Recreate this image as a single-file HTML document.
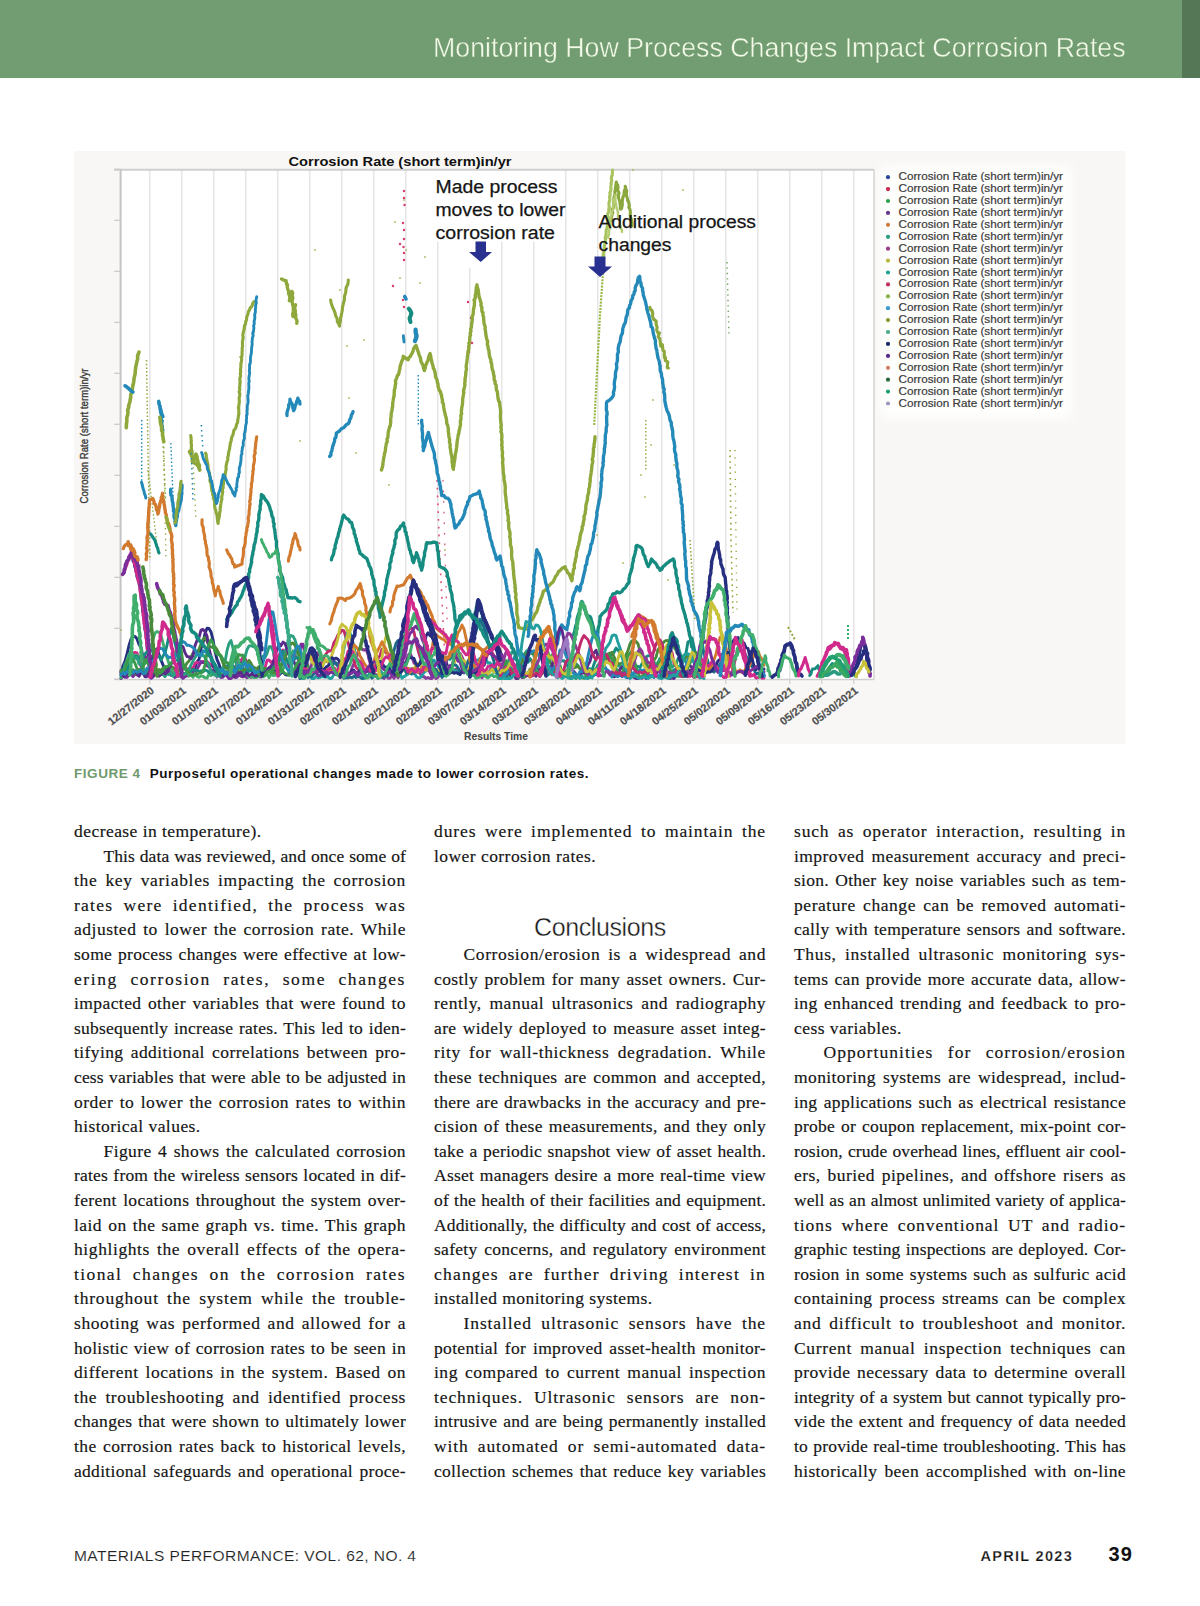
<!DOCTYPE html>
<html><head><meta charset="utf-8">
<style>
html,body{margin:0;padding:0;background:#fff;}
body{width:1200px;height:1606px;position:relative;overflow:hidden;}
.hdr{position:absolute;left:0;top:0;width:1182px;height:78px;background:#729c71;}
.hdr2{position:absolute;left:1182px;top:0;width:18px;height:78px;background:#557755;}
.title{position:absolute;left:433px;top:31.5px;font:28px "Liberation Sans",sans-serif;color:#f3fbe8;-webkit-text-stroke:0.45px #729c71;white-space:nowrap;transform-origin:0 0;transform:scaleX(0.955);}
.ln{position:absolute;width:332px;font-family:"Liberation Serif",serif;font-size:17.5px;line-height:24.6px;height:24.6px;color:#151515;white-space:nowrap;-webkit-text-stroke:0.18px #151515;}
.j{text-align:justify;text-align-last:justify;}
.i{text-align:justify;text-align-last:justify;padding-left:29.5px;width:302.5px;}
.l{text-align:left;}
.cap{position:absolute;left:74px;top:765.5px;font:bold 13.5px "Liberation Sans",sans-serif;white-space:nowrap;letter-spacing:0.55px;color:#111;}
.cap .fg{color:#6f9a6e;margin-right:9px;}
.concl{position:absolute;left:434px;width:332px;top:912.5px;text-align:center;font:25px "Liberation Sans",sans-serif;color:#1a1a1a;letter-spacing:-0.4px;-webkit-text-stroke:0.35px #fff;}
.foot1{position:absolute;left:74px;top:1547px;font:15.5px "Liberation Sans",sans-serif;color:#222;white-space:nowrap;letter-spacing:0.44px;-webkit-text-stroke:0.12px #fff;}
.foot2{position:absolute;left:980.5px;top:1548px;font:bold 14.5px "Liberation Sans",sans-serif;color:#111;letter-spacing:1.3px;white-space:nowrap;-webkit-text-stroke:0.25px #fff;}
.foot3{position:absolute;left:1108.5px;top:1542.5px;font:bold 20px "Liberation Sans",sans-serif;color:#111;white-space:nowrap;letter-spacing:1.2px;}
.chart{position:absolute;left:0;top:0;}
</style></head><body>
<div class="hdr"></div><div class="hdr2"></div>
<div class="title">Monitoring How Process Changes Impact Corrosion Rates</div>
<svg class="chart" width="1200" height="760" viewBox="0 0 1200 760">
<rect x="74" y="151" width="1051.5" height="593" fill="#f8f7f5"/>
<defs><filter id="bl" x="-20%" y="-20%" width="140%" height="140%"><feGaussianBlur stdDeviation="5"/></filter></defs><rect x="880" y="166" width="192" height="253" fill="#fefefd" filter="url(#bl)"/>
<rect x="120.5" y="169.5" width="753" height="510" fill="#ffffff"/>
<line x1="149.8" y1="170" x2="149.8" y2="679" stroke="#e3e3e3" stroke-width="1.4"/><line x1="149.8" y1="679" x2="149.8" y2="684" stroke="#c8c8c8" stroke-width="1"/><line x1="181.8" y1="170" x2="181.8" y2="679" stroke="#e3e3e3" stroke-width="1.4"/><line x1="181.8" y1="679" x2="181.8" y2="684" stroke="#c8c8c8" stroke-width="1"/><line x1="213.8" y1="170" x2="213.8" y2="679" stroke="#e3e3e3" stroke-width="1.4"/><line x1="213.8" y1="679" x2="213.8" y2="684" stroke="#c8c8c8" stroke-width="1"/><line x1="245.8" y1="170" x2="245.8" y2="679" stroke="#e3e3e3" stroke-width="1.4"/><line x1="245.8" y1="679" x2="245.8" y2="684" stroke="#c8c8c8" stroke-width="1"/><line x1="277.8" y1="170" x2="277.8" y2="679" stroke="#e3e3e3" stroke-width="1.4"/><line x1="277.8" y1="679" x2="277.8" y2="684" stroke="#c8c8c8" stroke-width="1"/><line x1="309.8" y1="170" x2="309.8" y2="679" stroke="#e3e3e3" stroke-width="1.4"/><line x1="309.8" y1="679" x2="309.8" y2="684" stroke="#c8c8c8" stroke-width="1"/><line x1="341.8" y1="170" x2="341.8" y2="679" stroke="#e3e3e3" stroke-width="1.4"/><line x1="341.8" y1="679" x2="341.8" y2="684" stroke="#c8c8c8" stroke-width="1"/><line x1="373.8" y1="170" x2="373.8" y2="679" stroke="#e3e3e3" stroke-width="1.4"/><line x1="373.8" y1="679" x2="373.8" y2="684" stroke="#c8c8c8" stroke-width="1"/><line x1="405.8" y1="170" x2="405.8" y2="679" stroke="#e3e3e3" stroke-width="1.4"/><line x1="405.8" y1="679" x2="405.8" y2="684" stroke="#c8c8c8" stroke-width="1"/><line x1="437.8" y1="170" x2="437.8" y2="679" stroke="#e3e3e3" stroke-width="1.4"/><line x1="437.8" y1="679" x2="437.8" y2="684" stroke="#c8c8c8" stroke-width="1"/><line x1="469.8" y1="170" x2="469.8" y2="679" stroke="#e3e3e3" stroke-width="1.4"/><line x1="469.8" y1="679" x2="469.8" y2="684" stroke="#c8c8c8" stroke-width="1"/><line x1="501.8" y1="170" x2="501.8" y2="679" stroke="#e3e3e3" stroke-width="1.4"/><line x1="501.8" y1="679" x2="501.8" y2="684" stroke="#c8c8c8" stroke-width="1"/><line x1="533.8" y1="170" x2="533.8" y2="679" stroke="#e3e3e3" stroke-width="1.4"/><line x1="533.8" y1="679" x2="533.8" y2="684" stroke="#c8c8c8" stroke-width="1"/><line x1="565.8" y1="170" x2="565.8" y2="679" stroke="#e3e3e3" stroke-width="1.4"/><line x1="565.8" y1="679" x2="565.8" y2="684" stroke="#c8c8c8" stroke-width="1"/><line x1="597.8" y1="170" x2="597.8" y2="679" stroke="#e3e3e3" stroke-width="1.4"/><line x1="597.8" y1="679" x2="597.8" y2="684" stroke="#c8c8c8" stroke-width="1"/><line x1="629.8" y1="170" x2="629.8" y2="679" stroke="#e3e3e3" stroke-width="1.4"/><line x1="629.8" y1="679" x2="629.8" y2="684" stroke="#c8c8c8" stroke-width="1"/><line x1="661.8" y1="170" x2="661.8" y2="679" stroke="#e3e3e3" stroke-width="1.4"/><line x1="661.8" y1="679" x2="661.8" y2="684" stroke="#c8c8c8" stroke-width="1"/><line x1="693.8" y1="170" x2="693.8" y2="679" stroke="#e3e3e3" stroke-width="1.4"/><line x1="693.8" y1="679" x2="693.8" y2="684" stroke="#c8c8c8" stroke-width="1"/><line x1="725.8" y1="170" x2="725.8" y2="679" stroke="#e3e3e3" stroke-width="1.4"/><line x1="725.8" y1="679" x2="725.8" y2="684" stroke="#c8c8c8" stroke-width="1"/><line x1="757.8" y1="170" x2="757.8" y2="679" stroke="#e3e3e3" stroke-width="1.4"/><line x1="757.8" y1="679" x2="757.8" y2="684" stroke="#c8c8c8" stroke-width="1"/><line x1="789.8" y1="170" x2="789.8" y2="679" stroke="#e3e3e3" stroke-width="1.4"/><line x1="789.8" y1="679" x2="789.8" y2="684" stroke="#c8c8c8" stroke-width="1"/><line x1="821.8" y1="170" x2="821.8" y2="679" stroke="#e3e3e3" stroke-width="1.4"/><line x1="821.8" y1="679" x2="821.8" y2="684" stroke="#c8c8c8" stroke-width="1"/><line x1="853.8" y1="170" x2="853.8" y2="679" stroke="#e3e3e3" stroke-width="1.4"/><line x1="853.8" y1="679" x2="853.8" y2="684" stroke="#c8c8c8" stroke-width="1"/>
<line x1="114" y1="169.8" x2="874" y2="169.8" stroke="#cfcfcf" stroke-width="2"/>
<line x1="120.6" y1="169" x2="120.6" y2="680" stroke="#c4c4c4" stroke-width="2"/>
<line x1="874" y1="169" x2="874" y2="680" stroke="#d4d4d4" stroke-width="1.5"/>
<line x1="114" y1="679.5" x2="874" y2="679.5" stroke="#d0d0d0" stroke-width="1.5"/><line x1="114" y1="169.3" x2="121" y2="169.3" stroke="#c8c8c8" stroke-width="1.2"/><line x1="114" y1="220.3" x2="121" y2="220.3" stroke="#c8c8c8" stroke-width="1.2"/><line x1="114" y1="271.3" x2="121" y2="271.3" stroke="#c8c8c8" stroke-width="1.2"/><line x1="114" y1="322.3" x2="121" y2="322.3" stroke="#c8c8c8" stroke-width="1.2"/><line x1="114" y1="373.3" x2="121" y2="373.3" stroke="#c8c8c8" stroke-width="1.2"/><line x1="114" y1="424.3" x2="121" y2="424.3" stroke="#c8c8c8" stroke-width="1.2"/><line x1="114" y1="475.3" x2="121" y2="475.3" stroke="#c8c8c8" stroke-width="1.2"/><line x1="114" y1="526.3" x2="121" y2="526.3" stroke="#c8c8c8" stroke-width="1.2"/><line x1="114" y1="577.3" x2="121" y2="577.3" stroke="#c8c8c8" stroke-width="1.2"/><line x1="114" y1="628.3" x2="121" y2="628.3" stroke="#c8c8c8" stroke-width="1.2"/><line x1="114" y1="679.3" x2="121" y2="679.3" stroke="#c8c8c8" stroke-width="1.2"/>
<defs><filter id="sb" x="-5%" y="-5%" width="110%" height="110%"><feGaussianBlur stdDeviation="0.55"/></filter></defs><g filter="url(#sb)"><polyline points="146.5,360.0 148.0,450.0 150.0,560.0" fill="none" stroke="#8fa83a" stroke-width="1.5" stroke-dasharray="1.5 2.2"/><polyline points="141.7,420.0 141.7,483.0" fill="none" stroke="#2389b8" stroke-width="1.5" stroke-dasharray="1.5 2.2"/><polyline points="170.8,443.0 174.2,525.0" fill="none" stroke="#2389b8" stroke-width="1.4" stroke-dasharray="1.5 2.2"/><polyline points="418.3,375.0 418.3,425.0" fill="none" stroke="#2389b8" stroke-width="1.4" stroke-dasharray="1.5 2.2"/><polyline points="594.2,425.0 600.0,315.0 605.0,245.0" fill="none" stroke="#9ab844" stroke-width="2.2" stroke-dasharray="2 1.2"/><polyline points="645.8,420.0 645.8,470.0" fill="none" stroke="#8fa83a" stroke-width="1.4" stroke-dasharray="1.5 2.2"/><polyline points="730.0,450.0 731.0,540.0 733.0,613.0" fill="none" stroke="#8fa83a" stroke-width="1.6" stroke-dasharray="1.6 4"/><polyline points="735.0,450.0 736.0,540.0 737.0,613.0" fill="none" stroke="#8fa83a" stroke-width="1.4" stroke-dasharray="1.2 6"/><polyline points="690.0,540.0 695.0,620.0" fill="none" stroke="#8fa83a" stroke-width="1.6" stroke-dasharray="1.5 2.2"/><polyline points="727.0,262.0 729.0,337.0" fill="none" stroke="#7aa868" stroke-width="1.5" stroke-dasharray="1.4 4"/><circle cx="404" cy="191" r="1.25" fill="#d84070"/><circle cx="404" cy="198" r="1.25" fill="#d84070"/><circle cx="404.5" cy="205" r="1.25" fill="#d84070"/><circle cx="403" cy="223" r="1.25" fill="#d84070"/><circle cx="404" cy="230" r="1.25" fill="#d84070"/><circle cx="404" cy="239" r="1.25" fill="#d84070"/><circle cx="403.5" cy="247" r="1.25" fill="#d84070"/><circle cx="404" cy="253" r="1.25" fill="#d84070"/><circle cx="404" cy="260" r="1.25" fill="#d84070"/><circle cx="400" cy="244" r="1.25" fill="#d84070"/><circle cx="393" cy="286" r="1.25" fill="#d84070"/><circle cx="470" cy="174" r="1.25" fill="#d84070"/><circle cx="468" cy="302" r="1.25" fill="#d84070"/><circle cx="471" cy="318" r="1.25" fill="#d84070"/><circle cx="472" cy="343" r="1.25" fill="#d84070"/><circle cx="469" cy="352" r="1.25" fill="#d84070"/><circle cx="403" cy="300" r="1.25" fill="#d84070"/><circle cx="404" cy="307" r="1.25" fill="#d84070"/><polyline points="437.0,480.0 440.0,560.0 446.0,680.0" fill="none" stroke="#d8507a" stroke-width="1.6" stroke-dasharray="1.8 6"/><polyline points="443.0,480.0 447.0,620.0" fill="none" stroke="#d8507a" stroke-width="1.3" stroke-dasharray="1.6 9"/><polyline points="148.0,470.0 158.0,553.0" fill="none" stroke="#8fa83a" stroke-width="1.3" stroke-dasharray="1.5 2.2"/><polyline points="163.3,420.0 166.0,560.0" fill="none" stroke="#8fa83a" stroke-width="1.3" stroke-dasharray="1.4 4"/><polyline points="192.0,440.0 196.0,520.0" fill="none" stroke="#8fa83a" stroke-width="1.3" stroke-dasharray="1.4 4"/><circle cx="404" cy="200" r="1.1" fill="#b0b060" opacity="0.8"/><circle cx="395" cy="222" r="1.1" fill="#b0b060" opacity="0.8"/><circle cx="406" cy="250" r="1.1" fill="#b0b060" opacity="0.8"/><circle cx="425" cy="257" r="1.1" fill="#b0b060" opacity="0.8"/><circle cx="437" cy="214" r="1.1" fill="#b0b060" opacity="0.8"/><circle cx="473" cy="300" r="1.1" fill="#b0b060" opacity="0.8"/><circle cx="420" cy="283" r="1.1" fill="#b0b060" opacity="0.8"/><circle cx="468" cy="343" r="1.1" fill="#b0b060" opacity="0.8"/><circle cx="483" cy="165" r="1.1" fill="#b0b060" opacity="0.8"/><circle cx="633" cy="170" r="1.1" fill="#b0b060" opacity="0.8"/><circle cx="650" cy="222" r="1.1" fill="#b0b060" opacity="0.8"/><circle cx="683" cy="190" r="1.1" fill="#b0b060" opacity="0.8"/><circle cx="652" cy="310" r="1.1" fill="#b0b060" opacity="0.8"/><circle cx="653" cy="400" r="1.1" fill="#b0b060" opacity="0.8"/><circle cx="651" cy="445" r="1.1" fill="#b0b060" opacity="0.8"/><circle cx="674" cy="465" r="1.1" fill="#b0b060" opacity="0.8"/><circle cx="641" cy="475" r="1.1" fill="#b0b060" opacity="0.8"/><circle cx="645" cy="497" r="1.1" fill="#b0b060" opacity="0.8"/><circle cx="668" cy="580" r="1.1" fill="#b0b060" opacity="0.8"/><circle cx="623" cy="563" r="1.1" fill="#b0b060" opacity="0.8"/><circle cx="597" cy="535" r="1.1" fill="#b0b060" opacity="0.8"/><circle cx="315" cy="250" r="1.1" fill="#b0b060" opacity="0.8"/><circle cx="340" cy="290" r="1.1" fill="#b0b060" opacity="0.8"/><circle cx="347" cy="346" r="1.1" fill="#b0b060" opacity="0.8"/><circle cx="349" cy="398" r="1.1" fill="#b0b060" opacity="0.8"/><circle cx="400" cy="278" r="1.1" fill="#b0b060" opacity="0.8"/><circle cx="445" cy="550" r="1.1" fill="#b0b060" opacity="0.8"/><circle cx="389" cy="485" r="1.1" fill="#b0b060" opacity="0.8"/><circle cx="364" cy="340" r="1.1" fill="#b0b060" opacity="0.8"/><circle cx="356" cy="453" r="1.1" fill="#b0b060" opacity="0.8"/><circle cx="140" cy="565" r="1.1" fill="#b0b060" opacity="0.8"/><circle cx="121" cy="630" r="1.1" fill="#b0b060" opacity="0.8"/><circle cx="240" cy="357" r="1.1" fill="#b0b060" opacity="0.8"/><circle cx="254" cy="332" r="1.1" fill="#b0b060" opacity="0.8"/><circle cx="300" cy="441" r="1.1" fill="#b0b060" opacity="0.8"/><polyline points="126.2,427.6 126.4,426.4 126.4,423.6 126.7,422.4 126.9,420.4 126.8,417.5 127.2,416.3 127.7,414.8 128.0,412.3 127.7,410.0 128.8,407.1 128.6,405.9 129.5,402.9 130.0,401.7 130.2,399.2 130.7,397.7 130.7,394.6 131.8,392.5 132.0,390.8 132.3,389.1 132.8,385.9 133.2,384.5 133.7,381.7 134.0,379.2 134.0,378.6 134.7,375.6 135.2,373.3 135.2,372.2 135.5,369.2 135.8,366.5 136.1,365.7 136.6,363.1 137.3,360.2 137.7,358.8 137.6,355.6 138.2,354.4 139.0,352.0" fill="none" stroke="#8fa83a" stroke-width="3.60" stroke-linejoin="round" stroke-linecap="round" opacity="1"/><polyline points="125.0,385.8 127.2,387.3 128.7,388.5 131.3,391.1 133.0,392.0" fill="none" stroke="#2389b8" stroke-width="3.60" stroke-linejoin="round" stroke-linecap="round" opacity="1"/><polyline points="159.1,402.1 159.2,404.6 159.9,405.9 159.9,409.0 160.2,410.0 160.4,412.2 161.3,414.8 161.1,417.5 161.3,419.2 162.2,420.7 161.8,424.1 162.1,424.9 162.6,428.3 163.0,430.0" fill="none" stroke="#2389b8" stroke-width="3.00" stroke-linejoin="round" stroke-linecap="round" opacity="1"/><polyline points="190.7,435.5 191.0,436.9 191.1,439.4 191.2,441.6 191.1,443.1 191.5,444.5 191.3,447.9 191.6,449.7 192.1,451.2 192.1,453.4 192.0,455.1 192.6,457.0 192.6,460.1 192.1,461.6 194.7,463.4 196.4,464.5 198.3,466.7" fill="none" stroke="#8fa83a" stroke-width="3.12" stroke-linejoin="round" stroke-linecap="round" opacity="1"/><polyline points="205.6,453.2 206.2,454.5 206.3,457.5 206.9,459.2 206.9,460.5 207.6,463.0 207.9,464.8 208.0,467.1 208.4,469.1 208.9,471.8 209.6,473.4 209.5,475.8 210.2,477.5 209.9,480.4 210.3,482.0 211.3,483.7 211.1,485.2 211.7,488.1 211.8,490.7 212.7,491.9 212.7,494.8 213.6,495.5 213.3,498.2 214.3,500.4 214.6,501.6 214.5,504.8 214.8,506.4 215.1,508.6 215.7,510.0 216.3,513.5 216.9,514.3 217.2,517.1 217.4,519.1 217.5,521.0 218.1,523.5 218.3,520.5 218.7,519.1 219.2,517.1 219.5,515.0 219.5,513.5 220.2,510.8 220.1,507.9 220.5,507.0 220.7,505.0 221.0,503.2 221.3,501.0 221.9,499.2 221.7,496.9 222.3,494.3 222.7,491.8 222.4,489.8 223.2,487.7 223.1,485.9 223.4,484.3 223.4,482.5 223.8,480.7 224.6,478.5 225.1,475.1 225.4,473.1 225.5,472.3 226.2,469.0 226.0,467.8 226.2,465.3 226.6,463.7 227.2,461.1 227.9,459.6 227.7,457.5 228.3,455.5 228.6,452.9 228.8,451.6 229.7,448.3 229.7,447.1 230.2,444.8 230.3,443.1 231.1,441.4 231.4,438.8 231.8,437.0 232.9,435.0 233.6,431.8 234.1,429.7 235.2,429.0 236.2,426.5 236.5,424.4 237.6,422.7 237.9,419.2 238.3,417.3 238.3,416.4 238.9,413.7 238.8,412.0 238.8,409.7 238.4,407.3 238.9,406.7 238.9,404.5 239.4,402.1 239.2,399.8 239.2,397.3 239.7,396.1 239.8,393.7 239.1,391.9 239.8,389.8 239.5,387.3 239.9,386.1 239.8,383.7 240.2,382.7 239.8,379.5 240.0,377.9 240.6,376.1 240.3,373.4 240.8,371.6 240.4,369.5 240.7,368.2 240.9,366.5 240.8,363.7 241.3,362.2 241.7,359.6 241.3,357.3 241.9,356.6 242.1,354.1 242.0,352.6 242.3,349.9 242.1,348.5 242.6,345.9 242.4,344.0 242.5,341.4 242.8,339.4 243.2,337.4 242.7,335.0 243.1,333.7 243.4,331.8 244.1,329.7 244.4,327.0 244.5,325.7 245.5,324.1 245.8,321.3 246.5,320.0 246.7,317.2 247.2,316.0 248.0,313.8 248.4,311.7 249.5,310.0 250.2,307.9 251.9,306.3 252.9,303.2 254.0,301.7" fill="none" stroke="#8fa83a" stroke-width="3.12" stroke-linejoin="round" stroke-linecap="round" opacity="1"/><polyline points="201.6,452.5 202.3,454.3 203.0,457.4 203.6,459.4 204.3,460.1 205.0,462.0 206.2,464.3 207.2,465.9 207.2,468.3 208.1,470.5 209.1,472.7 209.2,473.7 209.9,475.8 210.4,477.7 210.5,479.8 211.6,481.0 212.0,483.7 212.6,485.2 212.6,487.4 213.4,490.0 213.6,492.1 214.4,493.0 215.1,495.2 214.9,496.4 215.9,499.9 216.0,501.8 216.5,503.5 217.4,501.1 217.5,499.3 218.2,497.7 218.2,495.2 218.9,492.4 219.5,491.3 220.2,488.9 220.3,487.5 221.2,484.9 221.2,483.4 221.7,480.4 222.5,478.7 222.9,477.1 223.1,474.6 224.8,476.6 225.6,478.7 226.8,480.9 227.6,483.1 229.1,485.0 229.9,486.5 231.0,488.4 232.2,490.7 232.9,493.1 234.3,494.9 234.8,496.0 235.0,494.8 235.4,491.9 236.4,490.3 236.0,488.2 236.9,486.8 236.8,483.7 237.1,482.2 237.4,479.8 237.6,478.0 238.6,477.0 238.7,473.9 239.4,472.5 239.3,470.3 239.3,467.8 240.0,466.1 240.5,463.6 240.7,462.3 241.0,460.1 241.1,457.3 241.2,455.2 242.0,454.0 241.8,452.3 242.1,450.2 242.5,447.2 243.2,445.9 243.3,444.3 243.2,442.6 243.6,440.5 244.4,438.5 244.3,436.1 244.3,433.9 244.8,432.4 245.3,430.1 245.5,427.4 245.5,426.7 246.1,423.8 246.5,422.5 246.3,420.4 246.6,418.5 246.5,415.5 247.2,414.1 247.0,411.5 247.3,409.1 247.2,408.0 247.3,405.6 248.0,403.0 248.2,401.0 248.0,400.3 248.0,398.2 247.8,395.7 248.3,393.5 248.5,391.3 248.8,389.7 248.9,386.7 248.8,384.9 248.7,383.7 249.2,380.7 248.9,379.7 248.9,377.8 249.2,375.7 249.7,373.1 249.3,370.9 249.5,369.8 249.6,366.3 249.6,364.3 250.2,363.6 250.5,360.8 250.4,358.4 250.7,356.1 251.2,353.9 251.4,352.5 251.5,350.0 251.6,348.3 251.9,346.1 252.2,344.1 252.0,341.7 252.3,340.2 252.3,338.4 253.2,335.6 252.7,333.1 253.2,332.2 253.6,330.4 253.9,327.8 253.6,326.2 254.3,323.3 254.1,321.3 254.7,319.1 254.9,316.5 254.6,315.7 254.9,313.8 255.5,311.9 255.3,309.5 255.7,307.4 255.6,305.3 256.4,302.7 256.0,301.3 256.1,299.5 256.7,296.7" fill="none" stroke="#2389b8" stroke-width="2.88" stroke-linejoin="round" stroke-linecap="round" opacity="1"/><polyline points="281.5,279.0 282.6,279.5 284.8,280.6 286.0,280.6 286.6,284.4 287.5,284.7 287.2,287.0 288.3,290.7 288.8,291.4 288.6,293.6 289.7,296.1 289.8,298.4 289.3,300.8 290.1,296.6 291.3,295.6 292.1,294.6 291.8,291.3 292.7,292.9 292.0,296.3 292.9,297.3 292.6,299.0 292.1,301.5 292.8,305.5 292.9,305.3 293.4,307.6 293.3,310.1 293.6,313.3 292.9,316.5 292.7,313.8 294.1,310.7 294.3,309.2 294.0,308.2 295.6,304.7 294.6,308.1 295.1,310.4 295.3,310.3 295.3,313.9 295.8,314.7 295.6,317.8 296.5,319.5 297.1,321.5 296.7,323.3" fill="none" stroke="#8fa83a" stroke-width="3.36" stroke-linejoin="round" stroke-linecap="round" opacity="1"/><polyline points="330.6,300.1 331.1,302.6 331.9,305.4 332.8,307.7 333.7,309.5 334.4,311.2 335.2,313.4 335.6,315.6 336.3,316.9 337.2,319.0 337.4,321.9 338.4,323.2 339.6,326.1 339.5,323.3 340.2,322.3 340.6,319.8 340.5,318.2 341.3,315.7 341.4,314.3 341.8,312.6 342.3,310.2 342.4,307.9 343.0,305.2 343.3,303.8 343.8,301.6 344.3,300.6 344.4,298.0 344.5,296.4 345.0,294.6 345.8,292.3 345.9,289.5 346.2,287.6 346.9,286.0 347.7,284.7 348.2,281.4 348.3,280.0" fill="none" stroke="#8fa83a" stroke-width="3.12" stroke-linejoin="round" stroke-linecap="round" opacity="1"/><polyline points="287.0,415.5 286.9,413.2 287.3,411.3 288.4,408.0 288.8,406.7 288.7,404.8 289.9,402.8 290.0,399.3 290.4,401.6 291.7,403.2 292.5,405.2 293.1,408.8 293.7,410.6 294.7,408.6 295.0,406.4 296.2,403.6 296.7,401.5 297.3,400.0 297.9,398.1 298.5,400.4 299.6,401.2 300.0,404.0" fill="none" stroke="#2389b8" stroke-width="3.36" stroke-linejoin="round" stroke-linecap="round" opacity="1"/><polyline points="329.6,456.4 330.9,455.3 331.0,452.5 331.9,450.8 332.0,449.6 332.7,446.5 333.2,444.9 333.9,442.9 334.5,441.6 334.8,438.4 335.9,437.4 336.3,434.3 336.3,433.2 338.6,431.7 339.9,430.5 341.5,428.6 343.6,427.8 344.7,426.5 346.9,424.2 348.3,423.6 349.4,421.6 349.5,420.2 351.0,417.4 351.4,414.8 352.3,413.8 353.0,411.7" fill="none" stroke="#2389b8" stroke-width="3.36" stroke-linejoin="round" stroke-linecap="round" opacity="1"/><polyline points="404.7,296.5 406.0,299.0" fill="none" stroke="#2389b8" stroke-width="3.60" stroke-linejoin="round" stroke-linecap="round" opacity="1"/><polyline points="408.8,308.6 410.5,311.0 411.4,313.4 410.5,316.0 409.6,318.3 409.9,319.8 410.5,322.0" fill="none" stroke="#168b80" stroke-width="4.08" stroke-linejoin="round" stroke-linecap="round" opacity="1"/><polyline points="415.6,329.7 415.7,332.6 416.2,334.4 416.6,335.9 415.9,338.6 415.0,341.0" fill="none" stroke="#2389b8" stroke-width="4.32" stroke-linejoin="round" stroke-linecap="round" opacity="1"/><polyline points="403.4,335.8 403.5,337.9 403.9,339.8 404.0,342.0" fill="none" stroke="#2389b8" stroke-width="2.88" stroke-linejoin="round" stroke-linecap="round" opacity="1"/><polyline points="381.5,470.0 382.3,467.2 382.8,465.6 382.9,463.7 383.1,461.9 383.4,460.2 383.8,457.5 384.2,455.8 384.4,454.0 385.2,451.4 385.5,449.1 385.5,447.9 386.0,445.5 386.4,443.1 387.2,441.9 387.0,439.1 387.7,437.9 388.1,435.2 388.1,433.2 388.6,430.6 389.1,429.0 389.5,427.0 390.3,425.8 390.6,422.8 390.7,421.2 390.6,419.3 391.0,417.5 391.1,415.5 391.4,412.3 392.1,410.2 392.1,407.9 392.6,407.2 392.7,403.9 392.8,402.3 393.2,400.2 393.6,397.5 394.2,395.5 394.1,394.7 394.3,391.3 394.4,389.7 395.0,388.4 395.2,385.4 395.8,383.5 395.4,381.0 396.0,379.6 396.9,377.4 397.5,375.3 398.4,374.6 399.0,372.8 399.3,370.8 399.9,369.0 400.1,366.2 400.8,364.5 401.5,361.9 401.9,361.2 403.1,358.3 403.2,356.3 405.7,358.2 408.2,359.7 408.9,357.5 410.4,356.4 411.0,355.0 412.4,352.7 413.0,351.0 413.7,348.6 414.5,347.1 416.1,345.4 416.5,346.9 417.1,348.5 417.8,350.9 418.6,352.7 418.7,353.9 420.0,356.9 420.6,358.6 420.8,360.7 421.2,362.1 422.7,364.5 423.0,365.4 423.6,368.7 424.4,370.6 425.2,367.9 425.6,365.6 426.6,363.3 426.9,362.3 428.0,360.7 428.3,358.7 429.0,355.9 430.1,353.5 430.8,356.3 431.0,358.6 431.5,360.1 431.9,362.2 432.2,363.7 433.0,365.8 433.4,368.6 434.1,369.3 435.0,372.2 435.4,374.7 435.5,376.6 436.1,378.0 437.0,379.7 437.4,382.5 438.1,384.2 438.0,386.4 438.8,388.2 439.1,390.1 440.4,391.5 441.0,394.0 441.5,395.2 441.8,397.6 442.5,400.2 442.3,401.9 443.3,403.8 443.7,406.9 443.8,407.7 444.3,410.8 445.0,413.2 445.2,414.7 446.0,417.2 446.4,419.1 446.6,420.8 446.8,423.5 447.7,425.5 448.0,427.0 448.3,429.0 448.3,431.8 448.7,433.7 448.8,435.7 448.9,436.7 449.7,439.8 449.4,441.7 450.1,444.1 450.2,445.9 450.0,447.4 450.5,449.1 450.7,451.1 451.0,453.4 451.5,455.3 451.9,457.5 452.2,459.6 452.0,461.9 452.6,463.9 452.5,466.1 452.8,467.5 453.4,469.3 453.3,468.5 454.0,465.1 453.9,463.9 454.5,461.4 454.7,460.5 455.0,457.4 455.2,455.6 455.4,453.9 456.1,451.2 456.3,449.2 456.6,447.5 456.8,445.5 457.0,443.1 457.2,441.2 457.6,438.8 457.8,437.8 458.3,434.6 458.8,433.6 459.1,430.5 459.6,429.7 459.7,427.5 460.4,425.7 460.5,422.5 460.3,421.1 461.0,419.3 460.9,416.3 460.8,415.5 461.7,413.7 461.3,411.6 461.7,408.7 461.7,407.8 462.4,404.9 462.5,403.0 462.7,400.4 462.7,399.4 462.9,397.6 463.4,394.7 463.9,392.6 463.5,391.4 463.8,389.2 464.4,387.8 464.9,385.0 464.7,382.8 465.2,380.4 464.9,379.3 465.6,376.4 465.7,375.5 465.8,372.5 466.0,371.4 466.5,369.3 466.2,367.0 466.4,364.3 466.8,362.6 467.0,360.4 467.2,358.9 467.3,357.1 467.8,354.7 467.8,353.6 468.2,350.7 469.0,348.3 468.6,346.7 469.1,345.2 469.2,343.1 469.7,341.4 469.7,339.3 469.9,336.3 470.6,335.1 470.1,333.3 471.0,331.0 470.6,329.2 471.4,327.4 471.5,324.7 471.7,323.3 472.1,321.7 472.3,318.7 472.2,316.5 473.0,314.6 473.2,313.7 473.3,311.8 473.5,309.6 474.1,306.4 474.4,305.7 474.4,302.6 474.6,301.0 474.5,299.3 475.5,297.4 475.2,295.6 475.9,292.8 476.0,290.7 476.2,289.6 476.3,287.5 477.0,284.8 477.3,287.7 477.9,288.5 478.4,291.1 478.5,293.4 478.8,294.5 479.1,296.7 480.0,299.3 480.4,301.2 481.2,303.3 480.9,305.2 482.0,307.4 481.7,308.2 482.0,311.5 483.0,312.6 482.9,315.3 483.6,316.9 483.6,318.5 483.9,321.8 484.1,323.6 484.9,326.0 485.3,327.4 485.0,328.8 485.6,331.9 485.8,333.6 486.1,336.2 486.4,337.5 487.1,340.4 487.7,341.2 487.3,344.5 488.0,346.2 488.1,348.3 488.9,350.3 489.0,352.5 489.2,353.8 489.6,356.1 490.0,357.8 491.0,360.1 490.8,361.9 491.6,363.3 491.8,365.7 492.0,368.0 492.8,370.7 493.4,371.9 493.4,373.7 494.2,376.5 494.0,377.3 494.3,380.3 495.2,381.3 495.1,383.8 496.2,385.3 496.2,388.0 496.5,390.1 497.3,391.5 497.6,393.8 497.8,396.4 498.0,398.0 498.7,401.0 499.5,402.2 499.8,404.6 500.1,407.4 500.4,408.7 500.6,411.2 500.6,412.3 500.5,414.6 500.4,417.3 500.6,419.6 500.6,420.2 500.9,423.3 501.3,425.6 500.8,427.3 501.4,429.7 500.9,431.7 501.5,432.8 501.8,434.8 501.9,436.8 501.6,440.1 501.9,441.1 502.0,442.9 501.7,445.3 502.2,447.1 501.9,449.4 502.5,451.6 502.5,453.2 502.3,455.6 502.6,458.2 503.0,459.2 502.5,462.4 502.8,464.2 502.9,466.1 503.2,468.6 503.1,469.6 503.3,472.1 503.4,473.7 504.0,476.0 504.0,478.9 504.3,480.9 504.5,481.8 504.9,483.7 505.1,486.0 505.3,487.9 505.2,489.8 505.2,492.2 505.5,495.0 505.7,495.7 505.9,497.7 506.0,500.0 506.3,502.4 506.6,504.2 506.7,505.8 506.8,508.5 507.6,510.0 507.4,513.2 508.0,514.8 508.0,515.7 508.4,518.8 508.0,520.5 508.9,522.7 508.6,524.7 508.8,527.1 508.8,528.6 509.3,529.9 509.9,532.5 510.1,533.9 509.7,537.2 510.3,538.6 510.3,540.3 510.5,542.7 510.4,545.3 511.0,546.3 511.5,549.3 511.7,551.4 511.7,552.1 511.5,555.0 511.7,556.6 511.9,559.2 512.3,560.2 512.9,562.7 512.9,565.1 513.1,566.1 513.2,569.4 513.6,570.6 513.6,572.6 513.6,574.3 514.0,576.9 514.1,578.7 514.6,580.9 514.6,583.2 515.2,585.4 514.8,587.4 515.5,588.2 515.1,591.6 515.7,592.6 516.0,595.3 515.5,597.2 516.2,599.8 516.1,601.6 516.6,603.3 516.9,606.1 516.7,607.8 516.9,608.8 516.8,611.9 516.9,614.2 517.5,616.2 517.6,617.0 518.0,620.3 517.6,622.3 518.1,624.6 518.5,625.3 518.4,627.3 520.9,628.1 523.1,628.6 525.3,629.2 526.6,628.6 527.7,626.5 528.6,625.4 530.2,623.3 530.9,620.8 532.5,619.1 533.6,617.1 534.6,615.2 535.2,613.7 536.6,612.3 537.6,609.2 538.0,607.0 538.9,605.0 539.0,604.1 540.1,601.7 540.3,599.8 541.5,597.7 541.9,596.4 542.7,593.8 543.3,591.3 545.1,590.4 546.8,588.3 548.0,586.8 550.2,584.4 551.7,583.0 552.9,582.1 554.4,579.2 555.3,576.8 556.6,575.2 557.5,574.0 558.5,571.5 559.9,570.7 562.6,567.9 565.1,566.7 565.8,569.3 566.9,570.6 567.7,572.9 569.1,573.7 569.9,575.8 570.8,578.0 571.9,580.8 572.3,578.3 572.1,576.2 573.0,574.0 573.1,572.0 573.5,569.4 574.4,568.3 574.2,565.2 574.4,563.9 575.4,561.0 575.3,559.8 576.0,557.5 576.5,555.3 576.4,553.0 576.9,550.7 577.5,549.2 577.8,547.4 578.6,544.6 578.9,543.0 579.5,540.4 580.0,539.0 579.8,537.7 580.3,535.7 580.7,533.6 581.8,530.6 582.2,529.0 582.1,526.7 583.1,525.2 583.2,523.1 583.5,521.6 584.2,518.7 583.9,517.1 584.5,515.2 585.2,513.8 585.3,511.3 585.9,508.5 585.7,507.4 586.1,504.4 586.5,503.1 587.0,501.0 587.6,499.2 587.4,497.6 588.0,494.5 588.4,493.9 588.8,491.0 588.8,489.4 589.5,487.0 589.7,485.3 589.7,484.0 590.2,481.2 590.2,478.6 590.5,476.7 590.6,475.7 591.1,473.0 591.2,471.8 591.7,469.0 591.8,466.8 592.0,465.0 592.5,462.6 592.8,460.9 592.2,459.3 593.0,457.0 593.1,455.0 593.4,452.3 593.5,451.2 593.4,448.1 594.1,447.2 594.0,444.6 594.3,443.6 594.6,441.4 594.9,439.5 595.0,436.7" fill="none" stroke="#8fa83a" stroke-width="3.36" stroke-linejoin="round" stroke-linecap="round" opacity="1"/><polyline points="603.1,259.3 603.7,258.9 603.1,256.5 603.3,253.0 603.7,252.7 603.9,249.8 604.1,248.1 604.5,245.7 605.0,243.1 605.2,241.4 605.6,239.4 605.1,237.7 606.1,234.7 606.1,233.1 606.1,230.7 606.4,229.7 607.0,227.9 607.4,225.1 607.7,222.9 607.6,221.5 607.7,219.9 607.7,216.4 607.6,214.3 607.8,213.5 608.8,211.7 608.8,208.4 609.3,207.3 609.0,205.6 609.0,202.6 609.7,200.3 609.9,198.7 609.5,196.9 610.3,194.8 609.8,192.7 610.5,191.5 610.9,189.2 610.8,186.0 611.3,184.2 611.0,182.8 611.8,181.1 611.4,179.1 611.7,175.9 612.3,175.2 612.4,172.5 612.5,170.0" fill="none" stroke="#a9c45e" stroke-width="3.12" stroke-linejoin="round" stroke-linecap="round" opacity="1"/><polyline points="610.6,221.3 611.8,219.8 611.1,216.8 611.5,216.7 612.3,213.9 612.8,212.6 612.0,209.5 613.2,208.5 613.3,207.1 613.9,204.4 613.3,202.7 613.9,200.8 614.0,196.9 614.9,195.3 615.0,194.3 614.8,191.7 615.2,190.6 615.5,186.7 615.7,185.7 616.1,183.2 616.4,182.0 616.4,183.8 617.7,185.0 618.0,188.2 617.4,190.1 618.6,191.9 619.0,193.5 618.4,195.5 618.5,197.6 619.4,200.5 619.7,200.8 620.1,204.6 620.9,205.5 620.1,207.9 620.6,209.1 621.4,209.0 622.3,205.2 622.3,204.4 622.3,200.7 622.6,199.6 622.8,197.6 623.9,194.7 624.0,193.0 624.5,189.9 625.6,189.6 625.2,186.3 626.0,189.6 626.7,190.7 626.4,194.4 626.7,196.5 627.5,198.5 627.8,201.0 628.5,201.7 628.8,202.9 629.4,206.2 628.7,207.3 629.9,209.3 630.4,211.7 630.2,214.9 630.4,217.0 631.0,218.3 631.3,219.4 631.9,222.5 631.9,224.8 632.0,226.0" fill="none" stroke="#8aa83e" stroke-width="3.12" stroke-linejoin="round" stroke-linecap="round" opacity="1"/><polyline points="607.9,237.7 608.5,235.5 608.9,235.1 609.0,233.1 609.2,230.3 609.8,227.0 610.3,226.0 610.6,225.0 609.9,222.8 610.3,218.8 611.0,217.1 610.8,216.3 612.1,214.2 611.5,213.0 612.3,210.7 613.1,208.9 613.0,207.0 613.5,204.5 613.3,200.8 614.2,200.8 614.4,198.8 615.4,195.1 615.4,198.5 615.3,198.9 615.5,202.0 615.9,203.1 616.2,204.9 616.8,209.0 617.3,209.7 618.1,213.2 618.0,213.4 618.0,216.9 618.4,218.5 619.6,220.5 619.8,221.2 619.6,224.5 620.1,225.2 621.1,228.7 621.9,230.0 622.0,232.0" fill="none" stroke="#b5cc70" stroke-width="2.40" stroke-linejoin="round" stroke-linecap="round" opacity="1"/><polyline points="649.9,307.3 650.0,309.2 651.9,310.1 651.9,311.1 652.7,312.4 652.6,316.5 653.8,319.7 654.2,319.4 656.3,321.4 656.0,323.6 657.2,327.8 657.0,327.8 656.7,330.0 657.9,333.0 659.4,332.9 658.1,336.7 659.7,338.6 659.8,338.9 660.5,343.9 660.8,346.2 662.3,344.7 662.6,347.2 663.0,350.4 664.2,351.1 664.4,356.7 664.6,357.9 665.6,357.7 665.3,360.6 667.8,361.8 667.2,367.7 668.3,368.0" fill="none" stroke="#8fa83a" stroke-width="3.12" stroke-linejoin="round" stroke-linecap="round" opacity="1"/><polyline points="421.7,420.2 421.6,422.7 421.9,423.6 422.3,426.4 421.9,428.8 422.0,429.9 422.4,432.2 422.6,434.3 422.4,436.5 422.4,437.4 422.9,440.6 423.0,441.4 423.4,444.6 423.0,446.3 423.5,448.4 423.3,450.7 423.8,448.2 424.8,446.0 425.0,444.1 426.1,440.7 426.6,438.9 426.8,437.2 427.6,435.1 428.4,432.4 429.0,435.0 429.6,437.2 430.3,439.6 430.9,442.2 431.2,443.2 432.0,446.3 432.5,447.8 433.0,449.3 433.8,451.6 434.4,453.7 434.5,455.7 434.5,458.0 435.5,460.6 435.6,462.4 436.3,465.1 436.4,465.6 436.9,468.8 437.0,470.2 437.2,473.2 437.8,474.4 438.3,476.7 438.7,478.0 438.9,481.1 439.7,482.0 439.8,484.8 440.5,486.2 440.5,489.2 441.2,490.9 441.4,493.6 441.8,495.6 443.9,495.5 445.7,497.9 447.8,498.2 449.7,500.4 450.0,501.9 451.0,504.7 450.8,505.6 451.2,508.1 451.7,509.5 452.1,512.5 452.4,514.2 452.7,515.6 453.4,518.5 453.7,519.5 453.9,522.0 454.4,524.2 454.5,526.1 455.1,528.0 456.3,526.9 457.5,524.9 459.1,523.5 460.1,521.1 461.5,519.6 462.2,518.7 463.2,516.5 464.2,514.1 464.8,512.7 464.8,510.8 465.6,508.8 466.4,506.4 467.6,504.0 467.6,502.1 468.6,501.3 469.6,498.2 469.8,496.8 472.0,495.6 473.5,494.6 475.6,494.2 477.5,493.4 479.3,491.0 479.8,493.9 480.6,495.9 480.7,497.9 481.7,499.1 482.2,500.9 482.5,503.0 483.0,505.3 483.2,507.1 483.7,508.6 484.9,510.4 485.3,512.5 485.2,515.3 486.2,517.3 485.9,518.9 486.7,521.3 487.1,522.7 487.3,524.5 488.0,527.3 488.6,529.0 488.5,531.3 489.1,532.0 489.6,534.0 490.0,537.2 490.4,538.9 491.1,540.7 491.9,542.8 492.2,545.2 492.7,546.7 493.5,548.6 493.9,550.4 494.4,552.3 494.9,553.7 495.7,555.6 496.0,558.3 496.9,560.0 498.0,558.7 500.1,556.0 500.5,558.4 500.9,560.6 501.3,562.9 501.7,565.9 502.8,567.4 502.9,569.4 503.4,571.2 503.8,574.4 504.3,576.2 504.8,577.4 505.7,579.9 505.8,581.7 506.2,584.5 506.6,585.5 506.8,588.2 507.2,590.5 507.9,591.7 507.8,594.3 508.9,595.4 508.8,598.1 509.4,600.8 509.8,601.5 510.4,603.7 510.5,605.3 511.0,607.3 511.5,610.7 511.5,611.2 512.1,613.4 512.3,615.2 512.9,617.6 513.7,620.4 513.8,621.9 514.3,624.2 514.3,625.5 514.2,627.6 514.7,629.9 514.9,632.7 515.1,634.5 515.7,636.0 516.4,638.5 516.5,640.9 516.8,643.2 517.0,645.2 517.3,646.5 517.9,649.4 518.1,651.7 518.3,652.3 519.3,654.1 520.2,656.3 521.6,658.8 522.4,660.5 523.3,661.7" fill="none" stroke="#2389b8" stroke-width="3.36" stroke-linejoin="round" stroke-linecap="round" opacity="1"/><polyline points="528.1,636.3 528.6,634.8 528.7,631.9 528.7,629.9 528.9,628.2 529.6,627.0 529.6,625.3 529.4,622.4 530.1,620.0 530.2,618.2 530.0,616.4 530.8,614.8 531.0,611.9 530.7,611.1 530.9,607.9 531.3,606.6 531.8,605.0 531.6,602.8 531.7,600.3 531.9,597.9 532.6,596.6 532.3,594.6 533.0,591.7 532.9,589.8 533.3,588.0 532.8,586.2 533.6,584.6 533.6,583.0 534.0,580.5 534.0,578.3 533.8,575.9 534.2,574.5 534.8,571.6 534.6,570.6 535.1,568.5 535.1,566.4 535.5,563.6 535.3,561.8 535.4,560.1 536.1,557.8 535.9,555.6 536.2,554.4 536.7,551.4 536.8,549.7 537.9,552.1 539.0,553.7 540.0,556.3 540.5,558.1 541.2,560.1 541.0,562.2 541.8,564.2 542.2,566.5 542.8,568.4 543.5,570.8 543.7,572.3 543.7,574.4 544.4,575.9 544.9,578.4 545.5,581.5 545.6,582.2 546.5,585.2 547.1,586.8 547.4,588.1 547.7,590.2 548.5,592.8 549.1,595.4 549.6,596.8 550.0,600.0 550.7,600.6 550.8,603.9 551.9,605.1 551.9,607.1 552.9,609.4 553.3,611.6 553.5,613.4 554.1,615.8 554.0,617.8 554.1,620.4 554.7,621.9 554.9,624.7 554.9,626.3 554.7,627.8 554.9,630.4 555.6,632.7 555.5,635.2 555.6,637.0 555.7,639.1 556.4,640.2 556.5,642.3 556.7,644.3 557.5,643.7 557.7,640.8 558.1,639.6 558.4,637.2 559.1,634.4 559.5,633.5 559.9,631.5 560.5,628.7 561.0,626.5 561.7,624.9 563.4,626.8 564.6,628.1 567.0,629.5 567.0,627.4 567.4,626.6 568.2,623.4 568.2,621.7 568.7,618.8 568.9,617.9 569.8,616.2 569.4,613.0 569.8,611.8 570.5,609.8 571.1,607.8 571.4,605.9 571.5,603.0 572.5,601.5 572.6,598.2 573.2,596.4 573.9,594.2 574.5,592.5 575.8,590.6 576.2,588.2 577.1,586.7 578.5,587.9 579.8,590.8 580.5,587.9 580.7,585.3 581.1,584.4 582.1,582.7 582.7,579.2 583.1,577.9 583.5,575.9 584.1,573.8 584.6,571.1 585.0,570.6 585.3,567.4 585.5,565.5 586.6,564.5 586.9,561.1 587.1,560.1 587.7,557.2 588.3,555.4 589.3,553.8 589.6,551.8 590.2,550.0 590.7,546.5 590.9,544.3 591.8,543.7 592.4,541.0 593.0,538.4 593.4,536.6 593.5,535.3 593.6,532.8 594.3,531.1 595.0,528.1 594.8,526.6 595.1,525.1 595.6,523.3 595.9,520.6 596.4,518.5 596.7,516.3 597.0,515.6 596.8,512.7 597.2,510.6 597.7,508.8 597.9,506.9 598.4,504.6 598.8,503.2 598.9,501.4 599.6,498.5 600.0,497.5 600.2,494.8 600.5,493.3 600.6,491.2 600.8,488.2 601.1,486.9 601.2,484.8 600.9,483.6 601.4,481.5 601.9,479.0 601.6,476.6 601.6,474.3 601.8,472.7 602.0,470.3 602.4,468.2 602.7,467.1 603.2,465.4 602.9,462.6 603.5,461.5 603.3,459.1 603.5,456.7 603.6,455.7 604.1,453.5 604.5,450.5 604.3,448.5 604.8,447.3 604.9,444.7 605.3,443.2 605.1,441.2 605.3,438.3 605.3,436.5 605.4,434.7 605.7,433.6 606.3,430.6 606.1,429.5 606.3,427.6 607.0,424.5 606.7,423.1 606.7,420.2 606.6,419.4 606.6,415.9 607.1,414.6 607.0,411.6 606.3,410.1 606.4,408.2 606.5,406.3 606.4,403.5 607.0,401.5 608.1,401.0 609.8,399.9 611.9,397.8 613.1,396.1 613.6,394.1 613.4,392.2 614.1,390.4 614.2,389.3 614.6,387.4 614.3,384.5 614.4,382.2 614.6,381.0 615.1,378.1 615.5,377.3 615.4,375.3 615.5,372.6 616.0,370.6 616.6,368.9 616.8,366.9 616.3,364.0 616.8,363.1 617.4,360.7 617.4,359.1 617.5,357.0 617.4,354.5 618.3,352.2 618.3,350.1 618.1,348.4 618.5,347.0 618.9,344.6 620.1,342.0 620.2,341.2 620.6,338.5 621.0,336.2 621.9,334.1 622.4,333.4 622.6,330.8 622.8,328.5 623.6,326.4 623.9,325.0 625.0,323.3 625.6,321.0 625.9,318.9 626.2,317.1 627.1,315.3 627.4,313.6 627.7,310.6 628.2,308.9 629.5,307.7 629.6,305.2 630.6,303.9 631.0,300.8 631.8,299.7 632.7,297.5 632.8,295.5 633.9,294.3 634.4,291.4 635.2,290.7 635.2,287.8 635.9,285.6 636.8,284.2 637.6,282.5 637.6,280.8 638.2,277.9 639.6,276.2 639.9,278.2 639.9,280.7 640.7,282.2 641.1,284.0 641.3,286.2 642.6,288.3 642.5,290.0 643.1,292.4 643.3,295.2 643.9,296.7 644.6,298.9 645.2,300.7 645.7,302.8 646.2,305.5 646.8,307.0 646.8,309.3 647.5,310.8 647.8,312.8 648.5,314.4 648.9,315.8 649.4,318.1 650.0,320.2 650.7,322.7 650.9,324.8 651.2,326.9 652.3,327.5 652.8,329.8 653.1,332.4 653.3,333.5 654.2,336.6 654.4,337.9 655.4,340.3 655.4,342.0 655.4,344.0 655.9,346.5 656.1,348.5 656.8,349.9 657.0,351.9 657.4,354.4 657.6,356.0 658.2,358.5 659.0,360.5 659.3,361.9 659.6,364.3 660.2,366.0 660.1,367.9 660.3,371.1 661.0,372.5 661.5,374.1 661.5,376.1 662.4,378.7 662.7,381.3 662.6,382.4 663.2,385.8 663.2,387.8 664.2,388.7 663.8,392.3 664.6,393.9 664.7,396.2 664.8,398.0 664.7,399.9 665.2,403.0 665.7,405.1 665.8,405.9 666.3,407.9 667.1,410.7 667.9,412.2 668.8,414.3 669.4,416.1 669.7,418.6 670.3,420.9 671.4,422.8 671.3,425.1 672.0,427.7 672.2,429.3 672.7,431.2 672.8,433.1 672.7,435.0 673.1,437.8 673.5,439.6 673.8,440.6 674.3,442.8 674.5,444.7 674.8,446.9 674.4,448.7 674.8,451.7 675.2,452.9 675.9,454.7 675.7,456.5 676.1,459.5 676.1,460.4 677.0,463.7 676.9,465.3 676.8,466.9 677.4,469.2 677.8,470.5 678.1,474.0 677.7,475.6 678.1,477.8 679.0,479.4 678.5,481.5 679.4,483.9 679.7,484.6 680.0,487.9 679.5,489.1 680.1,491.0 680.4,492.9 680.5,495.1 680.7,496.5 681.4,498.9 681.1,501.6 681.3,503.5 682.2,504.7 682.1,507.1 682.1,508.8 682.4,510.6 682.5,513.8 682.7,514.9 682.7,517.2 682.6,519.7 683.3,522.0 682.9,523.3 683.5,525.3 683.1,527.6 683.5,530.0 683.3,532.1 684.1,533.7 684.2,536.1 684.3,537.2 684.5,540.4 684.1,542.2 684.4,544.3 684.5,546.4 684.8,548.0 684.8,549.8 685.2,551.1 684.7,554.3 685.1,556.1 685.1,558.1 685.3,560.0 685.7,561.1 685.6,564.5 685.7,566.6 686.3,567.9 686.4,570.7 686.4,572.7 686.4,573.9 686.6,576.7 686.4,577.9 686.9,580.8 687.5,582.4 688.1,584.5 688.7,586.5 688.4,588.6 689.2,590.7 689.3,592.1 689.8,594.7 690.5,596.3 691.0,598.1 691.0,601.4 692.0,602.6 692.2,604.6 693.4,607.5 693.5,609.2 694.4,611.3 695.3,612.7 696.5,614.5 697.2,616.1 697.8,617.9 698.0,619.6 698.7,621.6 698.7,624.0 699.1,626.4 699.3,627.6 700.0,630.4 700.4,631.6 701.0,633.5 700.8,636.8 701.5,637.4 701.5,639.5 701.7,642.8 702.2,644.2 702.4,645.8 702.9,647.4 703.1,649.5 703.9,651.7 704.4,654.7 704.7,655.3 705.0,657.8 705.0,660.0" fill="none" stroke="#2389b8" stroke-width="3.36" stroke-linejoin="round" stroke-linecap="round" opacity="1"/><polyline points="141.5,482.2 142.2,484.5 142.8,487.5 143.5,489.8 144.0,491.1 144.4,493.5 145.2,495.4 145.8,498.0" fill="none" stroke="#2389b8" stroke-width="3.00" stroke-linejoin="round" stroke-linecap="round" opacity="1"/><polyline points="226.7,619.6 227.7,617.6 229.4,616.1 230.3,614.6 232.0,612.5 232.5,610.9 233.5,609.4 234.3,608.1 235.5,606.3 237.1,604.7 237.5,602.3 239.1,600.3 239.6,598.9 240.6,597.6 241.8,595.2 242.3,593.8 243.3,590.5 243.8,590.0 244.5,587.1 245.6,585.2 245.8,584.4 247.0,581.9 247.2,579.4 248.5,578.3 248.7,575.7 248.7,573.7 249.7,571.8 249.5,569.5 250.1,568.1 250.6,566.2 251.2,563.3 251.7,562.3 251.4,560.3 252.1,556.9 252.1,556.3 252.8,554.0 252.9,552.1 253.7,549.2 253.9,547.8 254.1,545.0 254.8,543.6 255.3,541.1 255.6,539.4 256.0,536.9 256.3,534.5 256.6,533.4 257.2,531.2 257.0,529.3 257.8,526.4 257.9,525.6 257.7,522.9 258.6,520.4 258.9,518.3 258.9,517.0 258.8,514.3 259.2,513.7 259.4,511.7 260.2,509.3 260.1,507.3 260.4,504.6 260.9,503.7 260.6,501.1 261.4,498.6 261.3,496.4 261.4,494.5 263.4,496.0 264.6,498.4 265.6,500.0 266.9,501.4 268.2,503.5 269.0,505.5 269.6,506.7 270.4,510.2 271.2,511.6 271.6,514.2 272.0,516.1 273.1,518.1 273.3,520.5 273.3,522.0 274.2,524.2 273.8,525.6 274.3,528.1 274.8,530.1 274.9,531.6 275.2,534.5 275.4,535.4 275.6,538.3 276.3,540.7 276.6,541.4 276.4,543.7 276.5,546.3 276.7,548.3 277.3,550.2 277.6,552.6 278.1,553.6 278.2,555.4 278.2,557.3 278.4,560.1 278.9,561.4 279.2,563.9 279.8,566.1 279.9,567.7 279.7,570.2 280.3,571.9 281.0,573.9 282.1,576.6 282.6,577.4 283.0,580.2 283.2,582.5 283.9,583.8 284.4,585.5 285.3,588.5 286.3,589.9 286.5,591.9 287.0,593.7 287.8,596.6 288.0,597.7 290.1,597.8 292.7,598.0 294.6,597.5 296.8,598.9 298.2,601.1 300.0,601.7" fill="none" stroke="#168b80" stroke-width="3.36" stroke-linejoin="round" stroke-linecap="round" opacity="1"/><polyline points="331.4,559.9 331.9,557.5 332.9,555.5 333.3,554.9 334.0,551.7 334.1,549.7 335.1,548.6 335.1,545.5 335.7,543.7 336.2,542.6 336.7,539.7 337.3,538.0 338.1,536.3 338.2,534.7 338.7,532.8 339.5,530.2 339.7,528.5 340.1,527.5 340.9,525.0 341.3,523.3 342.1,520.1 342.4,518.4 342.9,516.4 343.7,515.1 344.7,516.5 346.5,518.5 348.6,519.6 349.8,522.0 351.5,522.3 352.1,524.6 352.5,527.3 353.6,529.4 354.1,530.7 354.2,533.6 355.1,534.9 355.4,537.3 356.4,539.1 356.3,540.9 357.2,543.4 357.7,545.4 358.3,546.6 358.8,549.6 359.8,551.6 359.9,553.3 361.5,554.3 363.5,556.3 365.3,557.5 366.9,558.6 367.1,559.4 368.1,562.1 368.9,564.0 369.0,565.5 370.3,567.4 371.0,569.4 371.7,572.4 371.7,574.3 372.5,576.1 373.0,578.7 373.8,579.6 374.0,582.4 374.0,584.6 374.5,586.3 375.3,588.8 375.1,590.7 376.1,592.1 375.9,593.9 376.3,596.1 376.8,597.7 376.9,600.1 377.3,602.6 378.1,604.4 378.4,607.0 378.3,608.1 379.1,610.8 379.3,611.9 380.0,614.4 380.1,617.3 380.3,614.7 380.7,612.7 381.3,611.0 381.5,609.1 381.6,606.7 382.0,605.1 382.7,602.4 382.9,601.1 383.6,598.9 383.8,597.0 384.5,595.3 384.4,592.5 384.7,591.4 385.7,588.7 385.5,587.1 386.2,585.1 386.7,583.0 386.7,580.3 387.0,578.4 387.5,577.3 388.0,574.3 388.7,572.5 388.8,570.7 389.6,569.1 389.9,566.9 389.7,564.5 390.3,562.8 391.1,561.1 391.0,559.2 391.7,556.3 392.0,555.2 392.9,553.0 392.6,551.5 393.2,549.7 394.1,547.1 394.2,545.6 395.0,543.8 394.8,540.4 395.7,538.5 396.2,537.5 396.1,535.4 396.3,532.6 397.7,530.2 399.6,528.6 400.4,526.3 402.0,525.6 403.5,523.0 403.6,525.3 404.6,527.2 404.9,528.4 405.1,531.6 406.1,532.3 406.3,535.3 407.2,537.0 407.1,538.3 408.0,541.7 408.1,542.2 408.7,544.8 408.9,546.5 409.6,549.7 410.4,550.8 410.6,552.8 411.1,554.3 412.0,556.8 412.3,559.0 412.5,560.7 413.6,562.5 413.8,561.5 414.7,558.7 415.3,556.4 416.3,555.1 416.4,552.8 417.6,555.4 418.1,557.9 418.9,559.2 419.0,561.4 420.0,563.7 420.1,566.2 421.0,567.2 421.6,570.2 422.3,567.2 422.8,565.5 422.9,564.1 423.0,561.4 423.6,559.0 424.0,557.1 424.5,555.8 424.5,553.2 424.8,551.6 425.8,548.8 425.8,547.9 426.3,544.3 426.8,542.7 428.7,543.0 431.0,542.8 432.8,542.3 434.5,542.2 436.8,542.8 436.8,544.4 437.3,546.7 437.4,549.8 438.3,552.4 438.2,553.8 438.5,556.1 438.6,558.2 438.9,560.3 439.2,562.3 439.4,565.2 439.8,566.6 441.9,567.6 444.4,568.6 446.3,570.8 447.2,572.7 447.3,574.6 447.6,576.7 448.6,578.9 448.7,580.5 449.0,581.8 449.5,585.2 450.3,586.3 450.0,588.1 450.5,590.4 451.3,592.6 451.8,594.0 452.1,597.4 452.3,599.4 452.6,601.2 453.3,603.2 453.5,605.0 453.9,606.5 454.1,609.0 454.3,610.7 454.6,613.2 454.8,615.0 454.9,618.2 455.3,620.4 456.1,621.9 456.4,623.2 456.7,626.3 456.3,628.1 457.1,626.3 457.9,623.8 458.9,621.3 459.3,618.7 459.7,615.9 461.4,614.9 463.1,614.4 464.8,612.0 466.5,612.1 468.4,609.8 469.7,611.4 470.0,614.0 471.2,615.5 472.6,618.1 473.5,619.9 473.6,617.3 474.6,616.6 474.6,614.5 475.5,611.7 476.1,610.6 476.3,607.7 476.8,606.3 477.4,604.4 477.9,601.6 478.0,600.7 478.7,601.7 479.6,603.6 479.6,606.3 480.0,607.4 480.6,609.5 480.9,611.3 482.0,614.1 482.5,615.3 482.5,617.4 483.0,620.7 484.1,621.7 484.1,623.9 484.2,626.4 485.0,627.4 485.6,629.8 486.1,632.2 486.7,634.1 486.7,636.7 487.3,637.4 487.9,640.8 488.5,642.4 488.8,644.0 489.2,645.8 489.8,648.6 489.6,649.3 491.0,648.7 492.2,646.3 494.0,645.3 495.0,643.8 496.6,641.4 497.4,639.3 498.9,637.7 500.0,636.7" fill="none" stroke="#168b80" stroke-width="3.36" stroke-linejoin="round" stroke-linecap="round" opacity="1"/><polyline points="573.7,637.2 573.5,635.1 574.3,632.6 574.8,630.6 575.3,628.4 575.7,625.8 576.4,624.4 577.0,622.8 576.9,620.0 577.4,617.5 578.1,615.3 578.6,614.0 579.5,611.5 579.5,609.8 580.6,607.4 580.6,605.7 580.9,603.3 581.8,601.4 582.8,603.0 583.1,605.2 583.6,606.8 584.9,610.0 585.1,610.5 586.2,613.7 586.4,615.4 590.0,616.7 590.9,618.1 591.3,620.3 592.1,622.6 592.5,624.1 593.2,626.9 593.5,628.2 593.9,630.9 594.3,631.8 594.9,633.7 595.6,636.1 596.2,637.7 597.0,639.3 597.3,637.8 597.1,635.8 597.8,633.3 598.0,632.0 597.9,630.2 598.3,628.0 599.1,625.1 599.4,623.3 599.8,620.1 600.1,618.8 600.0,616.6 601.3,615.2 602.4,613.5 603.7,612.5 605.7,610.7 607.0,609.0 607.6,606.9 608.2,603.9 609.3,603.2 610.1,600.4 610.5,598.2 611.9,596.9 612.5,594.5 613.0,593.9 615.4,593.5 617.1,591.7 619.6,592.9 621.8,591.6 623.2,589.4 624.3,588.6 625.8,587.1 627.1,584.5 628.4,583.2 629.1,581.9 629.0,578.9 629.4,577.1 629.7,575.3 630.4,573.3 631.3,570.8 631.6,569.0 632.2,567.7 632.2,565.7 632.8,562.5 633.5,560.4 633.3,558.9 634.1,556.9 634.7,554.8 635.1,553.1 635.4,551.4 636.0,549.4 636.0,546.5 636.7,545.4 638.9,546.3 641.4,547.7 642.7,550.3 642.8,551.9 643.5,554.6 644.8,556.3 645.3,558.9 645.8,559.9 646.6,562.9 647.8,565.3 648.3,566.6 648.8,565.3 650.4,562.9 650.8,560.9 651.5,559.1 652.6,560.6 654.3,562.1 655.5,563.1 656.7,564.8 657.7,567.4 659.1,568.0 660.1,570.3 661.9,569.1 663.1,566.6 664.6,565.5 666.4,563.6 668.2,562.4 669.7,561.0 671.9,559.9 673.3,558.9 674.0,560.5 674.4,561.8 674.5,563.7 674.5,566.0 675.1,568.0 676.0,569.9 675.9,573.1 676.2,574.9 676.8,577.4 677.3,578.5 677.2,580.9 677.5,583.1 678.7,584.9 678.6,586.3 678.8,589.5 679.5,590.7 679.9,593.2 679.9,595.3 680.6,597.0 681.0,598.9 681.3,601.4 681.8,604.0 682.4,605.2 682.7,607.9 683.3,609.3 683.7,610.9 684.5,613.2 685.1,615.4 685.7,618.4 686.4,619.9 686.6,622.3 687.5,624.1 687.9,626.5 688.4,628.1 688.6,630.4 689.1,631.6 689.3,634.0 690.1,636.7 690.6,638.5 691.1,640.2 690.9,641.9 691.4,644.7 691.7,646.7 692.8,647.7 693.2,650.1 693.0,652.6 693.7,654.4 694.4,655.9 694.8,657.2 695.0,660.0" fill="none" stroke="#168b80" stroke-width="3.36" stroke-linejoin="round" stroke-linecap="round" opacity="1"/><polyline points="149.8,533.5 151.4,534.9 152.3,536.5 153.5,538.2 154.7,539.7 155.6,542.6 156.0,543.6 156.8,546.5 157.7,548.2 158.2,550.8 159.0,553.0" fill="none" stroke="#168b80" stroke-width="3.12" stroke-linejoin="round" stroke-linecap="round" opacity="1"/><polyline points="261.4,539.5 262.4,542.7 263.3,543.9 264.3,546.5 265.0,547.6 266.2,550.0 267.0,552.2 268.4,553.9 268.9,556.1 269.6,557.4 271.7,556.3 272.5,554.2 274.3,553.7 275.6,551.6 276.3,549.7 277.0,551.4 277.4,554.0 278.0,556.4 278.0,557.3 278.6,559.7 278.5,561.9 279.4,564.2 279.4,566.3 280.0,567.8 280.1,570.2 280.4,572.6 280.8,574.3 281.3,576.6 281.3,578.8 281.8,580.5 282.3,582.0 282.2,583.2 282.4,585.2 282.9,587.2 283.1,590.5 283.3,592.5 283.6,593.2 283.7,596.2 283.9,597.3 284.5,599.4 284.8,602.3 284.9,604.5 285.1,606.4 285.2,607.3 285.8,609.5 285.9,611.5 285.9,613.9 286.6,615.4 286.5,618.3 287.1,620.2 287.0,622.2 287.2,623.1 287.3,626.0 287.6,628.0 288.2,629.4 288.3,631.7" fill="none" stroke="#3fae6c" stroke-width="2.88" stroke-linejoin="round" stroke-linecap="round" opacity="1"/><polyline points="306.9,627.6 308.6,628.2 311.1,629.4 313.2,629.5 314.5,632.4 315.3,634.0 315.9,636.2 316.4,637.9 317.8,639.7 318.5,641.0 319.4,643.4 319.8,645.4 322.2,646.0 324.4,647.5 326.2,649.5 328.3,650.0" fill="none" stroke="#3fae6c" stroke-width="2.88" stroke-linejoin="round" stroke-linecap="round" opacity="1"/><polyline points="700.1,649.8 700.3,647.6 700.4,645.9 700.7,643.3 700.7,641.9 701.6,639.2 701.5,637.7 702.1,635.6 702.0,633.6 702.4,631.3 702.7,629.6 703.3,628.5 702.9,626.2 703.6,623.9 703.5,622.0 704.3,620.3 704.5,618.0 704.6,616.1 704.3,614.1 705.0,611.2 706.1,609.6 706.8,607.4 707.6,606.2 708.9,603.9 709.4,601.6 710.6,599.6 711.5,598.6 712.6,597.2 713.2,594.5 714.4,592.3 715.5,590.0 716.8,588.4 717.5,586.4 718.3,584.8 719.7,587.1 721.6,588.9 723.1,589.6 724.9,591.1 725.0,594.4 725.6,596.0 725.8,597.4 725.6,599.3 726.3,601.7 726.5,603.5 726.2,605.4 726.7,608.6 726.8,610.0 726.7,611.2 727.6,613.9 727.2,615.3 728.0,618.3 727.8,619.7 727.8,621.9 728.6,624.3 728.3,626.4 728.7,628.5 729.1,630.3 729.6,631.6 729.7,634.0 729.8,636.4 729.5,637.4 730.0,640.0" fill="none" stroke="#3fae6c" stroke-width="3.12" stroke-linejoin="round" stroke-linecap="round" opacity="1"/><polyline points="123.3,548.6 124.5,545.9 126.3,544.3 127.2,544.1 130.8,545.0 131.6,547.4 133.3,549.0 134.1,550.8 135.0,553.0" fill="none" stroke="#d27a2e" stroke-width="3.36" stroke-linejoin="round" stroke-linecap="round" opacity="1"/><polyline points="146.2,559.6 146.4,558.4 146.7,556.3 146.2,554.0 146.9,552.0 147.2,550.3 146.5,547.7 146.8,546.6 147.1,544.5 147.2,541.5 147.3,540.5 147.0,537.2 147.3,536.6 147.8,534.8 148.0,532.8 148.0,529.8 147.6,527.9 147.9,525.4 147.7,523.8 148.3,521.3 148.1,519.8 148.3,518.7 148.5,516.2 148.7,513.8 148.7,511.6 148.9,510.2 148.8,508.6 149.4,505.3 149.2,503.7 149.5,502.5 149.6,499.9 152.8,498.4 153.9,501.3 154.2,503.7 155.4,504.5 156.2,506.9 156.5,509.8 157.6,511.0 157.9,514.0 158.7,511.4 158.7,509.6 159.6,506.7 159.6,505.4 159.9,503.8 160.7,500.8 161.3,500.1 161.3,497.3 162.0,496.1 162.6,493.3 162.3,495.6 162.6,498.1 163.4,500.0 163.7,502.2 164.2,504.4 164.7,506.8 164.7,508.1 165.2,510.0 165.3,512.5 166.3,514.9 166.4,516.4 166.6,518.4 167.3,521.6 168.4,523.2 168.8,524.2 169.8,527.5 170.1,529.5 170.4,531.9 171.0,533.1 171.7,535.3 171.8,536.9 171.4,539.0 171.6,541.0 172.2,544.1 172.3,545.7 172.0,547.4 172.4,548.9 172.5,551.1 172.4,554.4 172.8,555.3 172.6,557.3 173.1,559.5 172.8,561.1 173.1,564.5 173.1,566.6 173.1,567.3 173.0,570.7 173.2,572.2 173.8,574.6 173.3,576.2 173.9,577.6 173.6,580.6 173.7,581.5 173.5,584.5 174.2,585.2 173.8,587.4 173.6,590.1 174.3,592.7 174.1,593.8 173.9,595.5 174.6,597.5 174.7,600.5 174.4,602.8 174.4,604.0 174.5,605.5 174.8,607.2 174.7,609.4 175.1,611.4 174.6,613.5 174.9,615.4 175.1,618.3 175.1,620.0 176.0,622.9 176.5,624.4 177.2,626.0 178.2,628.2 179.4,629.8 179.9,632.2 180.9,634.2 181.7,636.7" fill="none" stroke="#d27a2e" stroke-width="3.36" stroke-linejoin="round" stroke-linecap="round" opacity="1"/><polyline points="202.1,519.7 202.0,521.6 202.0,524.7 202.6,525.8 203.3,527.6 203.4,530.4 203.9,532.6 204.3,534.1 204.7,536.8 204.6,538.5 205.5,541.5 205.4,543.1 206.3,545.7 206.2,546.8 206.9,548.9 206.9,550.9 207.0,554.1 207.5,556.2 208.3,556.7 208.6,560.1 209.0,561.1 209.4,564.4 209.0,565.9 209.3,567.9 210.1,569.6 210.8,572.4 211.0,574.4 211.0,576.3 211.9,578.7 212.3,580.5 212.2,582.5 213.0,584.3 213.3,585.9 213.6,588.4 214.3,591.5 214.8,593.0 215.3,595.8 215.7,592.4 216.6,590.8 217.4,589.6 218.3,586.4 218.5,588.7 219.9,591.2 220.1,593.2 220.8,595.8 221.5,597.7 221.8,598.5 222.6,600.7 223.3,603.3" fill="none" stroke="#d27a2e" stroke-width="3.12" stroke-linejoin="round" stroke-linecap="round" opacity="1"/><polyline points="226.7,549.8 227.9,552.4 228.2,553.8 229.7,555.0 230.3,556.8 231.7,558.6 232.1,560.6 232.9,563.5 234.4,564.8 234.6,567.1 237.1,566.0 239.7,565.0 242.1,564.0 242.2,560.8 242.3,559.6 242.8,557.9 243.2,555.6 243.4,552.8 243.5,550.7 243.5,548.3 244.3,546.8 244.6,545.5 245.2,543.1 245.3,540.0 245.3,538.0 245.8,535.8 246.1,534.2 246.1,532.8 246.9,530.5 246.8,528.1 247.6,526.6 247.9,524.0 248.4,521.3 248.6,520.7 248.1,518.5 248.8,515.4 249.1,514.3 249.1,511.8 249.3,509.4 249.7,507.6 249.6,505.3 250.2,504.4 249.6,501.3 250.4,499.3 250.2,497.4 250.5,496.1 250.8,493.3 251.1,491.3 250.8,490.1 251.3,487.7 251.5,486.3 251.4,483.4 252.0,482.1 252.3,479.5 252.2,478.3 252.5,475.6 253.0,473.5 252.8,471.3 253.5,469.4 253.3,468.1 253.5,464.9 253.8,464.3 254.3,461.2 254.5,459.1 254.1,456.8 254.4,454.7 255.3,453.2 254.8,451.2 255.3,448.5 255.3,447.3 255.7,445.0 255.7,442.8 256.2,440.9 256.3,439.2 256.7,436.7" fill="none" stroke="#d27a2e" stroke-width="3.12" stroke-linejoin="round" stroke-linecap="round" opacity="1"/><polyline points="288.4,561.1 288.7,558.9 289.1,556.9 289.8,555.7 290.1,554.1 290.6,551.2 291.0,550.1 291.8,546.7 291.8,544.7 292.5,544.0 292.9,540.8 293.5,538.5 294.3,536.9 294.9,535.3 295.0,533.6 295.8,535.2 296.0,537.4 297.1,539.6 297.6,540.8 298.1,544.1 298.5,546.0 299.8,547.4 300.0,550.0" fill="none" stroke="#d27a2e" stroke-width="3.12" stroke-linejoin="round" stroke-linecap="round" opacity="1"/><polyline points="329.8,623.8 330.8,621.6 331.6,619.7 331.8,617.6 332.3,615.9 333.1,613.4 333.8,612.1 334.4,609.2 335.1,607.5 335.8,605.4 336.1,604.5 337.0,602.6 338.0,600.1 338.0,598.4 340.8,598.1 342.7,598.6 345.3,600.6 346.7,598.3 348.8,598.3 351.6,596.8 353.1,595.6 354.8,593.8 355.9,590.7 356.8,589.3 358.0,588.0 359.1,585.3 360.2,583.5 360.6,585.6 361.1,586.5 361.2,588.9 362.4,590.9 362.4,593.3 362.7,595.8 363.8,597.9 364.3,599.8 364.5,600.4 364.7,603.4 365.2,604.6 365.9,606.5 366.1,608.3 365.8,610.5 366.6,612.4 366.4,615.5 367.4,617.3 367.7,619.4 367.8,621.1 367.8,622.2 368.1,625.5 368.2,627.3 369.1,628.0 369.4,631.1 369.4,632.4 369.8,635.0 369.7,636.1 370.8,639.1 371.0,641.4 371.7,643.0 372.5,645.1 373.1,646.7 373.8,649.4 374.8,651.3 375.5,652.4 376.1,655.2 376.8,656.6 377.7,658.6 377.8,660.2 378.5,663.5 379.6,664.0 380.0,666.7" fill="none" stroke="#d27a2e" stroke-width="3.12" stroke-linejoin="round" stroke-linecap="round" opacity="1"/><polyline points="390.0,611.9 390.4,609.5 390.9,607.5 392.1,606.1 392.6,604.1 392.5,601.6 393.7,599.4 393.7,597.1 394.1,594.8 394.7,592.6 395.7,590.1 395.9,589.3 397.1,586.1 399.2,586.3 401.2,585.4 403.4,585.0 404.6,582.9 405.4,581.8 406.6,579.5 408.0,577.5 409.1,577.1 410.3,575.2 411.2,577.5 411.9,579.1 413.7,581.1 414.2,583.4 415.8,585.4 416.6,587.1 417.5,588.8 419.2,590.1 420.3,591.8 421.2,593.5 422.0,595.8 423.6,597.3 424.2,600.1 425.5,601.2 426.4,603.8 427.6,604.9 428.5,607.3 429.2,609.3 429.6,610.3 430.8,613.2 431.6,615.1 432.3,616.3 432.5,618.8 433.4,620.1 434.6,622.0 435.2,624.2 435.9,626.5 436.3,628.1 438.3,630.0 440.3,631.4 441.8,632.7 443.3,634.0 444.8,635.2 446.3,637.5 447.7,639.1 449.4,639.7 450.5,641.5 451.7,643.7 452.7,645.0 454.4,647.3 455.2,648.9 456.9,650.1 458.7,649.0 459.9,647.4 461.9,646.9 463.5,644.6 465.2,644.6 466.4,643.2 468.3,644.6 470.1,643.8 472.0,645.2 474.0,645.6 475.8,647.0 478.1,647.3 479.3,648.3 481.5,649.8 483.3,650.0" fill="none" stroke="#d27a2e" stroke-width="3.12" stroke-linejoin="round" stroke-linecap="round" opacity="1"/><polyline points="540.1,637.5 541.7,635.6 543.0,632.9 544.2,631.0 545.9,630.0 547.2,628.6 548.2,627.2 549.0,627.9 549.6,630.7 549.7,632.3 550.7,635.2 551.2,636.6 552.0,638.3 552.3,639.8 552.6,642.3 553.4,644.7 554.1,645.5 554.1,648.4 555.0,650.0" fill="none" stroke="#d27a2e" stroke-width="3.12" stroke-linejoin="round" stroke-linecap="round" opacity="1"/><polyline points="631.9,636.7 632.4,634.3 633.3,632.6 634.3,630.4 634.3,629.0 635.5,626.7 635.9,624.7 637.0,622.2 638.0,621.3 638.6,618.9 639.5,616.2 639.7,615.1 641.7,617.0 643.2,617.1 645.3,618.8 646.6,620.3 649.0,620.7 650.8,620.8 653.3,621.9 653.9,623.4 654.9,625.3 655.4,628.1 656.0,630.6 656.0,631.2 657.3,634.5 657.3,635.6 658.4,638.6 658.9,640.3 659.1,642.5 660.2,643.4 660.7,645.9 660.8,647.9 661.7,650.0" fill="none" stroke="#d27a2e" stroke-width="3.12" stroke-linejoin="round" stroke-linecap="round" opacity="1"/><polyline points="405.2,627.5 405.1,626.0 405.9,624.7 405.8,621.5 406.8,619.7 406.9,618.8 407.0,616.1 407.1,613.6 407.4,612.2 408.4,609.4 408.4,607.8 408.4,606.5 408.8,604.3 409.2,602.5 409.5,600.1 410.3,597.9 410.2,596.2 411.1,593.6 411.5,591.9 411.8,590.3 411.6,588.4 412.5,586.4 412.4,584.0 412.8,581.9 413.5,580.0 414.2,582.5 414.7,584.4 415.2,585.4 415.9,587.5 416.6,589.5 417.4,592.8 418.1,594.6 419.0,596.3 419.7,598.1 419.6,599.5 420.5,601.8 421.7,604.0 422.3,606.1 422.6,607.5 423.0,609.4 423.9,612.5 424.7,613.8 425.3,616.4 426.2,618.7 426.3,620.6 427.8,621.5 427.8,623.3 429.0,625.5 430.0,627.0 430.7,629.8 430.9,632.0 432.0,634.0 433.2,635.8 434.0,637.2 434.1,639.7 434.9,640.8 435.7,642.8 436.3,644.8 437.5,647.1 438.6,648.8 439.4,650.4 440.8,652.5 441.6,653.9 442.8,655.5 443.0,658.0 444.3,659.3 444.9,661.4 446.2,662.6 446.8,665.2 448.2,666.5 448.7,668.2 450.0,670.0" fill="none" stroke="#252d80" stroke-width="3.36" stroke-linejoin="round" stroke-linecap="round" opacity="1"/><polyline points="468.3,653.0 468.9,650.2 469.4,649.3 469.6,647.5 470.0,644.2 470.5,643.3 470.3,641.0 471.3,638.2 471.5,637.0 472.1,634.7 471.9,633.1 472.8,631.1 472.8,628.0 473.2,627.2 473.5,623.9 474.2,622.7 474.7,620.5 474.5,617.6 475.5,615.7 476.0,613.9 476.0,612.3 476.8,610.2 476.8,608.2 477.0,606.6 477.5,604.0 477.6,601.6 478.2,599.7 479.2,602.8 479.9,604.9 479.9,605.9 480.6,609.1 481.6,610.4 482.2,612.4 482.8,615.2 483.1,617.2 484.2,618.4 484.9,620.3 485.8,622.1 486.5,624.1 487.9,627.2 488.6,628.4 489.1,630.9 490.2,632.6 490.9,634.9 491.4,637.0 492.4,638.6 493.5,640.1 494.2,641.4 495.4,644.1 496.4,645.0 497.2,646.8 498.5,650.1 499.3,651.1 500.0,653.0" fill="none" stroke="#252d80" stroke-width="3.36" stroke-linejoin="round" stroke-linecap="round" opacity="1"/><polyline points="699.8,660.5 700.5,658.6 700.6,655.5 700.8,653.5 700.7,652.6 701.1,649.9 701.6,648.1 701.5,646.1 701.9,643.4 701.9,641.6 702.3,640.2 703.1,637.6 702.9,635.0 703.1,633.1 703.5,631.4 703.6,630.0 703.9,627.2 704.3,624.9 704.7,623.4 704.9,621.2 705.4,619.5 705.8,617.3 705.8,615.4 706.2,613.7 706.2,610.8 706.3,610.0 707.0,607.8 707.3,605.6 707.2,602.7 707.2,600.4 707.9,599.7 708.1,596.3 708.6,595.1 708.4,592.3 709.1,591.3 708.8,589.4 709.5,586.4 709.3,584.5 709.3,582.4 709.6,580.2 709.7,579.1 709.8,576.6 710.7,573.8 710.9,572.7 710.9,569.8 711.4,567.6 711.3,566.0 711.8,563.1 711.5,562.2 712.3,559.2 712.7,557.6 713.1,556.2 714.1,553.5 714.5,551.5 714.9,549.3 715.5,548.4 716.7,546.3 716.8,543.7 717.4,542.3 718.0,543.2 718.0,545.9 718.2,547.3 718.5,550.0 719.0,551.4 719.3,553.4 719.7,555.4 719.8,558.2 720.6,559.3 720.8,562.4 721.0,564.2 721.6,565.4 722.1,567.3 723.1,569.3 723.1,571.5 723.6,574.5 724.2,575.6 725.2,577.4 725.4,580.6 725.6,581.7 725.6,583.3 726.0,585.6 726.0,588.1 726.3,589.6 726.8,591.8 726.6,593.8 727.1,595.4 727.3,598.8 726.6,599.8 727.4,602.0 726.8,604.5 727.2,606.3 727.5,608.7 727.2,610.4 727.5,611.7 727.2,614.7 727.9,616.6 727.9,618.1 727.5,620.0 727.7,622.7 728.0,625.1 728.3,625.8 728.1,628.8 728.2,630.5 727.8,632.5 728.5,634.1 728.2,636.9 728.4,638.1 728.8,640.4 729.0,642.5 729.5,645.5 729.8,646.4 729.9,649.3 730.5,650.4 730.3,653.5 730.5,655.0 731.3,657.3 731.0,659.0 731.5,660.2 732.0,662.8 732.0,665.0" fill="none" stroke="#252d80" stroke-width="3.36" stroke-linejoin="round" stroke-linecap="round" opacity="1"/><polyline points="234.9,586.2 236.9,585.9 238.1,584.6 239.8,581.7 241.8,581.5 243.6,578.8 245.1,577.8 246.7,577.3 247.0,579.4 247.8,579.9 248.3,582.1 249.0,584.6 249.8,587.2 250.2,588.8 250.4,589.6 251.0,592.8 251.7,594.5 252.6,595.8 252.9,598.7 253.2,600.7 254.3,602.8 254.2,604.4 255.1,606.5 255.2,608.1 256.2,609.3 256.8,611.1 257.2,614.3 257.1,615.3 257.9,618.2 258.1,620.3 257.8,621.9 258.1,623.7 258.3,626.6 258.8,628.2 258.8,629.8 259.5,632.3 260.1,634.4 260.3,636.0 260.6,638.2 260.2,639.5 260.6,641.7 261.3,643.4 261.2,646.0 262.1,647.7 262.0,650.0" fill="none" stroke="#252d80" stroke-width="3.12" stroke-linejoin="round" stroke-linecap="round" opacity="1"/><polyline points="131.3,551.2 131.8,553.1 131.9,554.8 132.4,557.1 132.8,558.3 133.1,561.2 134.4,562.2 134.6,565.5 135.0,567.1 135.8,569.0 135.8,570.4 136.6,572.3 136.9,574.8 137.1,577.1 137.9,578.5 138.7,580.6 138.9,582.0 139.2,584.1 139.7,586.2 140.3,588.8 140.3,590.5 140.6,592.7 141.2,595.5 141.0,596.6 141.2,599.0 141.5,601.0 142.2,602.2 142.4,605.3 142.6,607.0 142.8,609.4 142.7,611.3 143.4,612.8 143.3,615.0 143.5,617.0 143.7,618.2 144.5,620.8 144.4,623.1 144.5,625.1 145.1,626.5 144.9,628.8 145.2,630.3 145.9,632.9 146.0,635.2 146.4,636.2 146.6,638.8 146.9,641.0 146.7,643.1 146.9,644.4 147.0,646.4 147.4,648.5 147.7,650.9 148.4,652.9 148.0,654.5 148.5,656.8 148.9,658.4 149.3,660.6 149.7,663.8 150.2,664.4 150.9,666.4 150.6,669.7 151.6,671.0 151.5,672.5 152.0,675.0" fill="none" stroke="#252d80" stroke-width="3.12" stroke-linejoin="round" stroke-linecap="round" opacity="1"/><polyline points="779.9,670.7 780.7,667.6 780.8,665.0 781.0,663.9 781.9,661.7 782.2,659.0 782.8,658.1 782.6,655.5 783.0,652.7 783.8,651.3 784.4,649.2 784.9,646.3 785.0,645.5 786.9,645.1 789.6,644.4 791.7,645.0 792.6,647.3 792.5,648.5 793.3,651.2 793.9,654.0 794.3,655.7 795.0,657.9 795.3,660.0 795.5,661.5 796.2,663.9 796.8,665.9 797.8,668.5 798.0,670.0" fill="none" stroke="#252d80" stroke-width="3.12" stroke-linejoin="round" stroke-linecap="round" opacity="1"/><polyline points="854.9,669.6 855.6,667.3 856.2,665.8 856.9,663.7 857.2,662.2 857.6,660.0 857.9,658.7 858.8,655.5 859.4,653.4 859.5,652.2 860.2,650.4 860.3,648.6 861.2,645.5 862.1,644.3 862.3,642.3 862.4,641.1 863.5,639.0 863.3,640.0 863.7,641.9 864.1,644.2 864.6,647.2 865.5,648.6 865.5,650.1 866.0,652.7 866.4,654.2 866.7,656.9 866.6,659.4 867.0,661.2 867.7,662.6 868.0,665.0" fill="none" stroke="#252d80" stroke-width="3.12" stroke-linejoin="round" stroke-linecap="round" opacity="1"/><polyline points="123.1,573.6 124.2,571.7 125.1,569.3 125.7,567.4 126.5,565.7 127.1,563.6 127.5,561.9 129.0,559.7 129.7,558.1 129.9,555.2 131.0,553.0 131.9,551.1 132.2,554.5 132.9,556.5 133.3,557.1 134.0,560.6 134.0,561.3 134.4,564.2 135.3,565.5 135.8,567.6 135.7,570.6 136.3,572.8 136.9,573.7 137.3,576.1 137.8,578.4 138.2,581.0 139.0,582.4 139.7,583.9 140.2,587.1 139.8,589.3 140.3,591.1 140.4,593.3 141.1,594.2 140.9,596.2 141.7,598.6 141.6,601.5 142.1,603.1 141.9,604.5 142.8,607.3 142.9,608.2 143.3,611.6 143.0,612.5 143.3,615.2 143.9,617.1 143.6,618.2 143.8,620.9 144.0,623.1 144.5,625.2 144.6,626.4 145.3,629.2 145.4,630.7 146.0,632.2 145.9,635.1 145.8,637.5 146.4,639.4 146.5,641.2 146.6,643.6 147.0,644.8 147.4,646.3 147.2,649.6 147.9,650.5 148.0,653.0" fill="none" stroke="#cf2c8c" stroke-width="3.12" stroke-linejoin="round" stroke-linecap="round" opacity="1"/><polyline points="258.3,627.5 258.8,625.5 259.5,623.9 260.4,622.6 261.7,620.7 261.8,618.4 263.2,616.3 263.8,614.6 264.3,613.0 265.3,611.7 266.0,609.6 266.6,606.9 267.7,604.7 268.1,603.1 268.4,604.6 269.2,606.7 268.9,609.4 269.2,610.6 269.7,613.3 269.9,615.5 269.9,617.8 270.0,619.1 270.4,620.9 271.0,622.8 270.7,625.1 271.0,626.8 271.2,628.7 271.2,631.3 272.0,634.2 271.8,634.8 272.1,637.0 272.5,638.9 273.0,641.7 273.0,642.8 273.3,645.7 273.3,647.8 273.9,649.0 274.0,651.8 273.9,654.3 274.1,656.1 274.3,657.0 275.0,659.7 275.0,661.7" fill="none" stroke="#cf2c8c" stroke-width="3.12" stroke-linejoin="round" stroke-linecap="round" opacity="1"/><polyline points="609.6,612.1 610.9,609.7 611.6,607.4 611.8,604.8 612.6,603.1 613.4,601.1 614.3,598.9 615.0,597.0 615.2,598.1 615.7,600.3 616.6,601.9 617.2,605.1 618.1,605.7 618.4,609.0 619.2,610.1 619.6,612.8 620.4,614.2 620.6,615.3 621.5,617.9 622.0,620.7 623.1,622.1 624.3,623.6 626.0,626.0 626.8,628.3 628.1,629.4 629.8,628.6 630.1,626.9 631.8,625.1 632.9,623.3 634.1,622.4 635.2,619.9 635.7,618.6 637.2,616.5 638.7,614.6 640.0,616.9 641.5,618.3 643.7,619.0 645.2,619.2 646.0,621.3 646.7,624.2 647.2,626.6 647.4,628.7 648.3,629.2 648.7,632.2 649.5,633.8 650.3,635.8 650.7,637.7 651.7,640.8 652.3,642.1 652.7,643.3 653.9,646.1 654.6,648.0 655.0,650.0" fill="none" stroke="#cf2c8c" stroke-width="3.12" stroke-linejoin="round" stroke-linecap="round" opacity="1"/><polyline points="429.9,619.6 431.6,621.9 433.4,623.0 435.3,624.9 436.4,626.5 438.0,628.8 439.6,629.0 440.7,631.3 442.9,631.7 443.7,633.5 445.7,634.9 447.0,637.3 447.8,637.9 448.5,640.1 450.1,642.9 451.2,643.5 452.0,645.0 453.1,647.4 454.2,649.8 454.9,651.3 455.7,653.3 457.1,653.9 457.6,656.6 458.7,657.5 460.0,660.0" fill="none" stroke="#cf2c8c" stroke-width="3.12" stroke-linejoin="round" stroke-linecap="round" opacity="1"/><polyline points="826.5,653.1 827.7,650.6 829.8,649.1 831.2,647.5 832.2,645.8 833.2,645.4 834.6,642.3 837.0,643.9 838.7,645.8 841.1,647.1 843.0,647.2 844.6,649.3 846.6,649.6 847.1,652.5 847.6,653.9 847.3,655.9 848.3,658.1 848.7,659.6 848.6,661.4 848.7,664.6 849.3,666.1 850.0,668.5 850.0,670.0" fill="none" stroke="#cf2c8c" stroke-width="3.12" stroke-linejoin="round" stroke-linecap="round" opacity="1"/><polyline points="170.7,489.3 170.6,492.2 170.9,495.0 171.9,496.1 172.0,498.8 172.3,501.1 172.9,502.8 173.0,505.2 173.1,506.5 173.6,509.0 173.4,511.0 174.4,512.3 174.0,514.8 174.1,517.4 175.0,519.2 175.2,520.4 175.5,522.6 175.8,525.5 175.9,522.3 176.3,521.1 176.6,519.0 177.4,516.0 177.2,514.9 177.8,512.4 178.7,510.6 179.0,508.0 179.7,505.3 180.2,503.5 180.8,501.2 181.0,500.5 181.4,497.4 181.4,496.0 181.9,493.2 181.6,491.9 181.8,489.7 182.0,487.7 182.0,485.0" fill="none" stroke="#2389b8" stroke-width="3.36" stroke-linejoin="round" stroke-linecap="round" opacity="1"/><polyline points="181.1,481.3 180.6,483.2 180.7,486.3 180.2,487.6 180.0,489.9 179.7,492.4 179.1,493.4 179.0,495.2 179.0,497.3 178.4,500.0 177.9,502.3 177.7,504.2 177.9,506.2 177.1,508.4 176.6,509.9 176.8,513.1 175.9,514.8 176.1,517.5 176.0,518.8 175.7,521.0 175.0,523.0" fill="none" stroke="#8fa83a" stroke-width="3.12" stroke-linejoin="round" stroke-linecap="round" opacity="1"/><polyline points="158.6,401.3 159.2,404.5 160.1,406.5 160.3,407.6 161.1,410.6 161.5,412.9 162.5,415.3 163.0,416.7" fill="none" stroke="#2389b8" stroke-width="3.36" stroke-linejoin="round" stroke-linecap="round" opacity="1"/><polyline points="159.8,417.3 160.2,419.3 160.3,420.9 160.6,423.5 161.1,425.4 161.7,427.2 161.6,430.5 162.6,432.1 162.5,435.3 162.9,436.4 163.2,439.1 163.8,441.7" fill="none" stroke="#8fa83a" stroke-width="3.60" stroke-linejoin="round" stroke-linecap="round" opacity="1"/><polyline points="166.0,517.0 167.0,518.6 167.3,520.7 167.6,523.6 168.2,526.3 169.1,528.5 169.7,530.0" fill="none" stroke="#8fa83a" stroke-width="3.12" stroke-linejoin="round" stroke-linecap="round" opacity="1"/><polyline points="190.4,451.0 189.6,451.9 191.1,454.1 191.6,455.9 192.4,456.7 192.7,461.5 193.4,461.9 193.7,459.0 195.4,456.6 196.0,454.3 197.0,457.4 196.7,458.5 197.4,459.9 197.9,462.7 199.3,465.4 199.0,467.8 199.7,470.0" fill="none" stroke="#8fa83a" stroke-width="3.84" stroke-linejoin="round" stroke-linecap="round" opacity="1"/><polyline points="163.0,441.7 165.5,500.0" fill="none" stroke="#8fa83a" stroke-width="1.6" stroke-dasharray="1.6 3"/><polyline points="191.3,453.0 193.0,500.0" fill="none" stroke="#2389b8" stroke-width="1.5" stroke-dasharray="1.5 3.5"/><polyline points="201.3,425.0 203.0,450.0" fill="none" stroke="#2389b8" stroke-width="1.5" stroke-dasharray="1.5 3.5"/><polyline points="121.0,674.6 123.0,665.9 125.0,661.3 127.0,653.9 129.0,645.5 131.0,639.3 133.0,636.3 135.0,636.5 137.0,638.7 139.0,644.5 141.0,647.5 143.0,657.0 145.0,657.4 147.0,660.9 149.0,660.8 151.0,662.0 153.0,655.5 155.0,651.1 157.0,648.9 159.0,654.5 161.0,660.1 163.0,664.9 165.0,669.7 167.0,671.2 169.0,671.3 171.0,675.4 173.0,674.9 175.0,674.9 177.0,676.1 179.0,673.6 181.0,673.5 183.0,673.7 185.0,673.6 187.0,674.7 189.0,671.0 191.0,672.5 193.0,671.3 195.0,667.7 197.0,661.9 199.0,659.4 201.0,648.4 203.0,643.0 205.0,633.5 207.0,628.2 209.0,628.5 211.0,631.9 213.0,639.8 215.0,651.2 217.0,659.6 219.0,664.2 221.0,669.9 223.0,671.6 225.0,673.1 227.0,675.6 229.0,673.0 231.0,675.9 233.0,675.0 235.0,674.7 237.0,670.0 239.0,667.2 241.0,661.5 243.0,657.6 245.0,659.0 247.0,662.2 249.0,667.9 251.0,669.0 253.0,674.2 255.0,675.3 257.0,675.6 259.0,675.5 261.0,672.0 263.0,671.6 265.0,673.4 267.0,671.4 269.0,670.6 271.0,667.8 273.0,670.8 275.0,668.7 277.0,674.4 279.0,675.2 281.0,673.0 283.0,671.9 285.0,674.4 287.0,675.1 289.0,673.4 291.0,671.9 293.0,673.0 295.0,675.8 297.0,672.1 299.0,676.3 301.0,672.9 303.0,672.7 305.0,672.2 307.0,676.6 309.0,676.2" fill="none" stroke="#252d80" stroke-width="2.9" stroke-linejoin="round" stroke-linecap="round"/><polyline points="121.0,670.9 123.0,673.1 125.0,670.0 127.0,670.3 129.0,664.7 131.0,656.0 133.0,653.2 135.0,652.4 137.0,653.0 139.0,660.7 141.0,666.3 143.0,669.5 145.0,673.3 147.0,673.4 149.0,671.9 151.0,671.3 153.0,670.8 155.0,674.2 157.0,673.6 159.0,673.2 161.0,672.4 163.0,672.7 165.0,671.3 167.0,672.8 169.0,670.7 171.0,672.7 173.0,671.7 175.0,670.0 177.0,665.3 179.0,662.2 181.0,662.7 183.0,665.7 185.0,666.9 187.0,669.7 189.0,668.5 191.0,667.5 193.0,668.6 195.0,663.3 197.0,662.3 199.0,663.3 201.0,662.9 203.0,661.5 205.0,661.9 207.0,661.5 209.0,663.3 211.0,665.6 213.0,666.8 215.0,667.6 217.0,668.5 219.0,672.2 221.0,670.8 223.0,672.3 225.0,673.9 227.0,672.9 229.0,671.0 231.0,671.6 233.0,669.0 235.0,667.8 237.0,663.2 239.0,659.8 241.0,660.3 243.0,658.0 245.0,659.1 247.0,664.7 249.0,667.9 251.0,666.8 253.0,668.3 255.0,673.4 257.0,674.1 259.0,671.7 261.0,670.4 263.0,670.4 265.0,667.9 267.0,660.3 269.0,660.0 271.0,662.3 273.0,661.2 275.0,661.1 277.0,656.9 279.0,655.2 281.0,651.5 283.0,649.9 285.0,651.8 287.0,651.3 289.0,651.8 291.0,652.5 293.0,654.7 295.0,655.2 297.0,658.2 299.0,657.0 301.0,656.9 303.0,658.4 305.0,661.3 307.0,667.0 309.0,668.8" fill="none" stroke="#cf2c8c" stroke-width="2.9" stroke-linejoin="round" stroke-linecap="round"/><polyline points="121.0,678.5 123.0,676.0 125.0,677.3 127.0,677.4 129.0,674.8 131.0,674.1 133.0,676.7 135.0,674.2 137.0,675.0 139.0,675.8 141.0,671.5 143.0,661.4 145.0,656.4 147.0,657.9 149.0,666.6 151.0,668.6 153.0,673.1 155.0,673.8 157.0,674.2 159.0,676.2 161.0,674.0 163.0,673.7 165.0,672.9 167.0,671.2 169.0,670.2 171.0,674.3 173.0,675.2 175.0,677.5 177.0,674.9 179.0,675.5 181.0,676.6 183.0,678.4 185.0,676.7 187.0,676.0 189.0,674.6 191.0,674.2 193.0,672.4 195.0,673.6 197.0,669.4 199.0,665.6 201.0,661.6 203.0,662.6 205.0,662.4 207.0,665.8 209.0,666.6 211.0,670.1 213.0,671.1 215.0,671.9 217.0,677.0 219.0,673.5 221.0,677.5 223.0,677.1 225.0,674.1 227.0,676.1 229.0,678.5 231.0,678.5 233.0,676.5 235.0,677.5 237.0,677.2 239.0,675.1 241.0,676.4 243.0,676.7 245.0,675.7 247.0,677.8 249.0,675.9 251.0,677.4 253.0,674.0 255.0,675.9 257.0,673.8 259.0,676.5 261.0,677.1 263.0,674.4 265.0,673.0 267.0,671.5 269.0,667.9 271.0,667.7 273.0,668.6 275.0,669.1 277.0,666.2 279.0,661.9 281.0,655.1 283.0,653.5 285.0,656.7 287.0,660.0 289.0,666.1 291.0,670.1 293.0,670.7 295.0,673.2 297.0,666.0 299.0,659.0 301.0,644.3 303.0,644.1 305.0,654.8 307.0,662.7 309.0,674.3" fill="none" stroke="#7a2e9c" stroke-width="2.9" stroke-linejoin="round" stroke-linecap="round"/><polyline points="121.0,677.9 123.0,675.6 125.0,669.8 127.0,659.9 129.0,654.1 131.0,653.8 133.0,658.0 135.0,655.2 137.0,655.4 139.0,659.8 141.0,658.9 143.0,664.7 145.0,663.7 147.0,662.2 149.0,657.3 151.0,648.2 153.0,639.5 155.0,633.0 157.0,631.5 159.0,632.3 161.0,635.6 163.0,643.0 165.0,651.4 167.0,657.6 169.0,663.5 171.0,669.9 173.0,670.4 175.0,674.2 177.0,675.0 179.0,672.7 181.0,666.0 183.0,664.7 185.0,668.9 187.0,669.9 189.0,676.2 191.0,673.7 193.0,677.3 195.0,673.3 197.0,676.5 199.0,677.2 201.0,675.9 203.0,676.3 205.0,677.7 207.0,678.1 209.0,674.0 211.0,675.7 213.0,673.3 215.0,675.0 217.0,673.8 219.0,673.9 221.0,676.1 223.0,672.9 225.0,672.2 227.0,669.2 229.0,668.8 231.0,659.2 233.0,651.2 235.0,650.8 237.0,654.8 239.0,661.9 241.0,668.3 243.0,672.5 245.0,675.5 247.0,674.3 249.0,677.2 251.0,676.6 253.0,677.4 255.0,677.6 257.0,677.3 259.0,675.7 261.0,675.7 263.0,676.8 265.0,676.0 267.0,673.3 269.0,677.7 271.0,674.1 273.0,675.5 275.0,675.2 277.0,672.9 279.0,674.0 281.0,671.4 283.0,669.2 285.0,665.0 287.0,660.4 289.0,657.5 291.0,654.8 293.0,650.8 295.0,653.2 297.0,652.4 299.0,658.6 301.0,659.4 303.0,663.3 305.0,668.3 307.0,671.1 309.0,672.9" fill="none" stroke="#3fae6c" stroke-width="2.9" stroke-linejoin="round" stroke-linecap="round"/><polyline points="121.0,672.0 123.0,669.2 125.0,670.8 127.0,670.1 129.0,664.3 131.0,662.9 133.0,658.7 135.0,656.5 137.0,656.8 139.0,658.6 141.0,655.1 143.0,656.8 145.0,654.0 147.0,651.7 149.0,651.7 151.0,650.7 153.0,651.3 155.0,654.9 157.0,657.3 159.0,655.7 161.0,659.9 163.0,656.0 165.0,653.0 167.0,645.2 169.0,635.5 171.0,629.1 173.0,634.7 175.0,643.5 177.0,651.0 179.0,655.4 181.0,663.5 183.0,666.3 185.0,668.9 187.0,670.8 189.0,671.7 191.0,670.9 193.0,669.5 195.0,670.2 197.0,670.1 199.0,671.4 201.0,670.8 203.0,671.8 205.0,670.2 207.0,670.6 209.0,672.5 211.0,671.6 213.0,672.3 215.0,671.1 217.0,668.3 219.0,669.7 221.0,669.1 223.0,668.8 225.0,667.6 227.0,665.9 229.0,665.0 231.0,664.6 233.0,665.8 235.0,669.0 237.0,669.3 239.0,667.4 241.0,668.6 243.0,667.9 245.0,672.0 247.0,669.2 249.0,671.3 251.0,669.9 253.0,670.6 255.0,671.9 257.0,670.9 259.0,668.0 261.0,670.8 263.0,669.4 265.0,672.5 267.0,669.0 269.0,668.8 271.0,671.9 273.0,668.4 275.0,664.4 277.0,663.8 279.0,659.2 281.0,653.2 283.0,651.4 285.0,658.4 287.0,660.6 289.0,663.1 291.0,661.5 293.0,662.8 295.0,657.7 297.0,657.6 299.0,658.8 301.0,659.7 303.0,661.6 305.0,659.7 307.0,665.2 309.0,667.3" fill="none" stroke="#168b80" stroke-width="2.9" stroke-linejoin="round" stroke-linecap="round"/><polyline points="121.0,676.2 123.0,673.4 125.0,664.0 127.0,663.7 129.0,659.0 131.0,652.0 133.0,657.0 135.0,658.4 137.0,657.4 139.0,664.1 141.0,664.3 143.0,668.0 145.0,671.7 147.0,673.8 149.0,675.2 151.0,673.5 153.0,674.8 155.0,673.2 157.0,674.0 159.0,675.1 161.0,673.0 163.0,674.4 165.0,676.7 167.0,673.5 169.0,674.8 171.0,672.8 173.0,676.3 175.0,673.1 177.0,673.5 179.0,676.2 181.0,674.5 183.0,674.6 185.0,674.1 187.0,672.1 189.0,669.4 191.0,664.9 193.0,661.1 195.0,657.4 197.0,654.4 199.0,653.0 201.0,656.0 203.0,654.7 205.0,657.7 207.0,662.3 209.0,665.4 211.0,671.9 213.0,674.6 215.0,674.9 217.0,676.3 219.0,673.8 221.0,671.5 223.0,667.3 225.0,661.9 227.0,650.7 229.0,643.5 231.0,640.5 233.0,648.2 235.0,659.6 237.0,666.0 239.0,665.7 241.0,666.2 243.0,663.0 245.0,657.0 247.0,649.7 249.0,645.9 251.0,645.8 253.0,646.5 255.0,647.0 257.0,651.1 259.0,653.6 261.0,657.9 263.0,656.0 265.0,657.6 267.0,653.5 269.0,646.8 271.0,646.6 273.0,650.5 275.0,659.1 277.0,664.0 279.0,663.8 281.0,665.9 283.0,659.3 285.0,655.3 287.0,645.0 289.0,637.8 291.0,635.5 293.0,636.3 295.0,639.9 297.0,646.7 299.0,651.7 301.0,660.7 303.0,666.3 305.0,674.8 307.0,674.1 309.0,673.9" fill="none" stroke="#2aa080" stroke-width="2.9" stroke-linejoin="round" stroke-linecap="round"/><polyline points="121.0,670.3 123.0,672.0 125.0,673.9 127.0,672.4 129.0,671.5 131.0,670.6 133.0,669.8 135.0,674.1 137.0,672.9 139.0,670.3 141.0,672.1 143.0,672.6 145.0,673.6 147.0,670.5 149.0,670.7 151.0,670.0 153.0,672.0 155.0,673.7 157.0,672.7 159.0,669.6 161.0,670.4 163.0,668.2 165.0,667.5 167.0,667.9 169.0,665.6 171.0,666.5 173.0,667.4 175.0,669.5 177.0,672.5 179.0,669.7 181.0,671.3 183.0,669.1 185.0,666.4 187.0,663.0 189.0,661.0 191.0,656.9 193.0,653.1 195.0,652.8 197.0,652.3 199.0,649.2 201.0,644.1 203.0,639.4 205.0,637.3 207.0,641.3 209.0,646.0 211.0,646.9 213.0,647.7 215.0,647.0 217.0,649.6 219.0,654.1 221.0,657.2 223.0,663.0 225.0,667.0 227.0,667.8 229.0,668.7 231.0,669.9 233.0,671.7 235.0,671.7 237.0,671.5 239.0,670.9 241.0,672.2 243.0,670.6 245.0,669.5 247.0,666.8 249.0,660.5 251.0,663.3 253.0,667.2 255.0,667.9 257.0,668.8 259.0,666.6 261.0,666.6 263.0,668.7 265.0,668.2 267.0,670.0 269.0,671.3 271.0,672.2 273.0,672.5 275.0,672.9 277.0,672.4 279.0,671.4 281.0,666.5 283.0,662.6 285.0,657.4 287.0,652.7 289.0,648.0 291.0,643.4 293.0,643.0 295.0,645.4 297.0,650.8 299.0,654.2 301.0,656.7 303.0,657.5 305.0,661.2 307.0,663.8 309.0,671.5" fill="none" stroke="#4a8a3a" stroke-width="2.9" stroke-linejoin="round" stroke-linecap="round"/><polyline points="121.0,672.7 123.0,676.1 125.0,676.5 127.0,674.0 129.0,673.4 131.0,673.0 133.0,672.5 135.0,673.1 137.0,673.1 139.0,676.3 141.0,673.0 143.0,673.0 145.0,676.7 147.0,676.7 149.0,672.6 151.0,673.7 153.0,677.0 155.0,674.0 157.0,675.1 159.0,675.3 161.0,674.9 163.0,671.4 165.0,673.8 167.0,672.6 169.0,668.2 171.0,664.1 173.0,661.2 175.0,657.2 177.0,651.9 179.0,644.6 181.0,646.3 183.0,646.6 185.0,652.7 187.0,656.6 189.0,656.8 191.0,658.8 193.0,655.4 195.0,645.7 197.0,640.4 199.0,637.5 201.0,630.2 203.0,629.4 205.0,631.5 207.0,636.0 209.0,648.5 211.0,656.2 213.0,666.0 215.0,670.2 217.0,670.0 219.0,675.0 221.0,675.5 223.0,676.1 225.0,672.9 227.0,674.7 229.0,672.8 231.0,675.7 233.0,675.1 235.0,676.5 237.0,672.7 239.0,673.3 241.0,672.4 243.0,676.7 245.0,675.3 247.0,672.8 249.0,675.8 251.0,674.3 253.0,674.1 255.0,676.0 257.0,675.7 259.0,674.4 261.0,673.3 263.0,673.5 265.0,672.8 267.0,670.4 269.0,667.9 271.0,666.1 273.0,663.3 275.0,655.8 277.0,649.6 279.0,643.6 281.0,645.6 283.0,642.1 285.0,643.5 287.0,649.1 289.0,654.7 291.0,656.1 293.0,660.5 295.0,663.7 297.0,667.5 299.0,663.9 301.0,663.0 303.0,669.6 305.0,672.2 307.0,672.0 309.0,672.3" fill="none" stroke="#5a2a8a" stroke-width="2.9" stroke-linejoin="round" stroke-linecap="round"/><polyline points="121.0,672.0 123.0,671.7 125.0,669.2 127.0,662.3 129.0,659.1 131.0,658.1 133.0,659.1 135.0,663.3 137.0,668.8 139.0,669.7 141.0,668.8 143.0,668.1 145.0,659.5 147.0,661.1 149.0,664.8 151.0,668.6 153.0,671.8 155.0,670.6 157.0,671.2 159.0,673.7 161.0,672.7 163.0,670.7 165.0,666.3 167.0,666.8 169.0,665.9 171.0,663.4 173.0,660.5 175.0,655.5 177.0,649.0 179.0,644.1 181.0,648.5 183.0,663.3 185.0,668.1 187.0,671.4 189.0,672.8 191.0,675.5 193.0,675.2 195.0,674.1 197.0,674.5 199.0,673.1 201.0,673.0 203.0,671.4 205.0,665.1 207.0,652.3 209.0,643.9 211.0,639.7 213.0,643.3 215.0,650.9 217.0,654.2 219.0,654.0 221.0,655.7 223.0,659.5 225.0,662.1 227.0,662.5 229.0,663.9 231.0,664.5 233.0,662.0 235.0,660.1 237.0,658.3 239.0,654.5 241.0,655.3 243.0,655.2 245.0,661.2 247.0,664.2 249.0,667.0 251.0,668.4 253.0,668.9 255.0,670.8 257.0,671.5 259.0,674.3 261.0,673.5 263.0,674.9 265.0,675.3 267.0,671.9 269.0,671.1 271.0,673.0 273.0,669.3 275.0,668.2 277.0,663.9 279.0,663.1 281.0,669.4 283.0,671.4 285.0,673.6 287.0,673.9 289.0,675.3 291.0,674.8 293.0,670.1 295.0,668.2 297.0,663.7 299.0,661.2 301.0,656.8 303.0,661.2 305.0,664.1 307.0,669.1 309.0,674.7" fill="none" stroke="#3a9a4a" stroke-width="2.9" stroke-linejoin="round" stroke-linecap="round"/><polyline points="121.0,675.0 123.0,672.2 125.0,674.4 127.0,671.5 129.0,672.7 131.0,671.7 133.0,673.0 135.0,670.6 137.0,672.3 139.0,671.7 141.0,670.1 143.0,673.6 145.0,673.3 147.0,668.1 149.0,668.4 151.0,664.9 153.0,660.7 155.0,657.4 157.0,653.9 159.0,649.1 161.0,648.2 163.0,649.3 165.0,653.6 167.0,655.9 169.0,657.5 171.0,657.1 173.0,658.7 175.0,656.8 177.0,652.9 179.0,645.9 181.0,644.1 183.0,641.6 185.0,642.5 187.0,645.4 189.0,645.2 191.0,646.3 193.0,647.5 195.0,649.3 197.0,654.2 199.0,655.6 201.0,655.4 203.0,650.7 205.0,651.9 207.0,651.9 209.0,655.2 211.0,656.6 213.0,661.2 215.0,664.3 217.0,668.0 219.0,669.6 221.0,671.0 223.0,669.6 225.0,674.5 227.0,672.1 229.0,674.3 231.0,671.2 233.0,669.3 235.0,672.7 237.0,668.6 239.0,665.3 241.0,667.7 243.0,666.6 245.0,662.4 247.0,667.5 249.0,664.9 251.0,666.6 253.0,668.3 255.0,673.0 257.0,672.2 259.0,671.6 261.0,670.4 263.0,663.6 265.0,652.5 267.0,636.5 269.0,619.7 271.0,611.6 273.0,612.2 275.0,623.7 277.0,637.1 279.0,646.6 281.0,654.8 283.0,661.2 285.0,665.2 287.0,668.6 289.0,671.7 291.0,668.5 293.0,659.2 295.0,651.1 297.0,646.3 299.0,646.4 301.0,652.2 303.0,659.6 305.0,665.3 307.0,668.7 309.0,670.1" fill="none" stroke="#2389b8" stroke-width="2.9" stroke-linejoin="round" stroke-linecap="round"/><polyline points="300.0,678.5 302.0,675.7 304.0,678.5 306.0,676.1 308.0,673.6 310.0,670.4 312.0,663.2 314.0,658.1 316.0,655.2 318.0,652.7 320.0,656.2 322.0,657.9 324.0,660.6 326.0,661.6 328.0,661.3 330.0,663.1 332.0,663.4 334.0,660.8 336.0,664.2 338.0,663.6 340.0,668.2 342.0,668.1 344.0,672.0 346.0,672.7 348.0,675.5 350.0,674.0 352.0,668.0 354.0,663.4 356.0,659.3 358.0,652.0 360.0,647.5 362.0,649.1 364.0,650.1 366.0,649.3 368.0,654.5 370.0,662.9 372.0,669.4 374.0,672.8 376.0,674.5 378.0,676.4 380.0,676.1 382.0,676.7 384.0,678.5 386.0,675.2 388.0,678.1 390.0,678.3 392.0,675.4 394.0,678.3 396.0,674.9 398.0,677.8 400.0,674.7 402.0,669.6 404.0,665.5 406.0,662.3 408.0,655.3 410.0,653.2 412.0,657.5 414.0,663.0 416.0,664.4 418.0,672.0 420.0,673.4 422.0,676.7 424.0,676.5 426.0,678.5 428.0,677.5 430.0,678.5 432.0,678.5 434.0,675.2 436.0,678.5 438.0,677.3 440.0,672.8 442.0,672.6 444.0,667.4 446.0,661.8 448.0,657.2 450.0,655.3 452.0,656.4 454.0,653.1 456.0,656.8 458.0,657.5 460.0,653.3 462.0,656.7 464.0,662.0 466.0,668.7 468.0,670.4 470.0,673.8 472.0,671.5 474.0,671.4 476.0,671.9 478.0,673.5 480.0,673.5 482.0,677.8 484.0,673.4 486.0,676.0 488.0,674.0 490.0,670.3 492.0,665.6 494.0,663.9 496.0,665.6 498.0,662.0 500.0,664.1 502.0,664.8 504.0,668.4 506.0,673.2 508.0,675.3 510.0,675.7" fill="none" stroke="#8a3a9a" stroke-width="2.9" stroke-linejoin="round" stroke-linecap="round"/><polyline points="300.0,670.9 302.0,668.1 304.0,662.1 306.0,656.8 308.0,654.5 310.0,654.0 312.0,656.6 314.0,661.1 316.0,664.3 318.0,663.8 320.0,664.9 322.0,661.1 324.0,657.1 326.0,654.0 328.0,651.3 330.0,651.0 332.0,649.9 334.0,642.5 336.0,639.6 338.0,634.8 340.0,632.9 342.0,630.1 344.0,630.8 346.0,638.1 348.0,642.2 350.0,650.5 352.0,658.1 354.0,661.7 356.0,667.2 358.0,669.3 360.0,667.2 362.0,669.0 364.0,671.5 366.0,670.7 368.0,668.3 370.0,672.1 372.0,670.3 374.0,667.4 376.0,664.7 378.0,658.5 380.0,655.5 382.0,649.3 384.0,650.2 386.0,653.0 388.0,653.2 390.0,658.3 392.0,664.3 394.0,668.7 396.0,665.6 398.0,663.3 400.0,656.2 402.0,644.0 404.0,636.4 406.0,635.9 408.0,631.4 410.0,627.9 412.0,628.5 414.0,632.0 416.0,642.1 418.0,650.1 420.0,656.9 422.0,660.3 424.0,663.5 426.0,668.2 428.0,670.5 430.0,671.1 432.0,672.9 434.0,670.3 436.0,670.4 438.0,670.2 440.0,671.1 442.0,671.9 444.0,672.9 446.0,669.0 448.0,671.4 450.0,672.4 452.0,672.3 454.0,670.7 456.0,668.9 458.0,670.1 460.0,671.5 462.0,672.4 464.0,669.6 466.0,670.2 468.0,670.4 470.0,668.8 472.0,673.4 474.0,670.3 476.0,670.6 478.0,672.9 480.0,671.0 482.0,666.0 484.0,665.2 486.0,659.1 488.0,652.7 490.0,649.4 492.0,652.2 494.0,655.9 496.0,659.1 498.0,661.7 500.0,667.9 502.0,669.8 504.0,672.5 506.0,672.4 508.0,672.0 510.0,673.0" fill="none" stroke="#c02a6a" stroke-width="2.9" stroke-linejoin="round" stroke-linecap="round"/><polyline points="300.0,675.0 302.0,678.5 304.0,678.5 306.0,675.0 308.0,677.6 310.0,676.1 312.0,678.5 314.0,678.5 316.0,676.4 318.0,677.9 320.0,677.4 322.0,676.3 324.0,677.0 326.0,676.8 328.0,677.1 330.0,678.5 332.0,678.0 334.0,673.8 336.0,673.7 338.0,673.8 340.0,667.3 342.0,658.3 344.0,648.2 346.0,638.9 348.0,631.0 350.0,633.1 352.0,638.7 354.0,647.1 356.0,658.3 358.0,662.3 360.0,668.4 362.0,674.6 364.0,677.5 366.0,675.1 368.0,676.6 370.0,672.4 372.0,662.8 374.0,662.1 376.0,659.5 378.0,666.7 380.0,670.3 382.0,672.7 384.0,674.9 386.0,673.4 388.0,666.6 390.0,665.1 392.0,665.7 394.0,667.0 396.0,667.6 398.0,673.5 400.0,672.9 402.0,678.2 404.0,676.7 406.0,675.3 408.0,674.3 410.0,668.9 412.0,668.6 414.0,672.4 416.0,676.1 418.0,677.9 420.0,677.6 422.0,675.7 424.0,672.3 426.0,671.0 428.0,666.0 430.0,663.4 432.0,660.7 434.0,660.0 436.0,663.7 438.0,665.6 440.0,669.9 442.0,675.0 444.0,675.9 446.0,672.3 448.0,672.1 450.0,671.7 452.0,671.3 454.0,669.8 456.0,670.3 458.0,673.7 460.0,671.0 462.0,670.9 464.0,673.1 466.0,670.1 468.0,670.8 470.0,667.7 472.0,668.7 474.0,665.6 476.0,660.1 478.0,660.4 480.0,658.2 482.0,661.6 484.0,660.3 486.0,659.4 488.0,663.2 490.0,662.6 492.0,666.3 494.0,672.4 496.0,672.5 498.0,675.5 500.0,678.5 502.0,676.5 504.0,678.5 506.0,678.0 508.0,678.5 510.0,677.8" fill="none" stroke="#20a0a0" stroke-width="2.9" stroke-linejoin="round" stroke-linecap="round"/><polyline points="300.0,670.3 302.0,668.0 304.0,667.7 306.0,661.3 308.0,659.3 310.0,655.1 312.0,662.3 314.0,664.3 316.0,665.1 318.0,665.2 320.0,668.8 322.0,667.7 324.0,662.9 326.0,659.6 328.0,662.1 330.0,659.6 332.0,654.7 334.0,648.6 336.0,645.1 338.0,638.1 340.0,627.8 342.0,624.2 344.0,626.0 346.0,627.3 348.0,632.2 350.0,636.6 352.0,641.4 354.0,651.7 356.0,657.1 358.0,662.3 360.0,663.5 362.0,666.1 364.0,671.3 366.0,672.3 368.0,668.9 370.0,669.2 372.0,669.6 374.0,672.4 376.0,670.1 378.0,668.3 380.0,665.4 382.0,657.9 384.0,644.2 386.0,636.5 388.0,639.2 390.0,647.8 392.0,657.5 394.0,664.3 396.0,667.7 398.0,670.4 400.0,670.2 402.0,670.2 404.0,669.6 406.0,672.0 408.0,672.9 410.0,670.7 412.0,668.8 414.0,668.9 416.0,664.9 418.0,663.1 420.0,663.3 422.0,668.0 424.0,666.2 426.0,670.2 428.0,668.8 430.0,670.8 432.0,674.0 434.0,673.3 436.0,671.5 438.0,670.4 440.0,670.4 442.0,671.7 444.0,670.9 446.0,669.4 448.0,667.1 450.0,668.9 452.0,667.3 454.0,664.0 456.0,658.8 458.0,656.4 460.0,654.8 462.0,660.7 464.0,660.7 466.0,662.0 468.0,669.3 470.0,669.8 472.0,671.6 474.0,671.3 476.0,670.0 478.0,673.1 480.0,672.8 482.0,671.7 484.0,673.8 486.0,670.0 488.0,673.9 490.0,671.9 492.0,669.2 494.0,672.2 496.0,671.3 498.0,669.6 500.0,666.1 502.0,667.1 504.0,668.3 506.0,670.4 508.0,670.4 510.0,669.7" fill="none" stroke="#c8c23a" stroke-width="2.9" stroke-linejoin="round" stroke-linecap="round"/><polyline points="300.0,678.4 302.0,674.9 304.0,674.4 306.0,674.1 308.0,676.8 310.0,676.4 312.0,676.2 314.0,673.7 316.0,672.6 318.0,672.2 320.0,671.0 322.0,671.5 324.0,670.1 326.0,670.3 328.0,674.5 330.0,671.9 332.0,667.6 334.0,662.1 336.0,662.8 338.0,666.7 340.0,675.4 342.0,675.9 344.0,678.2 346.0,677.8 348.0,677.9 350.0,677.1 352.0,677.9 354.0,676.1 356.0,677.5 358.0,676.6 360.0,677.0 362.0,678.5 364.0,678.4 366.0,677.5 368.0,676.9 370.0,675.1 372.0,678.1 374.0,676.0 376.0,675.8 378.0,678.2 380.0,676.3 382.0,677.4 384.0,674.5 386.0,676.5 388.0,675.1 390.0,668.4 392.0,661.4 394.0,650.3 396.0,643.4 398.0,640.5 400.0,645.2 402.0,657.4 404.0,665.0 406.0,672.5 408.0,672.7 410.0,673.2 412.0,674.1 414.0,672.8 416.0,667.8 418.0,664.8 420.0,664.0 422.0,657.9 424.0,656.1 426.0,659.3 428.0,660.2 430.0,662.2 432.0,662.4 434.0,669.3 436.0,669.4 438.0,674.0 440.0,673.2 442.0,677.5 444.0,674.1 446.0,673.5 448.0,673.0 450.0,672.3 452.0,665.6 454.0,665.0 456.0,665.1 458.0,667.6 460.0,671.2 462.0,672.3 464.0,670.8 466.0,668.0 468.0,661.8 470.0,656.5 472.0,648.4 474.0,638.7 476.0,631.7 478.0,624.4 480.0,619.3 482.0,624.2 484.0,627.1 486.0,635.5 488.0,641.3 490.0,651.6 492.0,655.3 494.0,661.8 496.0,670.3 498.0,674.0 500.0,674.3 502.0,677.1 504.0,676.1 506.0,674.1 508.0,674.6 510.0,677.0" fill="none" stroke="#1e6a8a" stroke-width="2.9" stroke-linejoin="round" stroke-linecap="round"/><polyline points="300.0,671.8 302.0,670.7 304.0,671.3 306.0,667.7 308.0,670.9 310.0,671.4 312.0,670.1 314.0,670.1 316.0,668.9 318.0,669.7 320.0,670.6 322.0,672.0 324.0,670.5 326.0,669.9 328.0,669.3 330.0,671.5 332.0,669.3 334.0,667.9 336.0,670.2 338.0,669.7 340.0,670.4 342.0,666.9 344.0,665.5 346.0,660.2 348.0,656.2 350.0,649.4 352.0,647.6 354.0,644.7 356.0,646.7 358.0,649.3 360.0,656.1 362.0,659.1 364.0,663.2 366.0,665.9 368.0,668.0 370.0,666.2 372.0,665.7 374.0,661.4 376.0,654.3 378.0,650.0 380.0,646.2 382.0,641.8 384.0,645.7 386.0,649.5 388.0,655.3 390.0,660.3 392.0,666.2 394.0,666.6 396.0,664.6 398.0,663.3 400.0,667.3 402.0,666.5 404.0,666.0 406.0,668.2 408.0,668.1 410.0,672.5 412.0,668.9 414.0,670.1 416.0,667.9 418.0,672.0 420.0,670.2 422.0,667.5 424.0,669.8 426.0,669.1 428.0,662.8 430.0,655.6 432.0,648.1 434.0,637.5 436.0,634.5 438.0,636.4 440.0,637.5 442.0,639.0 444.0,639.7 446.0,642.2 448.0,643.7 450.0,644.4 452.0,642.4 454.0,642.4 456.0,640.5 458.0,632.6 460.0,629.9 462.0,625.1 464.0,629.1 466.0,638.1 468.0,648.7 470.0,660.9 472.0,664.2 474.0,665.2 476.0,668.7 478.0,666.7 480.0,659.6 482.0,655.4 484.0,650.1 486.0,648.3 488.0,646.6 490.0,644.0 492.0,646.6 494.0,643.2 496.0,643.9 498.0,645.6 500.0,649.5 502.0,658.9 504.0,665.4 506.0,667.0 508.0,667.6 510.0,669.6" fill="none" stroke="#d27a2e" stroke-width="2.9" stroke-linejoin="round" stroke-linecap="round"/><polyline points="300.0,671.0 302.0,670.2 304.0,669.8 306.0,664.7 308.0,659.0 310.0,648.5 312.0,647.7 314.0,649.5 316.0,653.5 318.0,662.2 320.0,663.6 322.0,671.3 324.0,669.4 326.0,667.1 328.0,665.9 330.0,663.0 332.0,657.7 334.0,659.0 336.0,658.1 338.0,659.3 340.0,662.4 342.0,667.0 344.0,667.8 346.0,670.2 348.0,673.4 350.0,673.8 352.0,670.5 354.0,670.3 356.0,674.3 358.0,672.9 360.0,669.9 362.0,670.8 364.0,671.4 366.0,671.8 368.0,671.0 370.0,670.9 372.0,671.3 374.0,671.5 376.0,668.2 378.0,667.3 380.0,661.4 382.0,662.6 384.0,666.6 386.0,667.0 388.0,667.9 390.0,669.4 392.0,673.4 394.0,674.6 396.0,672.9 398.0,673.3 400.0,672.6 402.0,671.1 404.0,666.5 406.0,664.0 408.0,658.6 410.0,657.4 412.0,658.0 414.0,658.4 416.0,664.0 418.0,666.3 420.0,663.4 422.0,656.3 424.0,647.7 426.0,636.0 428.0,632.9 430.0,635.6 432.0,637.2 434.0,642.0 436.0,649.1 438.0,661.6 440.0,667.1 442.0,673.7 444.0,671.9 446.0,673.8 448.0,674.3 450.0,673.3 452.0,672.1 454.0,673.3 456.0,672.6 458.0,673.2 460.0,674.6 462.0,671.6 464.0,671.4 466.0,671.2 468.0,672.1 470.0,673.9 472.0,671.4 474.0,672.3 476.0,674.5 478.0,670.1 480.0,668.2 482.0,665.5 484.0,665.1 486.0,656.8 488.0,652.9 490.0,650.0 492.0,646.4 494.0,646.0 496.0,647.3 498.0,646.0 500.0,650.9 502.0,656.9 504.0,663.8 506.0,665.7 508.0,669.8 510.0,670.1" fill="none" stroke="#252d80" stroke-width="2.9" stroke-linejoin="round" stroke-linecap="round"/><polyline points="300.0,671.5 302.0,668.8 304.0,668.4 306.0,669.7 308.0,671.8 310.0,669.4 312.0,672.3 314.0,671.0 316.0,670.5 318.0,671.0 320.0,670.8 322.0,670.5 324.0,672.0 326.0,671.3 328.0,670.4 330.0,667.8 332.0,668.7 334.0,667.9 336.0,671.0 338.0,670.3 340.0,665.8 342.0,665.3 344.0,658.8 346.0,659.1 348.0,651.3 350.0,652.2 352.0,650.8 354.0,654.3 356.0,657.5 358.0,660.0 360.0,661.4 362.0,664.4 364.0,669.6 366.0,669.8 368.0,667.1 370.0,671.2 372.0,667.7 374.0,666.9 376.0,670.6 378.0,669.4 380.0,664.8 382.0,664.6 384.0,659.3 386.0,656.7 388.0,658.0 390.0,654.8 392.0,654.3 394.0,659.8 396.0,660.2 398.0,664.0 400.0,666.9 402.0,667.7 404.0,666.5 406.0,667.7 408.0,671.7 410.0,670.3 412.0,668.8 414.0,671.6 416.0,672.3 418.0,668.7 420.0,670.6 422.0,672.0 424.0,666.3 426.0,666.0 428.0,659.1 430.0,655.3 432.0,648.2 434.0,648.7 436.0,646.9 438.0,647.6 440.0,653.7 442.0,652.5 444.0,653.3 446.0,653.5 448.0,642.7 450.0,639.8 452.0,634.9 454.0,638.0 456.0,640.7 458.0,641.8 460.0,645.5 462.0,649.5 464.0,652.4 466.0,654.8 468.0,654.5 470.0,648.4 472.0,648.5 474.0,655.1 476.0,662.8 478.0,665.8 480.0,667.3 482.0,667.5 484.0,671.2 486.0,670.1 488.0,666.4 490.0,666.0 492.0,665.3 494.0,667.0 496.0,664.7 498.0,662.6 500.0,664.9 502.0,668.9 504.0,668.4 506.0,671.6 508.0,669.4 510.0,671.2" fill="none" stroke="#cf2c8c" stroke-width="2.9" stroke-linejoin="round" stroke-linecap="round"/><polyline points="300.0,675.5 302.0,671.5 304.0,673.6 306.0,670.9 308.0,671.5 310.0,668.8 312.0,669.6 314.0,669.4 316.0,672.2 318.0,675.4 320.0,675.8 322.0,672.2 324.0,675.0 326.0,672.0 328.0,673.8 330.0,672.9 332.0,672.2 334.0,673.1 336.0,674.6 338.0,674.3 340.0,672.6 342.0,671.6 344.0,671.0 346.0,675.5 348.0,673.5 350.0,673.4 352.0,673.0 354.0,671.4 356.0,672.1 358.0,675.7 360.0,672.5 362.0,672.9 364.0,674.2 366.0,671.3 368.0,667.5 370.0,664.8 372.0,663.4 374.0,661.8 376.0,661.9 378.0,662.7 380.0,665.3 382.0,668.1 384.0,669.5 386.0,670.9 388.0,672.5 390.0,671.5 392.0,675.1 394.0,671.0 396.0,671.9 398.0,668.9 400.0,666.6 402.0,659.5 404.0,658.5 406.0,650.8 408.0,639.1 410.0,633.5 412.0,631.6 414.0,627.8 416.0,626.1 418.0,629.1 420.0,629.6 422.0,638.9 424.0,643.4 426.0,651.5 428.0,661.5 430.0,663.5 432.0,667.2 434.0,667.6 436.0,664.0 438.0,662.5 440.0,661.5 442.0,661.0 444.0,663.7 446.0,669.7 448.0,668.3 450.0,665.4 452.0,665.4 454.0,658.3 456.0,656.3 458.0,661.3 460.0,661.7 462.0,668.8 464.0,672.2 466.0,670.8 468.0,674.6 470.0,673.7 472.0,671.5 474.0,670.6 476.0,669.1 478.0,668.6 480.0,667.0 482.0,660.2 484.0,655.7 486.0,651.9 488.0,652.1 490.0,653.6 492.0,654.3 494.0,656.5 496.0,656.8 498.0,659.1 500.0,655.8 502.0,654.5 504.0,661.2 506.0,664.7 508.0,666.4 510.0,674.3" fill="none" stroke="#7a2e9c" stroke-width="2.9" stroke-linejoin="round" stroke-linecap="round"/><polyline points="300.0,677.1 302.0,675.4 304.0,678.5 306.0,676.7 308.0,675.2 310.0,674.9 312.0,668.7 314.0,670.0 316.0,664.4 318.0,661.2 320.0,658.0 322.0,656.8 324.0,656.1 326.0,655.5 328.0,656.6 330.0,660.2 332.0,665.9 334.0,669.7 336.0,673.9 338.0,675.6 340.0,674.4 342.0,674.9 344.0,677.4 346.0,674.2 348.0,666.9 350.0,665.0 352.0,657.5 354.0,654.6 356.0,658.5 358.0,662.9 360.0,667.6 362.0,671.9 364.0,675.4 366.0,678.1 368.0,677.9 370.0,674.9 372.0,674.6 374.0,676.3 376.0,675.9 378.0,678.4 380.0,677.4 382.0,674.5 384.0,674.2 386.0,671.3 388.0,666.4 390.0,663.2 392.0,667.0 394.0,667.8 396.0,672.2 398.0,667.8 400.0,666.7 402.0,667.3 404.0,664.4 406.0,665.6 408.0,659.9 410.0,653.4 412.0,644.5 414.0,639.3 416.0,638.9 418.0,644.1 420.0,647.8 422.0,658.7 424.0,664.7 426.0,663.4 428.0,666.4 430.0,661.8 432.0,656.2 434.0,654.7 436.0,647.1 438.0,648.7 440.0,655.8 442.0,663.2 444.0,671.6 446.0,676.2 448.0,675.1 450.0,671.6 452.0,669.2 454.0,656.1 456.0,649.7 458.0,649.3 460.0,658.6 462.0,662.3 464.0,669.9 466.0,671.7 468.0,674.3 470.0,676.7 472.0,675.6 474.0,675.2 476.0,678.1 478.0,677.6 480.0,676.6 482.0,675.4 484.0,675.3 486.0,676.7 488.0,677.9 490.0,676.0 492.0,674.6 494.0,676.8 496.0,675.7 498.0,678.2 500.0,678.0 502.0,677.0 504.0,674.9 506.0,677.9 508.0,676.8 510.0,678.3" fill="none" stroke="#3fae6c" stroke-width="2.9" stroke-linejoin="round" stroke-linecap="round"/><polyline points="500.0,670.8 502.0,673.3 504.0,672.2 506.0,674.4 508.0,672.0 510.0,670.0 512.0,670.6 514.0,666.0 516.0,667.9 518.0,665.1 520.0,665.9 522.0,666.6 524.0,664.6 526.0,662.3 528.0,662.4 530.0,658.6 532.0,661.8 534.0,666.0 536.0,667.9 538.0,668.6 540.0,669.2 542.0,671.0 544.0,672.0 546.0,670.7 548.0,674.9 550.0,673.4 552.0,672.3 554.0,669.4 556.0,668.0 558.0,665.6 560.0,661.4 562.0,660.6 564.0,660.8 566.0,664.0 568.0,666.6 570.0,663.2 572.0,664.2 574.0,667.8 576.0,663.8 578.0,665.8 580.0,668.6 582.0,669.8 584.0,669.4 586.0,672.9 588.0,673.0 590.0,668.8 592.0,670.1 594.0,664.1 596.0,659.1 598.0,654.7 600.0,653.6 602.0,656.5 604.0,656.9 606.0,659.1 608.0,658.6 610.0,655.7 612.0,655.1 614.0,652.3 616.0,648.1 618.0,650.1 620.0,652.8 622.0,656.8 624.0,660.5 626.0,663.4 628.0,667.3 630.0,666.2 632.0,667.6 634.0,665.4 636.0,666.0 638.0,666.5 640.0,667.5 642.0,663.6 644.0,661.8 646.0,657.0 648.0,655.8 650.0,655.4 652.0,656.6 654.0,662.1 656.0,666.4 658.0,664.0 660.0,668.9 662.0,666.5 664.0,671.4 666.0,672.2 668.0,674.8 670.0,671.9 672.0,671.2 674.0,669.9 676.0,669.1 678.0,667.4 680.0,666.1 682.0,661.1 684.0,655.9 686.0,653.0 688.0,641.8 690.0,641.1 692.0,637.9 694.0,647.1 696.0,658.3 698.0,668.7 700.0,672.3 702.0,670.0 704.0,674.1" fill="none" stroke="#168b80" stroke-width="2.9" stroke-linejoin="round" stroke-linecap="round"/><polyline points="500.0,672.0 502.0,671.8 504.0,668.6 506.0,668.6 508.0,662.6 510.0,656.4 512.0,651.9 514.0,652.3 516.0,652.0 518.0,652.5 520.0,651.4 522.0,653.5 524.0,655.3 526.0,651.7 528.0,649.7 530.0,651.3 532.0,651.3 534.0,656.2 536.0,663.0 538.0,665.4 540.0,667.9 542.0,672.7 544.0,671.4 546.0,671.5 548.0,669.8 550.0,672.4 552.0,671.9 554.0,670.9 556.0,674.1 558.0,672.6 560.0,672.1 562.0,673.5 564.0,670.7 566.0,672.4 568.0,668.5 570.0,663.2 572.0,659.1 574.0,657.8 576.0,654.2 578.0,652.0 580.0,659.1 582.0,660.7 584.0,663.7 586.0,667.5 588.0,668.1 590.0,671.5 592.0,671.6 594.0,670.3 596.0,668.9 598.0,665.6 600.0,663.8 602.0,660.5 604.0,653.2 606.0,654.3 608.0,655.2 610.0,657.7 612.0,658.8 614.0,662.0 616.0,662.5 618.0,665.5 620.0,666.9 622.0,666.3 624.0,670.2 626.0,670.9 628.0,671.2 630.0,670.2 632.0,674.0 634.0,673.4 636.0,673.4 638.0,670.7 640.0,670.3 642.0,670.3 644.0,671.2 646.0,670.8 648.0,672.3 650.0,669.7 652.0,671.2 654.0,664.4 656.0,663.3 658.0,662.7 660.0,658.2 662.0,657.3 664.0,657.9 666.0,658.0 668.0,658.0 670.0,660.2 672.0,667.3 674.0,665.7 676.0,664.9 678.0,658.8 680.0,656.9 682.0,655.9 684.0,657.8 686.0,662.6 688.0,662.8 690.0,661.1 692.0,660.1 694.0,658.3 696.0,657.6 698.0,656.8 700.0,663.3 702.0,668.3 704.0,672.7" fill="none" stroke="#2aa080" stroke-width="2.9" stroke-linejoin="round" stroke-linecap="round"/><polyline points="500.0,671.2 502.0,671.3 504.0,672.9 506.0,671.4 508.0,675.3 510.0,670.7 512.0,672.8 514.0,671.0 516.0,672.3 518.0,666.9 520.0,665.1 522.0,661.9 524.0,658.0 526.0,653.6 528.0,653.5 530.0,650.8 532.0,653.7 534.0,652.2 536.0,654.5 538.0,655.0 540.0,655.8 542.0,649.6 544.0,648.6 546.0,652.8 548.0,652.4 550.0,661.9 552.0,665.2 554.0,667.6 556.0,673.0 558.0,673.9 560.0,672.3 562.0,674.8 564.0,671.9 566.0,673.8 568.0,673.1 570.0,673.7 572.0,669.4 574.0,667.3 576.0,667.3 578.0,666.1 580.0,668.8 582.0,671.0 584.0,673.0 586.0,675.0 588.0,673.2 590.0,674.2 592.0,672.6 594.0,670.6 596.0,673.6 598.0,669.5 600.0,670.6 602.0,668.0 604.0,662.8 606.0,656.3 608.0,654.0 610.0,653.0 612.0,652.3 614.0,657.0 616.0,661.1 618.0,663.1 620.0,664.0 622.0,663.0 624.0,662.8 626.0,654.8 628.0,650.5 630.0,644.0 632.0,640.9 634.0,639.8 636.0,641.6 638.0,643.8 640.0,651.0 642.0,657.0 644.0,661.0 646.0,663.4 648.0,667.0 650.0,665.4 652.0,667.0 654.0,660.2 656.0,657.3 658.0,649.9 660.0,647.0 662.0,644.2 664.0,641.8 666.0,640.6 668.0,640.4 670.0,642.9 672.0,645.6 674.0,647.2 676.0,650.2 678.0,654.4 680.0,655.0 682.0,657.6 684.0,655.7 686.0,658.0 688.0,655.2 690.0,657.5 692.0,654.6 694.0,655.6 696.0,652.5 698.0,657.8 700.0,664.7 702.0,667.9 704.0,671.6" fill="none" stroke="#4a8a3a" stroke-width="2.9" stroke-linejoin="round" stroke-linecap="round"/><polyline points="500.0,678.5 502.0,677.5 504.0,674.4 506.0,676.4 508.0,672.2 510.0,674.1 512.0,672.4 514.0,674.7 516.0,678.5 518.0,678.5 520.0,675.2 522.0,677.5 524.0,677.3 526.0,676.2 528.0,675.5 530.0,676.3 532.0,674.9 534.0,674.3 536.0,676.3 538.0,672.0 540.0,669.7 542.0,668.5 544.0,665.8 546.0,669.2 548.0,667.0 550.0,667.0 552.0,666.4 554.0,656.2 556.0,647.5 558.0,633.5 560.0,627.4 562.0,630.5 564.0,640.1 566.0,648.4 568.0,657.7 570.0,664.8 572.0,670.4 574.0,671.6 576.0,674.2 578.0,676.6 580.0,674.6 582.0,673.1 584.0,672.4 586.0,669.7 588.0,664.9 590.0,661.4 592.0,653.8 594.0,653.1 596.0,650.2 598.0,656.0 600.0,655.6 602.0,661.2 604.0,666.4 606.0,669.2 608.0,672.3 610.0,674.5 612.0,676.3 614.0,676.8 616.0,676.1 618.0,672.4 620.0,669.4 622.0,667.0 624.0,667.7 626.0,672.0 628.0,677.7 630.0,676.8 632.0,675.7 634.0,677.5 636.0,678.5 638.0,678.5 640.0,677.0 642.0,678.2 644.0,675.4 646.0,678.5 648.0,677.1 650.0,675.6 652.0,675.6 654.0,677.2 656.0,674.7 658.0,668.7 660.0,672.4 662.0,671.2 664.0,673.3 666.0,674.7 668.0,675.8 670.0,678.5 672.0,677.9 674.0,678.5 676.0,675.2 678.0,673.8 680.0,675.4 682.0,670.9 684.0,668.3 686.0,667.9 688.0,663.7 690.0,665.3 692.0,667.8 694.0,671.8 696.0,673.0 698.0,676.8 700.0,677.0 702.0,676.9 704.0,676.4" fill="none" stroke="#5a2a8a" stroke-width="2.9" stroke-linejoin="round" stroke-linecap="round"/><polyline points="500.0,678.5 502.0,668.1 504.0,665.3 506.0,660.7 508.0,664.3 510.0,665.8 512.0,671.7 514.0,674.5 516.0,672.9 518.0,677.1 520.0,674.5 522.0,676.1 524.0,677.1 526.0,674.8 528.0,673.4 530.0,669.1 532.0,669.1 534.0,668.2 536.0,671.5 538.0,671.7 540.0,676.6 542.0,673.0 544.0,672.6 546.0,668.4 548.0,662.6 550.0,659.6 552.0,654.8 554.0,655.1 556.0,655.2 558.0,660.3 560.0,665.2 562.0,673.1 564.0,674.8 566.0,673.6 568.0,676.1 570.0,676.6 572.0,676.5 574.0,677.2 576.0,678.5 578.0,675.9 580.0,677.3 582.0,677.9 584.0,678.2 586.0,676.2 588.0,676.8 590.0,677.6 592.0,676.6 594.0,675.2 596.0,670.6 598.0,665.0 600.0,664.7 602.0,663.3 604.0,661.6 606.0,656.3 608.0,654.4 610.0,656.7 612.0,659.2 614.0,665.0 616.0,668.1 618.0,672.5 620.0,672.4 622.0,673.7 624.0,668.0 626.0,662.4 628.0,655.2 630.0,653.2 632.0,651.3 634.0,658.8 636.0,666.9 638.0,673.0 640.0,677.2 642.0,676.6 644.0,674.1 646.0,675.1 648.0,674.6 650.0,676.8 652.0,676.7 654.0,672.0 656.0,669.1 658.0,663.3 660.0,661.2 662.0,656.2 664.0,657.8 666.0,658.2 668.0,663.5 670.0,669.4 672.0,673.3 674.0,675.0 676.0,673.9 678.0,676.4 680.0,676.0 682.0,676.2 684.0,676.5 686.0,675.1 688.0,667.1 690.0,662.9 692.0,659.6 694.0,653.7 696.0,655.2 698.0,658.8 700.0,662.9 702.0,670.3 704.0,673.2" fill="none" stroke="#3a9a4a" stroke-width="2.9" stroke-linejoin="round" stroke-linecap="round"/><polyline points="500.0,675.6 502.0,675.5 504.0,674.6 506.0,674.8 508.0,672.0 510.0,668.4 512.0,662.7 514.0,657.8 516.0,655.6 518.0,649.9 520.0,652.6 522.0,654.3 524.0,656.5 526.0,659.9 528.0,656.2 530.0,652.6 532.0,651.8 534.0,650.7 536.0,653.6 538.0,653.7 540.0,658.1 542.0,657.0 544.0,657.7 546.0,662.8 548.0,665.3 550.0,667.6 552.0,670.0 554.0,668.0 556.0,664.8 558.0,660.1 560.0,650.0 562.0,650.6 564.0,650.5 566.0,655.8 568.0,660.5 570.0,669.0 572.0,669.7 574.0,674.4 576.0,673.9 578.0,676.5 580.0,671.4 582.0,671.6 584.0,668.9 586.0,666.0 588.0,656.4 590.0,647.3 592.0,638.7 594.0,633.4 596.0,631.9 598.0,635.2 600.0,646.2 602.0,655.1 604.0,664.4 606.0,668.8 608.0,670.4 610.0,672.2 612.0,676.9 614.0,672.6 616.0,675.6 618.0,676.6 620.0,674.7 622.0,676.7 624.0,675.3 626.0,677.5 628.0,676.9 630.0,672.9 632.0,675.5 634.0,672.4 636.0,672.7 638.0,671.8 640.0,669.9 642.0,670.8 644.0,669.9 646.0,671.3 648.0,675.4 650.0,675.5 652.0,675.3 654.0,677.5 656.0,675.7 658.0,677.0 660.0,674.0 662.0,674.5 664.0,675.2 666.0,677.6 668.0,677.6 670.0,675.3 672.0,675.8 674.0,675.8 676.0,674.3 678.0,674.3 680.0,671.3 682.0,670.0 684.0,669.0 686.0,665.8 688.0,659.6 690.0,658.4 692.0,656.6 694.0,656.4 696.0,656.8 698.0,663.4 700.0,670.3 702.0,673.4 704.0,672.4" fill="none" stroke="#2389b8" stroke-width="2.9" stroke-linejoin="round" stroke-linecap="round"/><polyline points="500.0,670.9 502.0,666.2 504.0,658.9 506.0,652.2 508.0,651.2 510.0,658.2 512.0,661.4 514.0,664.0 516.0,666.3 518.0,667.2 520.0,665.0 522.0,670.8 524.0,670.2 526.0,674.9 528.0,674.1 530.0,671.1 532.0,674.6 534.0,669.0 536.0,665.4 538.0,662.1 540.0,656.8 542.0,645.5 544.0,646.2 546.0,644.0 548.0,645.0 550.0,646.0 552.0,649.9 554.0,653.7 556.0,658.0 558.0,657.5 560.0,654.2 562.0,650.0 564.0,641.5 566.0,638.7 568.0,633.0 570.0,633.8 572.0,637.2 574.0,642.1 576.0,646.8 578.0,652.3 580.0,656.2 582.0,665.6 584.0,671.0 586.0,671.9 588.0,674.9 590.0,673.8 592.0,671.9 594.0,671.8 596.0,674.7 598.0,671.7 600.0,675.5 602.0,675.6 604.0,674.4 606.0,671.5 608.0,671.1 610.0,675.0 612.0,671.8 614.0,672.2 616.0,673.6 618.0,674.1 620.0,672.8 622.0,672.9 624.0,673.6 626.0,673.4 628.0,673.5 630.0,671.5 632.0,667.3 634.0,662.8 636.0,656.2 638.0,651.6 640.0,648.7 642.0,651.3 644.0,658.9 646.0,658.1 648.0,662.9 650.0,662.6 652.0,664.1 654.0,668.1 656.0,665.9 658.0,670.7 660.0,672.4 662.0,674.4 664.0,672.1 666.0,672.0 668.0,672.0 670.0,672.5 672.0,673.5 674.0,673.0 676.0,671.5 678.0,671.0 680.0,671.9 682.0,672.0 684.0,670.9 686.0,670.7 688.0,672.4 690.0,675.1 692.0,673.4 694.0,674.1 696.0,672.4 698.0,675.5 700.0,674.2 702.0,670.9 704.0,673.5" fill="none" stroke="#8a3a9a" stroke-width="2.9" stroke-linejoin="round" stroke-linecap="round"/><polyline points="500.0,677.1 502.0,671.5 504.0,670.4 506.0,667.1 508.0,667.0 510.0,669.2 512.0,673.8 514.0,673.0 516.0,675.5 518.0,675.9 520.0,675.2 522.0,672.7 524.0,673.0 526.0,673.8 528.0,674.3 530.0,676.9 532.0,676.0 534.0,674.6 536.0,673.2 538.0,674.1 540.0,675.8 542.0,673.5 544.0,668.3 546.0,666.6 548.0,667.4 550.0,671.5 552.0,674.7 554.0,672.8 556.0,675.1 558.0,672.3 560.0,674.8 562.0,670.8 564.0,669.3 566.0,661.7 568.0,660.2 570.0,659.0 572.0,662.8 574.0,661.0 576.0,655.8 578.0,652.5 580.0,644.8 582.0,638.9 584.0,635.5 586.0,637.8 588.0,639.7 590.0,644.8 592.0,652.6 594.0,656.7 596.0,659.7 598.0,657.0 600.0,657.5 602.0,653.7 604.0,654.1 606.0,654.0 608.0,658.0 610.0,662.5 612.0,663.3 614.0,668.9 616.0,673.0 618.0,673.0 620.0,672.2 622.0,675.7 624.0,674.6 626.0,674.0 628.0,670.1 630.0,668.2 632.0,666.7 634.0,668.9 636.0,671.5 638.0,672.5 640.0,671.7 642.0,673.1 644.0,672.0 646.0,671.2 648.0,673.5 650.0,667.7 652.0,658.8 654.0,649.8 656.0,644.1 658.0,640.8 660.0,640.0 662.0,643.9 664.0,650.2 666.0,656.1 668.0,655.8 670.0,652.2 672.0,652.4 674.0,662.9 676.0,665.7 678.0,672.7 680.0,674.8 682.0,676.6 684.0,676.3 686.0,674.3 688.0,676.7 690.0,672.8 692.0,675.9 694.0,677.4 696.0,676.8 698.0,676.0 700.0,674.8 702.0,675.9 704.0,675.9" fill="none" stroke="#c02a6a" stroke-width="2.9" stroke-linejoin="round" stroke-linecap="round"/><polyline points="500.0,678.4 502.0,678.5 504.0,676.8 506.0,678.5 508.0,678.5 510.0,678.5 512.0,677.4 514.0,674.6 516.0,674.5 518.0,666.0 520.0,658.8 522.0,642.8 524.0,631.3 526.0,621.5 528.0,622.2 530.0,622.6 532.0,628.2 534.0,628.8 536.0,624.9 538.0,625.3 540.0,628.5 542.0,636.4 544.0,648.4 546.0,655.2 548.0,667.7 550.0,671.0 552.0,673.5 554.0,675.0 556.0,675.4 558.0,677.7 560.0,675.7 562.0,678.5 564.0,677.1 566.0,676.2 568.0,677.8 570.0,678.5 572.0,678.5 574.0,675.9 576.0,678.0 578.0,676.2 580.0,678.5 582.0,676.2 584.0,677.6 586.0,678.4 588.0,678.5 590.0,676.2 592.0,678.0 594.0,673.6 596.0,673.7 598.0,667.1 600.0,662.8 602.0,659.4 604.0,653.6 606.0,648.1 608.0,645.4 610.0,642.4 612.0,635.9 614.0,634.9 616.0,635.7 618.0,642.6 620.0,648.0 622.0,654.9 624.0,666.1 626.0,669.9 628.0,673.6 630.0,678.5 632.0,676.8 634.0,676.1 636.0,676.1 638.0,678.0 640.0,678.3 642.0,677.3 644.0,676.7 646.0,677.4 648.0,678.5 650.0,677.0 652.0,676.6 654.0,676.5 656.0,675.5 658.0,677.3 660.0,678.4 662.0,678.5 664.0,676.4 666.0,677.7 668.0,678.5 670.0,677.6 672.0,675.9 674.0,674.5 676.0,676.2 678.0,672.4 680.0,665.5 682.0,663.2 684.0,655.7 686.0,654.1 688.0,653.8 690.0,655.1 692.0,659.9 694.0,662.7 696.0,668.8 698.0,673.7 700.0,678.0 702.0,677.3 704.0,678.5" fill="none" stroke="#20a0a0" stroke-width="2.9" stroke-linejoin="round" stroke-linecap="round"/><polyline points="500.0,672.8 502.0,670.2 504.0,670.9 506.0,669.4 508.0,667.2 510.0,663.2 512.0,665.5 514.0,667.3 516.0,671.8 518.0,671.3 520.0,671.5 522.0,672.8 524.0,670.3 526.0,673.4 528.0,673.2 530.0,670.3 532.0,668.5 534.0,662.4 536.0,655.0 538.0,642.6 540.0,637.7 542.0,644.9 544.0,650.6 546.0,652.0 548.0,655.7 550.0,658.1 552.0,656.8 554.0,660.7 556.0,663.2 558.0,666.3 560.0,668.7 562.0,672.1 564.0,673.6 566.0,674.3 568.0,670.5 570.0,673.8 572.0,668.6 574.0,665.2 576.0,659.9 578.0,655.0 580.0,656.2 582.0,658.5 584.0,665.6 586.0,671.9 588.0,671.4 590.0,670.3 592.0,673.7 594.0,672.2 596.0,669.8 598.0,669.3 600.0,667.0 602.0,666.2 604.0,666.1 606.0,661.3 608.0,662.9 610.0,663.6 612.0,667.5 614.0,670.1 616.0,665.3 618.0,658.8 620.0,652.0 622.0,651.6 624.0,658.0 626.0,666.6 628.0,667.8 630.0,667.8 632.0,661.7 634.0,658.5 636.0,652.7 638.0,654.1 640.0,655.2 642.0,658.0 644.0,666.1 646.0,668.3 648.0,671.1 650.0,670.0 652.0,673.0 654.0,670.7 656.0,668.9 658.0,669.6 660.0,665.6 662.0,662.4 664.0,653.6 666.0,646.5 668.0,643.5 670.0,647.5 672.0,657.8 674.0,660.4 676.0,665.3 678.0,668.7 680.0,668.2 682.0,668.8 684.0,668.6 686.0,669.0 688.0,664.4 690.0,658.1 692.0,652.2 694.0,653.8 696.0,661.9 698.0,666.1 700.0,668.9 702.0,671.3 704.0,674.7" fill="none" stroke="#c8c23a" stroke-width="2.9" stroke-linejoin="round" stroke-linecap="round"/><polyline points="690.0,673.0 692.0,673.9 694.0,667.4 696.0,662.8 698.0,655.9 700.0,651.1 702.0,648.6 704.0,653.2 706.0,656.0 708.0,661.8 710.0,668.7 712.0,670.5 714.0,672.1 716.0,670.0 718.0,668.2 720.0,664.0 722.0,661.4 724.0,658.4 726.0,658.1 728.0,659.6 730.0,660.5 732.0,660.6 734.0,658.1 736.0,655.9 738.0,652.3 740.0,646.6 742.0,651.2 744.0,651.8 746.0,655.7 748.0,658.8 750.0,663.6 752.0,666.7 754.0,669.2 756.0,674.2 758.0,672.9 760.0,675.2 762.0,676.3 764.0,674.5" fill="none" stroke="#1e6a8a" stroke-width="2.9" stroke-linejoin="round" stroke-linecap="round"/><polyline points="690.0,670.0 692.0,670.0 694.0,672.4 696.0,672.4 698.0,669.5 700.0,672.2 702.0,672.7 704.0,672.0 706.0,667.8 708.0,672.1 710.0,667.3 712.0,667.4 714.0,659.6 716.0,654.3 718.0,644.4 720.0,637.7 722.0,634.9 724.0,638.8 726.0,647.4 728.0,657.4 730.0,663.6 732.0,667.6 734.0,670.8 736.0,670.7 738.0,671.8 740.0,669.8 742.0,672.6 744.0,671.9 746.0,667.6 748.0,668.8 750.0,664.3 752.0,659.7 754.0,654.5 756.0,649.9 758.0,651.1 760.0,656.5 762.0,659.1 764.0,665.3" fill="none" stroke="#d27a2e" stroke-width="2.9" stroke-linejoin="round" stroke-linecap="round"/><polyline points="690.0,670.4 692.0,670.3 694.0,671.8 696.0,672.0 698.0,669.6 700.0,670.6 702.0,671.0 704.0,671.5 706.0,672.7 708.0,671.6 710.0,672.1 712.0,670.7 714.0,667.6 716.0,665.6 718.0,660.8 720.0,659.3 722.0,654.3 724.0,653.6 726.0,653.2 728.0,652.2 730.0,652.5 732.0,643.8 734.0,639.5 736.0,638.7 738.0,637.6 740.0,642.0 742.0,641.7 744.0,642.9 746.0,647.9 748.0,648.4 750.0,657.5 752.0,658.7 754.0,665.8 756.0,669.6 758.0,667.1 760.0,669.5 762.0,670.3 764.0,669.1" fill="none" stroke="#252d80" stroke-width="2.9" stroke-linejoin="round" stroke-linecap="round"/><polyline points="690.0,676.4 692.0,670.6 694.0,669.4 696.0,664.2 698.0,660.0 700.0,659.3 702.0,659.2 704.0,666.3 706.0,665.0 708.0,666.1 710.0,664.6 712.0,661.6 714.0,663.8 716.0,666.7 718.0,668.6 720.0,673.0 722.0,675.7 724.0,677.6 726.0,677.3 728.0,674.5 730.0,676.1 732.0,671.9 734.0,665.6 736.0,654.8 738.0,648.4 740.0,642.1 742.0,639.4 744.0,648.1 746.0,659.5 748.0,668.7 750.0,673.2 752.0,675.9 754.0,674.3 756.0,678.1 758.0,677.6 760.0,676.5 762.0,678.2 764.0,678.0" fill="none" stroke="#cf2c8c" stroke-width="2.9" stroke-linejoin="round" stroke-linecap="round"/><polyline points="690.0,673.4 692.0,669.7 694.0,665.5 696.0,660.6 698.0,656.4 700.0,645.3 702.0,642.9 704.0,642.5 706.0,640.8 708.0,646.5 710.0,650.6 712.0,659.4 714.0,662.3 716.0,669.4 718.0,672.4 720.0,670.6 722.0,671.0 724.0,670.1 726.0,671.5 728.0,671.4 730.0,672.7 732.0,675.0 734.0,671.6 736.0,673.7 738.0,671.8 740.0,671.7 742.0,671.0 744.0,673.8 746.0,673.9 748.0,669.4 750.0,670.9 752.0,669.7 754.0,668.4 756.0,666.7 758.0,666.4 760.0,670.8 762.0,671.0 764.0,671.9" fill="none" stroke="#7a2e9c" stroke-width="2.9" stroke-linejoin="round" stroke-linecap="round"/><polyline points="122.6,574.3 124.2,572.4 124.3,569.4 125.1,568.0 125.5,564.4 126.5,562.8 126.9,561.0 128.3,559.7 128.9,557.2 130.4,555.2 130.8,554.7 131.7,552.8 132.8,552.7 133.2,554.8 133.8,557.4 134.8,558.9 136.7,561.8 137.1,562.1 137.6,565.8 138.7,566.4 138.7,570.2 139.5,571.4 139.3,572.5 140.1,576.1 140.2,577.4 140.8,578.4 141.0,582.0 140.7,584.2 141.4,586.1 141.3,587.7 141.9,589.1 142.1,592.2 142.3,593.5 143.0,594.3 143.9,597.8 143.9,597.9 144.6,602.0 144.2,604.0 145.0,604.5 144.8,606.3 145.6,610.1 145.3,610.9 146.3,613.7 146.9,616.1 146.2,617.6 146.3,618.4 146.9,621.8 146.9,622.4 147.5,626.6 146.7,626.9 148.0,629.2 148.2,631.1 147.5,633.5 148.1,636.3 147.6,638.2 148.6,639.8 148.2,641.7 148.8,644.4 148.8,646.2 148.5,647.9 149.6,650.0 149.2,653.5 149.7,654.9 150.2,656.0 149.5,659.4 149.5,660.9 150.4,662.3 150.8,666.2 150.5,668.2 150.2,668.4 150.3,671.7 150.7,674.6 150.6,674.9 151.3,678.0" fill="none" stroke="#7a2e9c" stroke-width="3.60" stroke-linejoin="round" stroke-linecap="round" opacity="1"/><polyline points="128.2,541.8 128.5,545.5 130.4,546.2 130.8,549.3 132.5,550.1 133.9,551.3 134.6,555.3 135.4,556.6 137.2,557.1 138.0,560.0" fill="none" stroke="#d27a2e" stroke-width="3.60" stroke-linejoin="round" stroke-linecap="round" opacity="1"/><polyline points="142.9,567.1 143.3,569.1 143.7,571.3 143.6,573.7 144.5,575.9 144.2,576.8 145.0,578.7 145.5,581.4 146.2,583.0 146.5,585.0 146.2,587.8 147.0,589.8 147.5,591.2 147.7,593.5 148.2,595.5 148.2,595.8 148.4,598.0 149.4,599.9 149.6,603.8 149.2,606.1 150.1,606.9 149.7,609.4 150.6,612.0 150.9,613.1 151.3,615.1 150.4,618.2 151.5,618.3 151.7,621.8 151.1,622.6 151.4,625.8 151.3,627.7 152.0,630.8 151.7,630.6 152.2,634.4 152.3,634.9 152.7,637.3 152.6,638.9 152.9,642.9 153.3,644.6 153.2,647.1 153.5,648.6 154.6,649.3 153.8,651.8 154.0,653.1 154.2,655.6 154.8,658.6 155.4,659.9 155.7,662.9 156.1,664.7 155.8,666.7 155.6,668.5 155.9,668.8 157.0,671.0 156.3,672.9 157.0,676.0" fill="none" stroke="#4a8a3a" stroke-width="3.60" stroke-linejoin="round" stroke-linecap="round" opacity="1"/><polyline points="129.6,675.0 129.9,674.3 130.4,671.0 130.5,669.3 130.8,666.8 130.7,666.8 130.7,663.4 130.2,661.4 131.1,659.7 130.8,658.0 131.4,656.5 131.9,654.2 130.8,651.5 131.6,649.4 132.0,648.5 131.3,646.0 132.0,644.1 131.8,642.1 132.1,639.9 132.1,636.1 132.8,636.3 132.2,633.9 132.4,630.4 132.3,630.3 132.5,626.1 132.6,625.2 133.0,624.2 133.7,621.8 133.5,618.2 133.7,617.4 133.3,615.3 133.1,612.6 134.1,610.3 133.4,608.7 134.0,606.2 134.1,605.2 134.3,604.0 134.1,602.2 134.1,598.1 134.1,595.9 135.2,595.1 135.2,597.0 135.2,599.2 135.2,601.8 136.3,603.3 136.6,605.9 135.9,608.6 136.8,609.9 137.3,611.1 137.7,613.1 136.9,614.9 137.2,618.9 137.9,620.5 138.4,622.1 138.7,624.6 138.8,625.5 139.2,628.1 138.8,630.7 139.2,631.1 139.7,632.9 140.1,636.1 139.4,637.0 139.9,639.9 140.7,642.3 140.5,644.7 140.4,645.9 140.6,647.0 141.5,650.0 141.0,652.3 141.3,655.0 141.8,657.1 141.3,657.4 142.0,660.0" fill="none" stroke="#3fae6c" stroke-width="3.60" stroke-linejoin="round" stroke-linecap="round" opacity="1"/><polyline points="156.6,583.7 157.3,586.1 157.4,586.9 159.0,590.2 160.2,592.3 160.3,594.0 161.8,595.4 162.6,598.4 163.1,599.1 163.6,601.8 164.8,604.1 166.7,605.2 168.0,605.5 168.8,609.3 169.3,611.0 170.3,612.4 170.1,613.4 171.0,614.9 171.6,617.6 172.0,619.1 171.9,620.9 173.1,623.7 173.4,626.1 173.8,628.7 174.4,630.6 174.7,631.8 175.0,634.6 175.7,636.7 175.3,637.3 176.3,639.5 176.6,641.8 177.0,643.2 177.4,645.8 177.7,648.1 177.2,650.6 178.2,652.8 178.5,655.1 178.9,656.2 179.4,657.4 179.6,659.2 179.3,663.0 180.2,663.8 179.9,667.1 180.2,667.8 181.3,669.9 181.9,671.8 181.1,674.8 182.0,676.0" fill="none" stroke="#7a2e9c" stroke-width="3.60" stroke-linejoin="round" stroke-linecap="round" opacity="1"/><polyline points="159.6,590.4 160.0,592.8 161.0,593.5 162.7,594.8 163.6,598.5 164.0,599.3 165.0,602.7 165.2,602.5 166.4,604.5 167.4,607.5 168.2,610.2 169.2,612.3 169.1,613.6 170.2,615.9 170.8,616.4 171.4,618.6 171.5,621.9 171.9,624.6 172.5,625.8 172.0,627.5 173.0,629.8 173.3,630.9 173.6,633.2 174.7,637.0 174.6,638.5 175.0,640.0" fill="none" stroke="#4a8a3a" stroke-width="3.60" stroke-linejoin="round" stroke-linecap="round" opacity="1"/><polyline points="149.7,677.1 151.0,675.2 150.7,672.8 152.0,671.2 152.2,668.2 152.9,666.3 153.7,664.8 154.6,661.8 154.8,660.5 155.9,658.0 156.4,655.2 157.1,654.2 157.0,651.3 157.8,650.9 158.6,647.5 158.9,645.2 159.1,642.8 159.3,641.0 160.5,640.2 160.2,636.4 160.3,636.3 160.7,634.1 161.1,631.8 162.3,628.9 162.1,627.2 162.5,624.0 162.8,622.0 164.6,624.0 165.7,626.5 167.0,628.7 168.1,629.6 168.3,631.4 168.2,635.0 168.9,635.3 169.6,638.2 170.0,638.9 170.7,641.1 171.3,645.0 171.1,645.6 172.0,648.6 172.6,649.4 173.0,651.6 172.3,654.1 173.3,657.0 173.2,659.2 174.1,660.5 174.3,662.2 175.0,663.8 176.0,664.8 176.5,668.3 175.9,670.4 176.9,671.2 177.5,674.0 178.0,676.0" fill="none" stroke="#cf2c8c" stroke-width="3.60" stroke-linejoin="round" stroke-linecap="round" opacity="1"/><polyline points="177.7,660.4 178.8,656.8 178.7,654.8 179.4,652.7 179.5,652.3 179.3,650.5 179.7,647.5 179.7,645.8 180.5,642.6 181.3,642.3 181.0,640.4 181.4,638.0 181.7,635.3 182.2,632.7 182.9,631.0 182.5,629.4 182.8,627.4 183.8,625.4 183.9,622.9 183.8,621.0 184.5,618.0 184.2,618.0 185.4,615.8 185.7,614.0 186.0,610.2 185.4,608.9 186.2,606.1 186.6,607.9 186.6,610.4 187.7,612.9 188.1,614.8 188.9,617.0 188.4,620.2 189.3,622.5 189.5,623.0 190.9,625.1 190.6,628.3 191.5,630.7 192.2,631.8 193.7,632.5 195.9,634.1 196.8,637.5 197.8,637.4 199.1,640.4 201.1,642.0 201.9,643.4 202.9,645.0 204.5,646.5 206.1,648.7 207.0,649.9 207.8,652.3 209.0,655.4 210.3,656.5 211.4,658.3 211.6,660.5 212.7,661.4 213.8,663.5 215.4,666.1 215.7,668.5 217.1,669.5 217.7,671.9 219.0,674.0 220.0,676.0" fill="none" stroke="#168b80" stroke-width="3.60" stroke-linejoin="round" stroke-linecap="round" opacity="1"/><polyline points="226.6,626.4 226.8,625.8 227.0,622.1 227.6,621.0 227.6,618.9 227.9,616.7 229.0,614.9 229.6,613.6 230.1,610.1 229.3,609.2 229.9,607.0 230.8,605.2 231.0,602.6 231.4,601.1 232.2,598.0 232.2,596.1 232.7,594.1 232.6,593.6 233.7,590.4 233.3,589.7 233.9,585.9 234.5,584.5 237.1,583.3 238.7,583.6 240.9,581.8 242.2,580.8 245.0,579.9 246.5,578.2 246.8,580.4 247.6,582.5 247.5,584.0 247.8,585.3 248.8,589.3 249.6,591.4 250.1,592.4 249.6,594.6 251.0,597.1 251.0,599.8 251.4,600.9 252.0,603.5 252.2,605.7 252.4,606.1 253.7,608.7 253.2,610.7 254.6,614.0 254.5,615.0 255.6,616.7 255.0,619.2 255.3,620.7 256.7,623.7 256.0,624.5 257.1,627.9 256.7,629.5 257.0,631.0 258.2,633.3 257.6,635.6 258.1,637.8 258.8,638.7 259.2,641.9 259.3,643.6 259.1,646.3 259.3,647.2 259.4,650.4 259.7,652.1 259.7,652.4 259.5,655.8 259.9,657.7 260.9,660.3 261.1,660.7 261.1,664.7 260.7,665.5 261.3,668.9 262.0,669.2 261.5,671.9 262.1,673.1 262.0,676.0" fill="none" stroke="#252d80" stroke-width="3.60" stroke-linejoin="round" stroke-linecap="round" opacity="1"/><polyline points="255.9,631.7 256.6,628.8 257.6,626.8 259.0,625.7 260.1,623.6 259.9,621.3 261.4,620.1 261.8,619.5 262.6,616.7 264.3,615.4 264.5,613.5 265.3,611.7 265.8,608.3 267.0,607.3 267.8,604.7 268.3,606.8 268.7,609.3 269.3,611.3 269.2,612.1 269.3,615.2 270.4,616.3 271.0,620.4 271.4,622.2 271.5,623.6 272.3,625.3 272.3,626.7 273.0,630.1 272.4,631.7 273.6,634.1 274.0,635.6 273.6,637.0 274.0,639.7 273.6,640.9 274.0,642.8 274.2,646.9 274.4,648.0 274.9,649.4 275.8,651.9 274.9,654.3 276.0,655.3 275.4,657.2 276.3,660.7 276.2,661.4 276.2,664.3 276.7,667.1 277.0,668.1 277.6,671.0 277.7,672.3 277.7,673.3 278.0,676.0" fill="none" stroke="#cf2c8c" stroke-width="3.60" stroke-linejoin="round" stroke-linecap="round" opacity="1"/><polyline points="230.3,675.6 230.7,674.1 230.9,672.8 230.5,670.0 231.9,667.1 231.2,665.4 231.5,663.9 232.5,661.4 232.3,661.1 233.1,658.3 233.6,655.9 234.0,654.5 234.2,651.0 234.7,649.6 234.3,647.1 235.9,646.4 238.1,646.7 239.8,645.0 241.2,642.8 243.6,641.7 244.9,639.4 246.7,638.2 248.6,638.1 249.1,638.4 251.1,641.7 251.6,642.1 253.2,643.7 254.5,645.1 256.1,647.9 257.1,648.1 257.9,651.8 257.6,654.0 258.5,655.9 258.6,656.6 259.3,660.3 260.1,661.4 259.9,662.6 261.5,665.9 261.5,667.1 262.0,670.0" fill="none" stroke="#3fae6c" stroke-width="3.60" stroke-linejoin="round" stroke-linecap="round" opacity="1"/><polyline points="277.7,577.5 278.9,579.1 278.8,580.2 278.9,583.6 279.6,584.1 279.8,587.7 280.2,588.1 280.6,589.8 280.5,592.8 280.7,595.8 282.0,597.2 282.6,599.8 281.9,601.1 282.7,602.9 283.1,604.1 283.3,607.2 283.4,608.3 284.7,611.1 284.1,612.5 285.5,614.4 285.9,617.6 285.7,618.9 286.5,621.6 287.1,623.1 286.8,625.4 287.0,628.2 288.0,629.9 287.6,632.1 288.6,634.8 288.4,636.4 289.0,638.4 288.3,640.0 289.5,640.6 288.5,643.8 289.2,646.8 289.8,648.4 289.3,650.2 289.6,651.7 290.2,654.8 289.6,655.0 289.9,656.9 290.1,659.4 290.4,661.5 290.9,663.1 291.4,664.7 291.6,668.2 291.7,670.2 291.4,671.2 291.7,673.6 292.0,676.0" fill="none" stroke="#3aaa8a" stroke-width="3.60" stroke-linejoin="round" stroke-linecap="round" opacity="1"/><polyline points="295.4,676.6 296.0,673.6 296.8,671.3 297.9,671.7 298.6,669.2 300.2,667.4 301.5,664.4 302.6,664.1 303.6,662.4 304.7,660.7 306.3,658.4 306.8,657.7 308.4,655.0 309.0,653.1 309.6,652.1 311.6,651.1 312.0,651.2 312.8,654.7 313.9,655.3 314.6,657.4 315.2,659.5 316.2,661.6 316.7,664.0 317.0,665.8 318.1,668.7 319.0,669.2 320.7,671.1 322.4,673.5 323.5,674.9 325.0,676.0" fill="none" stroke="#252d80" stroke-width="3.60" stroke-linejoin="round" stroke-linecap="round" opacity="1"/><polyline points="299.5,676.4 299.9,675.2 300.6,672.5 300.9,671.2 301.1,669.3 301.4,666.8 302.5,665.4 302.2,661.4 303.0,661.1 303.5,659.3 303.7,655.4 303.7,654.4 304.7,651.6 305.5,650.4 305.6,648.7 305.9,647.3 306.8,643.7 306.4,642.2 306.5,641.3 307.5,637.5 307.9,636.9 308.0,633.7 308.9,633.7 309.1,629.7 309.9,629.4 309.8,627.6 310.2,629.8 311.1,630.0 312.1,632.0 313.6,633.8 313.8,635.8 314.8,638.8 315.5,640.0 316.2,642.3 317.6,643.8 317.5,647.2 317.9,648.6 319.0,649.2 320.1,652.7 320.6,653.6 320.9,654.9 320.9,658.0 322.0,660.0" fill="none" stroke="#3fae6c" stroke-width="3.60" stroke-linejoin="round" stroke-linecap="round" opacity="1"/><polyline points="340.5,677.1 339.7,673.3 340.3,670.7 341.2,668.9 340.9,666.9 341.1,664.7 341.9,662.4 342.0,660.2 342.3,658.5 342.5,656.3 341.8,655.8 342.5,653.1 342.9,651.0 342.9,648.2 342.8,646.5 343.9,644.7 344.6,642.0 345.3,641.5 346.9,639.8 347.2,637.6 348.1,634.5 349.3,634.3 349.1,633.1 349.9,630.5 350.7,629.1 351.5,626.4 353.0,623.7 354.1,623.1 354.8,620.4 354.6,619.6 355.6,617.1 356.7,614.3 357.1,613.9 358.0,612.8 359.9,611.8 361.8,614.9 363.8,614.5 365.3,616.9 366.6,617.3 366.9,619.8 368.3,621.1 368.7,623.3 368.2,625.2 368.8,628.2 369.4,629.2 370.7,632.9 370.4,633.8 371.9,636.3 372.4,638.6 372.8,640.6 372.8,641.0 373.1,644.1 373.7,645.9 374.3,648.0 374.7,648.9 376.0,653.1 375.9,654.3 375.9,655.5 376.8,658.3 376.6,659.3 377.7,661.7 377.5,662.8 378.6,665.1 378.9,669.1 378.5,671.0 378.9,671.5 379.2,674.7 380.0,676.0" fill="none" stroke="#c8c23a" stroke-width="3.60" stroke-linejoin="round" stroke-linecap="round" opacity="1"/><polyline points="340.2,677.2 340.5,674.0 342.1,673.2 342.4,671.0 342.8,668.8 344.4,666.9 345.5,665.0 346.0,663.1 347.1,660.5 348.0,659.1 348.8,656.3 348.2,655.3 349.9,653.3 350.2,649.9 350.3,648.7 350.9,646.7 350.9,644.9 352.2,642.5 352.2,639.9 353.1,637.7 353.1,636.3 354.6,635.9 355.0,632.2 354.8,631.9 355.7,627.9 356.1,627.4 356.3,625.4 358.9,627.3 359.7,627.6 361.9,629.3 362.8,628.9 363.2,631.2 363.8,633.3 364.6,636.6 364.6,639.0 365.3,640.2 365.7,641.1 366.2,643.9 366.4,646.0 367.8,646.4 367.5,649.3 367.9,650.4 368.5,652.3 369.6,656.1 369.3,658.1 370.3,658.2 370.8,662.3 371.4,663.7 371.6,665.9 371.4,666.8 372.3,668.7 373.4,669.9 373.3,673.0" fill="none" stroke="#252d80" stroke-width="3.60" stroke-linejoin="round" stroke-linecap="round" opacity="1"/><polyline points="359.7,648.9 361.0,648.5 360.5,647.0 361.3,643.0 362.0,641.7 362.1,639.5 363.2,638.7 363.6,635.3 363.3,634.2 363.8,633.0 364.4,630.7 365.3,628.8 365.7,626.7 366.1,625.0 366.7,622.1 366.4,620.5 368.1,619.0 369.0,617.2 369.7,615.1 369.8,612.6 370.7,610.6 372.2,607.4 373.1,605.6 374.5,603.4 374.6,601.6 376.0,600.3 377.2,597.3 378.1,600.3 378.2,601.9 379.6,603.4 379.5,606.2 380.5,608.1 381.2,609.8 382.9,613.9 382.8,614.9 384.1,617.4 383.7,620.2 385.1,621.4 385.0,623.2 384.9,626.4 385.7,627.8 386.0,628.6 386.1,630.5 386.8,634.8 387.7,636.7 387.6,638.0 388.4,639.8 389.3,642.2 389.9,645.1 390.1,645.7 390.5,648.2 390.9,649.9 392.2,652.3 393.0,654.1 393.2,656.8 393.9,658.9 394.3,660.5 394.2,662.9 394.7,664.9 395.5,666.5 396.7,670.1 396.9,671.7 398.0,675.0 398.0,676.0" fill="none" stroke="#4a8a3a" stroke-width="3.60" stroke-linejoin="round" stroke-linecap="round" opacity="1"/><polyline points="396.7,670.8 396.7,667.1 397.8,666.2 398.0,663.2 398.6,663.2 399.5,660.5 399.9,658.1 400.1,656.9 399.9,652.8 400.9,651.0 400.7,649.9 402.1,648.9 401.9,646.2 402.6,644.0 402.9,642.5 403.6,639.9 404.4,637.4 405.0,636.0 405.5,633.3 407.1,631.7 407.4,629.4 408.2,627.7 409.6,627.1 410.8,625.3 411.9,621.6 412.0,621.6 412.8,618.9 413.8,615.9 414.4,613.8 415.4,617.7 416.6,620.1 417.1,620.8 417.7,622.9 418.9,625.2 419.2,625.8 419.9,627.7 420.7,631.7 421.6,632.5 422.4,633.9 422.8,635.5 424.4,637.5 424.4,640.7 424.8,643.6 425.2,643.4 425.9,646.3 426.2,649.3 426.8,650.5 428.4,652.3 428.8,654.9 428.5,655.6 429.8,658.6 430.0,660.3 430.4,662.5 432.0,664.9 431.7,666.5 432.7,668.7 433.7,670.2 434.8,672.2 435.7,673.7 436.0,676.0" fill="none" stroke="#3fae6c" stroke-width="3.60" stroke-linejoin="round" stroke-linecap="round" opacity="1"/><polyline points="392.9,672.2 393.4,670.9 394.5,669.9 394.1,667.7 395.6,664.6 395.3,662.6 395.3,661.5 396.8,659.0 396.7,657.4 397.3,654.3 397.9,653.9 398.2,651.9 398.4,649.3 398.5,645.8 399.7,645.3 399.3,643.3 399.7,641.6 401.2,637.9 401.6,637.5 401.4,635.1 401.7,632.5 402.7,631.2 403.4,629.6 402.9,625.7 403.2,623.9 404.0,621.8 404.2,620.0 405.6,617.8 405.8,617.1 406.4,614.7 406.9,612.9 407.3,611.3 407.0,607.5 407.2,605.8 407.9,603.3 408.2,601.8 408.7,599.2 409.0,597.3 409.9,596.9 410.3,594.7 410.7,593.1 411.1,589.9 411.3,587.1 412.3,586.5 412.8,583.6 413.0,582.9 413.6,581.1 414.0,582.1 414.5,584.2 415.8,584.5 416.1,588.2 417.2,588.6 418.5,591.7 419.1,593.9 419.5,595.6 420.3,596.1 420.8,599.4 422.3,601.6 422.8,602.5 423.5,605.9 424.2,606.0 425.1,608.0 425.1,611.9 425.5,612.5 426.7,613.9 427.2,615.7 428.3,618.9 429.7,620.9 429.7,623.4 430.5,623.7 431.7,625.8 432.9,629.2 432.7,629.8 434.0,633.2 434.7,634.0 435.4,635.6 435.5,639.2 436.1,639.2 436.2,642.3 437.0,643.2 437.5,647.5 438.0,649.6 438.0,651.5 438.8,652.5 439.9,655.1 440.2,657.4 440.3,659.8 441.4,660.5 442.4,663.4 443.8,664.1 444.7,667.9 445.4,669.3 446.3,670.0 446.7,673.0" fill="none" stroke="#252d80" stroke-width="3.84" stroke-linejoin="round" stroke-linecap="round" opacity="1"/><polyline points="405.2,650.7 405.1,647.1 405.6,645.5 405.2,643.4 405.6,642.4 406.5,640.3 406.1,637.9 406.4,635.0 406.9,634.0 407.0,632.3 406.4,629.8 406.7,627.6 407.0,625.0 407.7,622.6 408.1,621.8 408.1,620.0 407.8,616.9 407.7,614.7 407.9,613.8 408.7,610.0 409.0,609.6 409.1,606.8 408.9,603.8 409.7,603.5 409.4,599.8 409.7,597.6 409.7,596.7 411.1,599.4 411.2,599.7 411.7,602.1 413.1,603.3 413.2,606.1 413.9,608.5 415.6,609.7 416.2,611.0 416.7,612.6 417.6,616.0 418.0,617.5 418.8,618.1 419.4,620.5 420.2,622.6 421.0,624.4 421.7,627.7 422.0,629.0 422.6,631.8 422.3,633.5 423.1,633.6 424.3,636.5 424.5,637.4 424.8,641.2 426.1,642.2 426.2,644.5 427.3,645.9 426.9,648.3 428.0,650.0" fill="none" stroke="#cf2c8c" stroke-width="3.60" stroke-linejoin="round" stroke-linecap="round" opacity="1"/><polyline points="399.5,669.1 400.6,667.1 401.4,666.7 401.6,664.6 402.6,661.5 402.0,659.8 403.1,657.3 403.7,655.8 404.1,652.3 404.0,650.3 405.4,649.8 406.0,646.0 405.8,644.6 408.0,643.2 410.0,641.9 411.9,643.1 413.9,641.1 416.4,639.0 417.3,640.9 417.7,644.7 419.8,646.8 421.0,648.2 421.0,648.7 422.6,650.1 423.7,653.7 425.4,655.2 426.1,656.9 426.5,659.7 427.3,661.3 428.2,662.3 429.0,665.9 429.3,666.4 429.7,669.3 430.4,672.9 431.4,673.4 432.0,676.0" fill="none" stroke="#7a2e9c" stroke-width="3.60" stroke-linejoin="round" stroke-linecap="round" opacity="1"/><polyline points="469.9,676.8 470.4,673.0 470.0,673.1 470.4,669.7 471.0,667.7 471.0,666.9 471.3,663.1 472.0,661.6 472.1,659.4 471.9,657.6 472.2,655.3 472.3,654.1 472.7,652.7 472.8,650.4 473.3,648.5 473.4,645.3 473.5,645.1 473.4,642.1 473.8,639.4 474.5,638.2 474.0,635.0 474.8,632.8 475.0,631.5 474.9,630.7 475.3,628.5 475.6,625.6 475.1,622.9 476.1,623.0 475.7,620.2 476.6,618.2 476.2,616.7 476.6,613.8 476.8,611.9 477.5,610.0 477.8,607.2 478.2,606.4 477.5,603.6 477.9,601.0 478.8,601.0 478.6,601.5 479.9,603.6 480.7,606.1 481.4,609.1 481.3,610.2 482.3,613.3 482.7,613.7 483.6,617.0 484.1,619.7 485.0,620.3 486.1,622.9 486.4,623.5 487.5,626.0 488.8,629.3 488.8,630.1 489.8,631.7 490.7,633.7 491.9,635.8 492.0,638.0 493.8,640.0 494.5,642.3 494.2,643.0 494.8,645.2 495.9,648.5 496.3,649.1 497.6,651.6 498.0,654.3 498.8,655.0 498.8,657.4 500.0,660.0" fill="none" stroke="#252d80" stroke-width="3.84" stroke-linejoin="round" stroke-linecap="round" opacity="1"/><polyline points="449.9,659.0 450.6,657.1 451.1,656.3 450.8,653.1 451.8,652.1 452.2,649.4 452.7,647.3 452.6,646.8 453.1,643.0 452.8,641.4 453.1,639.3 454.4,637.3 453.9,635.9 455.2,633.2 455.3,630.7 455.2,629.5 456.1,626.3 456.9,624.6 456.5,623.1 457.9,621.0 460.0,619.8 460.7,618.9 462.8,616.4 463.7,614.2 465.5,613.9 466.2,612.7 468.3,611.8 469.9,614.5 471.6,614.9 473.5,616.8 474.5,617.8 476.5,619.4 477.0,622.6 478.6,624.0 479.8,626.7 480.8,629.5 481.4,629.4 482.9,632.6 483.5,634.5 484.5,636.3 485.6,638.0 486.8,639.7 487.5,642.0 488.2,642.7 488.7,644.2 490.2,647.3 491.4,645.5 493.2,643.9 494.2,642.6 495.6,638.9 496.5,638.2 498.0,635.8 498.9,635.9 500.3,633.5 501.6,631.4 503.5,633.9 503.6,634.5 505.8,637.3 506.9,639.3 507.9,641.0 509.3,641.9 509.5,643.1 511.2,644.3 511.7,647.5 513.6,649.5 513.4,651.9 515.1,653.8 515.4,655.4 516.1,656.4 516.3,659.1 516.9,660.1 517.8,662.0 517.9,665.5 519.4,665.8 519.7,667.4 519.7,671.4 520.7,672.5 521.0,673.5 522.0,676.0" fill="none" stroke="#168b80" stroke-width="3.60" stroke-linejoin="round" stroke-linecap="round" opacity="1"/><polyline points="477.4,675.0 478.4,674.6 479.0,673.3 479.9,670.4 481.2,669.2 481.6,665.6 482.3,665.5 483.5,663.7 483.8,661.7 484.0,657.6 484.5,655.8 486.3,655.7 487.2,652.5 488.6,651.5 491.0,649.7 491.6,650.1 493.4,648.4 494.9,645.5 496.3,644.3 497.7,644.2 499.1,642.2 500.0,639.1 500.7,641.8 501.7,644.7 503.2,646.1 504.2,646.4 505.6,648.8 506.9,650.0 507.7,651.9 508.9,655.1 509.9,655.7 510.3,658.8 511.7,660.0 512.4,663.2 512.6,664.0 514.4,666.0 514.5,668.1 515.6,670.4 516.7,671.5 517.0,674.1 518.0,676.0" fill="none" stroke="#cf2c8c" stroke-width="3.60" stroke-linejoin="round" stroke-linecap="round" opacity="1"/><polyline points="445.5,659.5 446.0,657.2 447.8,657.8 449.7,656.1 450.2,652.6 452.0,651.4 454.0,650.9 454.9,649.0 457.5,646.6 459.1,645.2 460.7,644.6 463.4,645.3 465.1,643.2 467.9,644.0 469.2,644.8 472.5,644.2 474.1,645.4 476.7,644.3 478.4,647.0 479.4,647.8 481.9,649.8 482.9,651.5 484.5,654.0 486.0,655.0" fill="none" stroke="#d27a2e" stroke-width="3.60" stroke-linejoin="round" stroke-linecap="round" opacity="1"/><polyline points="522.1,675.4 522.0,674.6 523.7,671.4 523.7,670.7 524.6,667.8 524.4,666.6 525.3,665.3 525.9,661.3 526.9,661.3 526.9,657.1 527.4,656.3 528.3,655.0 528.4,652.6 529.5,650.0 529.6,648.5 531.0,645.6 531.7,643.8 532.0,643.1 532.7,641.2 533.3,638.7 534.3,636.0 535.3,635.4 535.5,638.0 536.2,640.0 538.0,639.9 538.9,643.5 539.4,643.9 540.1,646.0 540.4,649.4 541.1,650.0 540.8,652.7 542.0,654.7 541.8,657.7 542.5,659.6 542.4,660.4 543.3,664.4 543.6,664.9 544.1,668.2 544.8,669.9 545.6,671.1 545.4,673.0 546.0,676.0" fill="none" stroke="#252d80" stroke-width="3.60" stroke-linejoin="round" stroke-linecap="round" opacity="1"/><polyline points="530.0,676.3 531.0,673.4 531.4,672.2 531.2,670.1 532.6,667.5 532.9,665.5 533.2,664.8 533.1,660.9 534.4,660.4 535.1,658.2 535.4,656.0 536.1,653.8 536.3,652.0 537.1,650.0 536.9,648.4 537.6,645.3 538.6,643.9 539.4,641.3 540.9,639.4 541.5,636.7 542.7,636.8 543.9,634.1 545.4,632.6 546.3,631.5 547.3,628.2 548.8,626.6 549.2,629.6 549.6,629.6 550.4,632.4 550.9,634.5 551.9,636.7 552.6,637.9 552.9,639.7 553.4,642.5 553.7,644.9 554.1,645.0 554.7,647.4 554.4,649.9 554.6,651.4 554.8,654.1 555.6,655.6 556.0,657.6 556.0,658.9 555.9,661.5 556.0,663.2 556.6,665.7 557.0,667.9 557.7,669.0 557.2,670.9 558.3,673.3 558.0,676.0" fill="none" stroke="#d27a2e" stroke-width="3.60" stroke-linejoin="round" stroke-linecap="round" opacity="1"/><polyline points="539.5,676.0 540.7,673.8 540.7,670.9 542.0,670.1 542.4,668.1 543.0,665.9 543.6,664.0 543.8,660.0 543.9,657.9 544.5,655.5 545.5,653.5 546.2,653.4 547.2,650.5 547.9,647.8 548.2,645.2 549.2,643.7 549.2,641.8 550.1,638.9 550.7,642.9 551.0,643.1 552.3,645.9 552.4,647.9 553.6,651.5 554.2,653.0 553.9,654.6 555.2,656.6 555.9,659.1 556.4,662.0 556.5,662.4 557.0,664.5 557.2,667.3 557.9,670.4 558.5,671.7 559.6,674.9 560.0,676.0" fill="none" stroke="#cf2c8c" stroke-width="3.60" stroke-linejoin="round" stroke-linecap="round" opacity="1"/><polyline points="556.4,677.1 556.4,674.7 557.0,671.5 558.0,668.8 557.8,667.9 558.5,666.4 559.6,662.8 560.0,661.8 560.4,658.7 561.2,656.9 561.3,654.0 562.2,651.8 562.1,652.0 563.0,649.3 563.9,646.6 564.9,643.3 565.6,642.4 566.9,639.0 567.4,641.6 567.9,644.0 567.3,646.2 567.7,647.0 568.2,650.3 568.7,652.2 569.0,653.6 569.4,655.5 570.0,657.5 570.8,659.8 570.6,661.9 571.2,664.3 570.9,665.6 571.8,667.7 572.0,670.0" fill="none" stroke="#9a7ac0" stroke-width="3.60" stroke-linejoin="round" stroke-linecap="round" opacity="1"/><polyline points="568.2,676.0 568.3,673.8 568.4,671.8 569.5,668.8 569.6,668.1 570.0,665.7 569.8,662.3 570.8,660.7 571.3,658.2 571.8,656.1 571.6,655.5 572.7,652.9 572.9,650.3 573.5,648.6 573.1,646.7 573.7,645.3 574.2,641.8 574.2,639.5 575.2,639.5 574.7,636.9 576.1,634.4 576.4,633.2 576.1,630.4 577.3,628.5 576.7,625.3 577.5,624.3 577.7,622.4 577.7,621.3 579.0,617.2 578.6,616.5 580.0,613.8 579.5,612.2 579.7,611.0 580.5,608.7 580.7,606.0 580.8,604.7 581.8,602.7 582.2,603.6 583.0,605.2 584.6,606.5 585.0,609.1 585.9,611.6 586.3,614.0 587.0,614.5 587.6,617.9 588.9,620.4 589.6,620.8 590.1,622.7 591.1,624.7 591.6,626.5 592.1,629.9 592.2,630.6 592.9,633.8 594.3,635.8 595.3,636.9 596.7,639.0 597.2,640.2 598.0,643.1 598.4,645.6 599.3,646.8 599.7,649.4 600.1,651.9 600.4,653.1 600.7,656.1 600.9,658.3 601.3,658.5 601.4,660.9 602.1,663.0 602.1,665.2 602.7,667.7 602.4,670.7 603.3,673.1 603.7,673.5 604.0,676.0" fill="none" stroke="#3fae6c" stroke-width="3.60" stroke-linejoin="round" stroke-linecap="round" opacity="1"/><polyline points="598.5,675.8 598.6,674.9 598.4,673.1 599.4,669.6 598.7,669.0 599.9,666.5 600.2,662.9 600.4,661.9 600.8,658.8 600.4,658.1 601.2,656.5 601.5,653.1 601.6,652.6 601.5,650.2 602.6,648.0 602.2,646.6 602.2,643.4 603.5,641.1 602.9,640.7 603.7,638.8 603.7,636.0 604.7,633.7 605.1,631.4 605.8,631.2 605.6,628.2 607.1,626.3 607.2,623.3 607.9,623.0 607.5,620.1 608.6,617.9 609.4,616.5 609.5,614.9 609.5,612.7 609.9,611.0 610.7,608.7 612.0,606.2 612.2,604.9 612.4,603.3 613.2,601.5 613.3,598.2 614.3,600.0 615.4,601.1 616.2,603.8 617.3,607.0 618.5,609.2 619.6,610.0 620.5,612.7 621.2,614.9 621.9,615.7 622.4,618.4 623.9,620.1 623.6,622.3 624.7,623.1 625.8,625.8 626.5,629.2 627.3,631.1 628.8,629.2 630.4,625.9 632.1,625.6 633.1,623.7 634.4,621.1 635.6,619.6 636.8,617.9 638.1,615.4 638.5,618.1 639.6,619.8 640.4,621.1 640.9,623.9 642.4,625.7 642.3,626.2 644.0,629.4 643.7,632.2 645.1,632.9 645.1,634.9 645.7,636.7 646.0,639.2 647.2,641.1 647.0,643.1 648.5,645.7 648.7,646.6 649.1,649.7 649.0,650.3 650.2,653.1 651.1,654.6 651.4,657.7 651.9,659.3 652.6,661.9 653.2,663.9 653.1,666.3 654.2,667.0 653.8,669.4 654.8,672.3 655.3,675.0 656.0,676.0" fill="none" stroke="#cf2c8c" stroke-width="3.60" stroke-linejoin="round" stroke-linecap="round" opacity="1"/><polyline points="628.5,675.8 628.4,673.9 629.3,672.4 628.7,668.5 629.5,668.5 629.4,665.7 629.8,663.5 630.1,661.8 630.5,658.5 630.9,658.2 631.8,654.9 632.7,652.4 632.3,649.8 632.9,648.1 633.1,647.5 633.1,645.4 633.8,643.6 634.0,640.8 634.6,637.7 635.1,636.5 635.7,635.3 635.5,632.4 635.7,629.6 636.9,628.1 636.4,626.2 637.3,623.2 637.5,623.5 638.1,621.4 638.5,618.9 639.9,621.1 641.4,620.9 642.8,622.3 644.4,626.2 647.4,623.3 650.0,621.7 651.6,620.7 652.7,623.6 653.3,626.3 654.1,627.5 654.1,629.9 654.4,631.0 655.3,633.1 656.0,634.8 656.3,637.8 656.9,638.7 657.5,639.9 658.8,642.2 659.1,644.5 660.2,646.2 660.3,648.6 660.4,652.0 661.6,652.4 661.4,654.3 661.7,657.2 662.8,660.2 662.7,661.9 663.4,664.5 664.1,665.6 663.9,667.7 665.3,668.9 665.5,672.7 666.1,675.0 666.0,676.0" fill="none" stroke="#d27a2e" stroke-width="3.60" stroke-linejoin="round" stroke-linecap="round" opacity="1"/><polyline points="661.5,676.6 662.8,673.0 663.0,671.6 663.4,670.7 663.5,667.0 664.5,666.8 664.8,664.0 665.8,661.9 666.2,660.8 666.0,657.0 667.0,655.6 667.5,654.7 667.8,651.9 668.1,649.6 668.3,646.9 669.1,644.4 669.7,642.7 669.9,642.0 670.3,639.7 670.4,636.8 671.4,634.2 672.2,632.9 673.2,636.0 674.2,637.7 675.3,638.4 676.2,639.3 677.2,641.4 676.9,643.8 678.0,645.9 678.4,648.6 679.0,651.0 679.2,651.6 679.9,653.5 680.0,655.6 679.8,657.7 681.3,659.6 681.5,661.9 681.9,663.1 681.4,666.8 682.9,668.4 683.2,670.9 683.2,672.7 683.3,673.9 684.0,676.0" fill="none" stroke="#168b80" stroke-width="3.60" stroke-linejoin="round" stroke-linecap="round" opacity="1"/><polyline points="664.0,676.0 664.7,674.3 664.4,671.5 665.9,669.3 665.5,667.9 666.5,665.1 667.4,664.6 667.0,661.4 667.7,659.2 668.7,658.9 668.6,656.6 668.5,655.3 669.4,651.9 670.5,650.7 670.9,649.2 670.7,647.3 671.4,645.4 672.5,642.5 672.6,640.7 672.7,638.9 673.8,637.9 673.6,638.0 673.9,641.3 675.0,642.8 675.1,645.6 675.9,645.2 677.0,648.9 677.5,650.8 677.4,653.1 678.1,653.1 679.4,656.1 679.2,658.2 680.4,660.3 680.6,661.4 681.4,662.8 682.2,667.0 683.2,667.4 683.2,670.9 684.1,671.6 685.8,673.2 686.0,676.0" fill="none" stroke="#252d80" stroke-width="3.60" stroke-linejoin="round" stroke-linecap="round" opacity="1"/><polyline points="694.6,677.0 694.6,674.3 695.3,672.1 696.3,670.1 696.2,667.4 696.9,665.5 697.2,663.5 697.7,662.9 699.2,659.4 699.7,659.2 699.7,656.4 699.8,655.8 700.1,653.3 700.8,649.9 701.1,648.5 701.7,646.2 701.4,645.4 701.5,641.8 702.4,639.6 702.7,639.1 703.0,637.5 702.6,634.4 703.4,633.2 703.6,630.0 704.0,628.6 703.9,627.4 704.1,624.2 704.6,622.2 704.4,620.9 704.8,619.2 705.2,616.4 705.6,615.9 705.5,613.5 705.9,610.9 705.8,607.8 706.6,605.9 707.3,603.7 708.3,603.6 709.7,600.7 710.9,598.9 712.2,597.7 713.9,593.9 714.1,592.4 714.8,590.4 716.9,589.5 717.2,587.7 718.0,584.9 719.5,586.0 721.2,588.8 723.4,590.3 723.5,592.0 723.8,593.1 724.5,596.2 724.6,597.2 724.4,600.5 725.5,602.3 725.1,604.8 725.4,605.3 725.9,607.2 726.4,609.8 726.0,612.9 726.1,614.9 726.9,616.1 726.9,618.2 727.0,618.9 727.1,621.8 728.1,624.8 728.0,627.0 728.8,627.2 729.2,629.4 729.1,631.9 728.8,634.3 729.2,635.1 729.9,637.3 729.5,639.4 730.0,641.3 730.2,644.8 730.5,646.7 730.5,648.1 731.3,649.4 731.5,652.0 731.8,655.0 732.1,656.7 732.4,657.6 732.5,661.0 733.1,662.3 733.6,662.8 733.6,667.1 734.5,667.9 734.0,671.1 733.9,671.6 734.5,674.2 735.0,676.0" fill="none" stroke="#3fae6c" stroke-width="3.60" stroke-linejoin="round" stroke-linecap="round" opacity="1"/><polyline points="703.8,675.7 704.4,674.7 704.2,672.2 705.2,669.8 705.0,667.5 705.0,664.8 704.9,663.3 705.4,662.8 706.0,660.3 705.9,656.8 706.3,656.3 706.4,653.3 706.8,651.3 706.7,649.1 707.1,646.9 706.7,646.6 707.7,644.4 708.2,640.9 707.9,639.0 708.5,637.7 708.3,636.4 708.7,633.3 709.2,632.3 708.5,629.6 709.7,628.4 709.0,624.6 710.1,623.0 709.9,621.7 710.1,618.5 710.5,618.6 710.0,615.3 710.1,613.1 710.4,612.0 710.8,608.5 711.0,607.0 711.2,604.9 711.3,602.4 712.7,605.2 714.2,607.1 714.8,609.3 716.2,610.5 716.9,613.9 718.3,614.7 718.7,617.2 718.7,618.7 719.9,620.5 719.9,623.9 720.0,625.5 720.7,626.8 720.2,630.2 720.9,631.4 721.6,633.7 721.7,635.2 722.5,638.1 721.9,640.0 723.2,642.8 722.5,643.3 723.8,645.7 723.6,648.5 723.7,650.8 724.6,651.1 724.5,655.1 724.4,655.7 725.7,659.0 725.3,659.2 725.9,661.3 726.4,663.8 726.4,665.4 727.0,668.0 726.8,670.3 727.8,672.4 727.1,674.0 728.0,676.0" fill="none" stroke="#c8c23a" stroke-width="3.60" stroke-linejoin="round" stroke-linecap="round" opacity="1"/><polyline points="702.6,676.2 702.0,675.0 702.6,671.2 703.3,670.6 703.2,669.2 703.5,667.0 703.9,664.7 704.7,662.7 705.0,660.7 705.3,659.1 706.0,655.9 706.7,653.2 706.8,653.4 706.9,651.6 707.2,649.1 707.7,646.0 707.9,645.4 708.8,642.0 708.8,641.3 709.8,638.7 710.0,636.8 711.4,639.0 713.8,638.8 715.5,639.6 716.4,642.8 717.8,643.3 717.6,645.1 718.7,647.3 718.5,650.8 718.7,652.5 719.3,654.9 720.6,655.4 720.9,658.4 721.9,659.3 721.4,661.2 722.1,663.4 723.3,665.5 723.8,667.7 724.0,670.0" fill="none" stroke="#cf2c8c" stroke-width="3.60" stroke-linejoin="round" stroke-linecap="round" opacity="1"/><polyline points="720.2,675.3 720.7,674.9 720.5,671.2 721.2,669.2 721.4,668.3 721.2,665.8 721.7,663.3 722.4,662.1 722.4,660.8 723.0,658.4 722.8,655.9 723.4,653.3 723.8,650.6 724.4,649.6 724.8,647.5 725.2,646.3 724.9,643.4 725.0,641.8 725.9,640.5 726.3,636.8 726.4,634.5 726.4,632.8 728.7,631.2 730.5,630.7 731.4,628.7 733.5,627.4 735.1,625.6 737.7,626.3 739.1,625.9 742.1,624.4 743.8,626.8 745.1,626.4 747.0,629.7 748.8,629.8 749.1,632.4 749.6,635.0 750.5,634.7 751.5,636.6 752.4,640.3 752.4,641.9 753.2,642.5 753.6,645.7 754.2,647.9 755.1,648.4 756.0,650.6 755.7,653.5 756.8,656.0 757.6,656.8 758.2,660.0 758.1,661.6 758.7,662.6 759.1,664.6 760.4,666.4 760.9,669.6 761.4,671.4 762.0,671.2 763.1,673.9 764.0,676.0" fill="none" stroke="#2389b8" stroke-width="3.60" stroke-linejoin="round" stroke-linecap="round" opacity="1"/><polyline points="735.6,658.8 735.0,657.2 736.1,655.6 737.1,655.0 737.5,652.0 737.4,649.0 738.2,648.0 738.9,645.7 739.2,645.3 740.8,641.7 740.3,641.6 741.2,637.4 741.8,636.6 742.9,634.2 743.1,631.9 744.0,630.2 744.3,629.5 745.5,625.8 746.5,629.7 747.9,631.5 748.7,632.0 750.1,634.2 752.5,635.0 753.2,637.7 753.8,639.2 754.2,640.8 754.6,644.6 755.3,647.1 756.4,649.0 756.3,649.9 757.6,651.9 757.6,653.9 758.4,655.4 759.0,658.4 760.0,660.0" fill="none" stroke="#3fae6c" stroke-width="3.60" stroke-linejoin="round" stroke-linecap="round" opacity="1"/><polyline points="726.3,676.3 726.1,674.6 727.6,671.4 727.3,670.3 728.5,667.7 729.3,665.8 729.5,664.9 730.2,661.8 730.7,661.5 730.9,657.7 731.5,656.7 732.2,654.6 732.1,652.9 733.2,651.0 732.9,649.6 733.4,645.4 733.4,644.9 734.8,643.5 735.1,639.8 735.5,637.6 736.7,640.8 737.1,642.8 738.3,644.3 740.4,646.1 740.2,648.1 741.4,651.0 742.4,652.8 742.5,653.9 743.4,656.0 743.6,658.0 744.6,660.2 745.9,663.5 746.2,663.7 746.2,666.4 747.2,667.9 747.8,671.4 749.4,674.5 750.0,676.0" fill="none" stroke="#cf2c8c" stroke-width="3.60" stroke-linejoin="round" stroke-linecap="round" opacity="1"/><polyline points="745.5,675.1 745.7,673.5 745.9,671.2 747.2,669.1 747.5,667.5 747.5,664.9 748.7,663.0 748.8,662.7 750.0,659.9 750.9,657.7 750.9,656.9 751.3,653.3 751.7,651.3 753.0,650.8 753.0,648.2 754.5,651.3 755.6,651.8 755.6,654.0 756.4,657.1 757.8,657.8 757.7,660.8 758.0,661.8 758.5,664.3 759.5,665.6 760.4,669.1 760.7,669.7 760.9,671.9 761.1,675.0 762.0,676.0" fill="none" stroke="#252d80" stroke-width="3.60" stroke-linejoin="round" stroke-linecap="round" opacity="1"/><polyline points="759.6,677.2 760.1,674.1 760.6,671.1 761.7,670.5 761.9,668.5 762.2,664.5 763.3,663.0 763.8,661.2 764.4,659.3 765.2,655.6 766.0,658.4 765.9,661.2 766.3,662.7 767.2,664.6 768.2,667.7 767.8,670.7 769.0,670.6 769.9,673.7 770.0,676.0" fill="none" stroke="#3fae6c" stroke-width="2.88" stroke-linejoin="round" stroke-linecap="round" opacity="1"/><polyline points="772.1,677.1 774.1,675.3 776.5,674.1 777.7,671.5 778.1,668.1 778.6,668.3 779.5,664.9 780.3,662.9 781.0,662.2 780.9,660.0 782.3,657.8 782.0,655.2 783.4,653.1 784.3,651.3 784.6,648.7 784.9,646.9 786.9,644.4 788.2,644.4 790.2,643.1 790.9,644.3 791.7,648.0 793.6,650.6 793.3,653.0 794.0,654.6 794.9,657.0 795.1,659.1 795.3,661.6 796.1,662.6 796.8,664.0 796.7,666.0 797.1,669.4 798.1,672.2 798.5,674.1 800.6,674.2 802.0,676.0" fill="none" stroke="#252d80" stroke-width="3.60" stroke-linejoin="round" stroke-linecap="round" opacity="1"/><polyline points="778.6,676.8 778.4,673.7 778.9,671.5 779.6,670.1 780.5,668.1 781.6,665.4 782.1,662.7 782.4,661.6 782.5,660.2 783.8,657.6 784.4,655.1 786.3,657.6 788.3,658.2 790.2,659.6 790.5,661.5 791.7,663.5 792.1,666.2 792.9,668.6 793.9,670.0 794.7,671.6 795.8,674.3 796.0,676.0" fill="none" stroke="#3fae6c" stroke-width="3.12" stroke-linejoin="round" stroke-linecap="round" opacity="1"/><polyline points="798.5,675.9 798.5,675.1 799.3,671.0 800.6,669.2 801.3,668.3 801.8,666.6 802.8,664.7 803.9,661.6 804.6,659.4 805.2,657.6 805.6,659.5 806.2,661.9 807.1,664.0 807.5,665.6 808.3,669.3 809.6,671.8 810.0,673.0" fill="none" stroke="#cf2c8c" stroke-width="3.12" stroke-linejoin="round" stroke-linecap="round" opacity="1"/><polyline points="809.6,675.5 811.0,673.9 811.5,671.4 812.5,669.0 815.1,668.8 818.0,665.6 818.9,669.4 819.8,670.2 820.2,671.7 820.7,675.3 822.0,676.0" fill="none" stroke="#168b80" stroke-width="2.88" stroke-linejoin="round" stroke-linecap="round" opacity="1"/><polyline points="817.4,676.0 819.0,673.0 819.8,672.6 820.3,671.0 820.5,667.8 821.9,665.8 821.9,663.1 822.9,661.3 823.5,660.4 824.1,659.0 825.2,656.1 826.4,654.0 826.2,653.0 827.3,651.1 828.2,647.8 829.8,646.7 831.7,645.6 833.7,645.5 835.1,643.2 836.5,643.5 838.4,643.6 839.4,646.4 840.5,648.3 842.2,649.1 843.8,649.9 845.4,653.2 845.2,653.6 845.9,655.6 846.1,657.4 846.8,660.6 847.4,662.8 848.0,663.1 847.3,666.9 848.2,669.2 848.4,670.5 849.2,671.4 850.1,674.4 850.0,676.0" fill="none" stroke="#cf2c8c" stroke-width="3.60" stroke-linejoin="round" stroke-linecap="round" opacity="1"/><polyline points="820.2,676.5 820.5,673.6 822.6,671.9 822.4,669.8 823.5,667.0 825.0,665.6 825.5,664.9 827.2,661.5 828.0,660.7 830.9,657.7 832.5,656.9 834.6,657.9 837.1,655.1 839.1,654.8 841.6,656.0 843.0,656.0 843.4,658.4 844.9,659.9 846.4,663.6 846.5,664.9 848.2,666.4 848.6,667.9 849.7,668.8 851.5,671.0 852.5,672.3 854.5,674.3 856.0,676.0" fill="none" stroke="#3fae6c" stroke-width="4.08" stroke-linejoin="round" stroke-linecap="round" opacity="1"/><polyline points="823.7,674.9 825.3,675.3 826.2,673.2 828.0,669.9 829.4,669.8 830.3,666.9 832.4,663.9 833.6,664.8 836.1,664.5 837.8,661.6 840.1,661.8 840.8,664.1 842.0,664.5 843.5,668.4 843.5,669.1 844.4,670.2 846.2,671.4 846.9,674.9 848.0,676.0" fill="none" stroke="#168b80" stroke-width="3.60" stroke-linejoin="round" stroke-linecap="round" opacity="1"/><polyline points="849.5,675.0 850.9,675.0 850.9,671.2 851.8,670.7 852.2,668.4 852.5,666.1 853.8,662.9 854.7,661.6 854.9,659.9 855.0,656.9 856.3,655.6 857.1,653.6 857.2,651.9 857.5,650.6 859.1,647.9 859.9,645.3 861.2,645.2 861.7,641.8 862.9,641.0 862.7,637.2 863.8,640.3 863.8,643.1 864.5,643.6 865.2,645.6 865.4,649.4 866.3,650.5 866.0,652.4 866.3,653.5 867.2,655.9 867.9,658.9 868.5,659.5 868.6,663.0 867.9,663.3 869.1,666.4 869.0,667.7 868.9,669.7 869.2,672.7 870.2,673.4 870.0,676.0" fill="none" stroke="#7a2e9c" stroke-width="3.60" stroke-linejoin="round" stroke-linecap="round" opacity="1"/><polyline points="851.6,675.2 852.7,674.1 853.7,672.5 854.5,668.9 855.6,668.4 856.8,666.9 857.7,664.8 858.5,662.9 859.7,659.5 860.9,659.0 861.7,655.3 863.3,654.1 863.5,651.1 865.0,651.1 865.5,646.9 866.2,650.1 866.5,652.0 867.6,653.3 867.1,657.0 867.9,659.1 868.5,660.9 868.6,661.4 868.3,664.5 869.2,665.5 870.2,668.3 870.0,670.0" fill="none" stroke="#252d80" stroke-width="3.60" stroke-linejoin="round" stroke-linecap="round" opacity="1"/><polyline points="856.4,676.8 856.6,674.2 857.7,673.3 859.4,670.6 860.5,669.3 861.1,667.3 862.0,666.4 863.2,664.6 863.5,661.3 865.4,663.0 865.9,665.4 866.6,668.4 867.6,668.9 869.0,672.0" fill="none" stroke="#c8c23a" stroke-width="3.12" stroke-linejoin="round" stroke-linecap="round" opacity="1"/><polyline points="848.0,625.0 848.0,640.0" fill="none" stroke="#3fae6c" stroke-width="2.0" stroke-dasharray="2 2"/><polyline points="820.6,675.6 821.6,672.9 822.6,671.2 822.9,669.2 823.4,669.0 824.0,666.4 825.7,663.7 825.8,662.7 828.6,659.6 829.9,657.5 832.1,656.7 834.3,657.3 835.7,657.9 837.9,660.6 839.3,660.4 839.8,662.4 841.5,665.0 842.8,665.6 844.0,666.9 844.6,670.0 845.8,671.3 847.0,672.9 848.0,676.0" fill="none" stroke="#20a070" stroke-width="3.84" stroke-linejoin="round" stroke-linecap="round" opacity="1"/><polyline points="822.9,675.9 824.1,673.4 825.9,672.8 827.7,671.7 828.1,670.1 829.5,667.8 832.2,667.1 834.2,665.2 836.6,663.0 837.3,666.7 838.8,666.8 840.1,668.4 840.5,670.4 842.2,671.7 844.5,674.7 846.0,676.0" fill="none" stroke="#3aa860" stroke-width="4.08" stroke-linejoin="round" stroke-linecap="round" opacity="1"/><polyline points="826.2,675.2 828.2,674.9 829.5,674.0 831.9,672.6 833.5,671.6 835.6,672.0 837.6,673.9 840.0,674.0" fill="none" stroke="#2a9a80" stroke-width="3.60" stroke-linejoin="round" stroke-linecap="round" opacity="1"/><polyline points="788.0,627.0 795.0,640.0" fill="none" stroke="#8fa83a" stroke-width="2.0" stroke-dasharray="2 2"/></g>
<rect x="431" y="171" width="134" height="71" fill="#fff"/><rect x="466" y="240" width="30" height="28" fill="#fff"/>
<g font-family="Liberation Sans, sans-serif" fill="#151515" font-size="18px" stroke="#151515" stroke-width="0.25">
<text x="435.5" y="193" textLength="122" lengthAdjust="spacingAndGlyphs">Made process</text>
<text x="435.5" y="216" textLength="130" lengthAdjust="spacingAndGlyphs">moves to lower</text>
<text x="435.5" y="239" textLength="119.5" lengthAdjust="spacingAndGlyphs">corrosion rate</text>
<text x="598.5" y="228" textLength="157.5" lengthAdjust="spacingAndGlyphs">Additional process</text>
<text x="598.5" y="251" textLength="73" lengthAdjust="spacingAndGlyphs">changes</text>
</g>
<path d="M475.5,241.5 H486 V252 H492 L480.7,262 L469,252 H475.5 Z" fill="#283090"/>
<path d="M594.5,256.5 H605.5 V266.5 H612 L600,277 L588,266.5 H594.5 Z" fill="#283090"/>
<text x="288.5" y="165.6" font-family="Liberation Sans, sans-serif" font-weight="bold" font-size="13px" fill="#111" textLength="223" lengthAdjust="spacingAndGlyphs">Corrosion Rate (short term)in/yr</text>
<text transform="translate(88,503.5) rotate(-90)" font-family="Liberation Sans, sans-serif" font-size="10.5px" fill="#3a3a3a" stroke="#3a3a3a" stroke-width="0.35" textLength="135" lengthAdjust="spacingAndGlyphs">Corrosion Rate (short term)in/yr</text>
<text transform="translate(154.8,692) rotate(-38)" text-anchor="end" font-family="Liberation Sans, sans-serif" font-weight="bold" font-size="11px" fill="#505050" stroke="#505050" stroke-width="0.2" textLength="55" lengthAdjust="spacingAndGlyphs">12/27/2020</text><text transform="translate(186.8,692) rotate(-38)" text-anchor="end" font-family="Liberation Sans, sans-serif" font-weight="bold" font-size="11px" fill="#505050" stroke="#505050" stroke-width="0.2" textLength="55" lengthAdjust="spacingAndGlyphs">01/03/2021</text><text transform="translate(218.8,692) rotate(-38)" text-anchor="end" font-family="Liberation Sans, sans-serif" font-weight="bold" font-size="11px" fill="#505050" stroke="#505050" stroke-width="0.2" textLength="55" lengthAdjust="spacingAndGlyphs">01/10/2021</text><text transform="translate(250.8,692) rotate(-38)" text-anchor="end" font-family="Liberation Sans, sans-serif" font-weight="bold" font-size="11px" fill="#505050" stroke="#505050" stroke-width="0.2" textLength="55" lengthAdjust="spacingAndGlyphs">01/17/2021</text><text transform="translate(282.8,692) rotate(-38)" text-anchor="end" font-family="Liberation Sans, sans-serif" font-weight="bold" font-size="11px" fill="#505050" stroke="#505050" stroke-width="0.2" textLength="55" lengthAdjust="spacingAndGlyphs">01/24/2021</text><text transform="translate(314.8,692) rotate(-38)" text-anchor="end" font-family="Liberation Sans, sans-serif" font-weight="bold" font-size="11px" fill="#505050" stroke="#505050" stroke-width="0.2" textLength="55" lengthAdjust="spacingAndGlyphs">01/31/2021</text><text transform="translate(346.8,692) rotate(-38)" text-anchor="end" font-family="Liberation Sans, sans-serif" font-weight="bold" font-size="11px" fill="#505050" stroke="#505050" stroke-width="0.2" textLength="55" lengthAdjust="spacingAndGlyphs">02/07/2021</text><text transform="translate(378.8,692) rotate(-38)" text-anchor="end" font-family="Liberation Sans, sans-serif" font-weight="bold" font-size="11px" fill="#505050" stroke="#505050" stroke-width="0.2" textLength="55" lengthAdjust="spacingAndGlyphs">02/14/2021</text><text transform="translate(410.8,692) rotate(-38)" text-anchor="end" font-family="Liberation Sans, sans-serif" font-weight="bold" font-size="11px" fill="#505050" stroke="#505050" stroke-width="0.2" textLength="55" lengthAdjust="spacingAndGlyphs">02/21/2021</text><text transform="translate(442.8,692) rotate(-38)" text-anchor="end" font-family="Liberation Sans, sans-serif" font-weight="bold" font-size="11px" fill="#505050" stroke="#505050" stroke-width="0.2" textLength="55" lengthAdjust="spacingAndGlyphs">02/28/2021</text><text transform="translate(474.8,692) rotate(-38)" text-anchor="end" font-family="Liberation Sans, sans-serif" font-weight="bold" font-size="11px" fill="#505050" stroke="#505050" stroke-width="0.2" textLength="55" lengthAdjust="spacingAndGlyphs">03/07/2021</text><text transform="translate(506.8,692) rotate(-38)" text-anchor="end" font-family="Liberation Sans, sans-serif" font-weight="bold" font-size="11px" fill="#505050" stroke="#505050" stroke-width="0.2" textLength="55" lengthAdjust="spacingAndGlyphs">03/14/2021</text><text transform="translate(538.8,692) rotate(-38)" text-anchor="end" font-family="Liberation Sans, sans-serif" font-weight="bold" font-size="11px" fill="#505050" stroke="#505050" stroke-width="0.2" textLength="55" lengthAdjust="spacingAndGlyphs">03/21/2021</text><text transform="translate(570.8,692) rotate(-38)" text-anchor="end" font-family="Liberation Sans, sans-serif" font-weight="bold" font-size="11px" fill="#505050" stroke="#505050" stroke-width="0.2" textLength="55" lengthAdjust="spacingAndGlyphs">03/28/2021</text><text transform="translate(602.8,692) rotate(-38)" text-anchor="end" font-family="Liberation Sans, sans-serif" font-weight="bold" font-size="11px" fill="#505050" stroke="#505050" stroke-width="0.2" textLength="55" lengthAdjust="spacingAndGlyphs">04/04/2021</text><text transform="translate(634.8,692) rotate(-38)" text-anchor="end" font-family="Liberation Sans, sans-serif" font-weight="bold" font-size="11px" fill="#505050" stroke="#505050" stroke-width="0.2" textLength="55" lengthAdjust="spacingAndGlyphs">04/11/2021</text><text transform="translate(666.8,692) rotate(-38)" text-anchor="end" font-family="Liberation Sans, sans-serif" font-weight="bold" font-size="11px" fill="#505050" stroke="#505050" stroke-width="0.2" textLength="55" lengthAdjust="spacingAndGlyphs">04/18/2021</text><text transform="translate(698.8,692) rotate(-38)" text-anchor="end" font-family="Liberation Sans, sans-serif" font-weight="bold" font-size="11px" fill="#505050" stroke="#505050" stroke-width="0.2" textLength="55" lengthAdjust="spacingAndGlyphs">04/25/2021</text><text transform="translate(730.8,692) rotate(-38)" text-anchor="end" font-family="Liberation Sans, sans-serif" font-weight="bold" font-size="11px" fill="#505050" stroke="#505050" stroke-width="0.2" textLength="55" lengthAdjust="spacingAndGlyphs">05/02/2021</text><text transform="translate(762.8,692) rotate(-38)" text-anchor="end" font-family="Liberation Sans, sans-serif" font-weight="bold" font-size="11px" fill="#505050" stroke="#505050" stroke-width="0.2" textLength="55" lengthAdjust="spacingAndGlyphs">05/09/2021</text><text transform="translate(794.8,692) rotate(-38)" text-anchor="end" font-family="Liberation Sans, sans-serif" font-weight="bold" font-size="11px" fill="#505050" stroke="#505050" stroke-width="0.2" textLength="55" lengthAdjust="spacingAndGlyphs">05/16/2021</text><text transform="translate(826.8,692) rotate(-38)" text-anchor="end" font-family="Liberation Sans, sans-serif" font-weight="bold" font-size="11px" fill="#505050" stroke="#505050" stroke-width="0.2" textLength="55" lengthAdjust="spacingAndGlyphs">05/23/2021</text><text transform="translate(858.8,692) rotate(-38)" text-anchor="end" font-family="Liberation Sans, sans-serif" font-weight="bold" font-size="11px" fill="#505050" stroke="#505050" stroke-width="0.2" textLength="55" lengthAdjust="spacingAndGlyphs">05/30/2021</text>
<text x="464" y="739.5" font-family="Liberation Sans, sans-serif" font-weight="bold" font-size="10.5px" fill="#444" textLength="64" lengthAdjust="spacingAndGlyphs">Results Time</text>
<circle cx="888" cy="177.2" r="2.1" fill="#2b4a9a"/><text x="898.5" y="180.2" font-family="Liberation Sans, sans-serif" font-size="11.5px" fill="#3a3a3a" stroke="#3a3a3a" stroke-width="0.2" textLength="164.5" lengthAdjust="spacingAndGlyphs">Corrosion Rate (short term)in/yr</text><circle cx="888" cy="189.1" r="2.1" fill="#c8264a"/><text x="898.5" y="192.1" font-family="Liberation Sans, sans-serif" font-size="11.5px" fill="#3a3a3a" stroke="#3a3a3a" stroke-width="0.2" textLength="164.5" lengthAdjust="spacingAndGlyphs">Corrosion Rate (short term)in/yr</text><circle cx="888" cy="201.0" r="2.1" fill="#2aa04a"/><text x="898.5" y="204.0" font-family="Liberation Sans, sans-serif" font-size="11.5px" fill="#3a3a3a" stroke="#3a3a3a" stroke-width="0.2" textLength="164.5" lengthAdjust="spacingAndGlyphs">Corrosion Rate (short term)in/yr</text><circle cx="888" cy="212.9" r="2.1" fill="#6a3a8a"/><text x="898.5" y="215.9" font-family="Liberation Sans, sans-serif" font-size="11.5px" fill="#3a3a3a" stroke="#3a3a3a" stroke-width="0.2" textLength="164.5" lengthAdjust="spacingAndGlyphs">Corrosion Rate (short term)in/yr</text><circle cx="888" cy="224.8" r="2.1" fill="#d07a3a"/><text x="898.5" y="227.8" font-family="Liberation Sans, sans-serif" font-size="11.5px" fill="#3a3a3a" stroke="#3a3a3a" stroke-width="0.2" textLength="164.5" lengthAdjust="spacingAndGlyphs">Corrosion Rate (short term)in/yr</text><circle cx="888" cy="236.8" r="2.1" fill="#20a080"/><text x="898.5" y="239.8" font-family="Liberation Sans, sans-serif" font-size="11.5px" fill="#3a3a3a" stroke="#3a3a3a" stroke-width="0.2" textLength="164.5" lengthAdjust="spacingAndGlyphs">Corrosion Rate (short term)in/yr</text><circle cx="888" cy="248.7" r="2.1" fill="#9a3a8a"/><text x="898.5" y="251.7" font-family="Liberation Sans, sans-serif" font-size="11.5px" fill="#3a3a3a" stroke="#3a3a3a" stroke-width="0.2" textLength="164.5" lengthAdjust="spacingAndGlyphs">Corrosion Rate (short term)in/yr</text><circle cx="888" cy="260.6" r="2.1" fill="#b8b840"/><text x="898.5" y="263.6" font-family="Liberation Sans, sans-serif" font-size="11.5px" fill="#3a3a3a" stroke="#3a3a3a" stroke-width="0.2" textLength="164.5" lengthAdjust="spacingAndGlyphs">Corrosion Rate (short term)in/yr</text><circle cx="888" cy="272.5" r="2.1" fill="#20a090"/><text x="898.5" y="275.5" font-family="Liberation Sans, sans-serif" font-size="11.5px" fill="#3a3a3a" stroke="#3a3a3a" stroke-width="0.2" textLength="164.5" lengthAdjust="spacingAndGlyphs">Corrosion Rate (short term)in/yr</text><circle cx="888" cy="284.4" r="2.1" fill="#c03060"/><text x="898.5" y="287.4" font-family="Liberation Sans, sans-serif" font-size="11.5px" fill="#3a3a3a" stroke="#3a3a3a" stroke-width="0.2" textLength="164.5" lengthAdjust="spacingAndGlyphs">Corrosion Rate (short term)in/yr</text><circle cx="888" cy="296.3" r="2.1" fill="#8ab04a"/><text x="898.5" y="299.3" font-family="Liberation Sans, sans-serif" font-size="11.5px" fill="#3a3a3a" stroke="#3a3a3a" stroke-width="0.2" textLength="164.5" lengthAdjust="spacingAndGlyphs">Corrosion Rate (short term)in/yr</text><circle cx="888" cy="308.2" r="2.1" fill="#3a9ad0"/><text x="898.5" y="311.2" font-family="Liberation Sans, sans-serif" font-size="11.5px" fill="#3a3a3a" stroke="#3a3a3a" stroke-width="0.2" textLength="164.5" lengthAdjust="spacingAndGlyphs">Corrosion Rate (short term)in/yr</text><circle cx="888" cy="320.1" r="2.1" fill="#8a9a30"/><text x="898.5" y="323.1" font-family="Liberation Sans, sans-serif" font-size="11.5px" fill="#3a3a3a" stroke="#3a3a3a" stroke-width="0.2" textLength="164.5" lengthAdjust="spacingAndGlyphs">Corrosion Rate (short term)in/yr</text><circle cx="888" cy="332.0" r="2.1" fill="#40b080"/><text x="898.5" y="335.0" font-family="Liberation Sans, sans-serif" font-size="11.5px" fill="#3a3a3a" stroke="#3a3a3a" stroke-width="0.2" textLength="164.5" lengthAdjust="spacingAndGlyphs">Corrosion Rate (short term)in/yr</text><circle cx="888" cy="343.9" r="2.1" fill="#1a2a6a"/><text x="898.5" y="346.9" font-family="Liberation Sans, sans-serif" font-size="11.5px" fill="#3a3a3a" stroke="#3a3a3a" stroke-width="0.2" textLength="164.5" lengthAdjust="spacingAndGlyphs">Corrosion Rate (short term)in/yr</text><circle cx="888" cy="355.9" r="2.1" fill="#5a2a8a"/><text x="898.5" y="358.9" font-family="Liberation Sans, sans-serif" font-size="11.5px" fill="#3a3a3a" stroke="#3a3a3a" stroke-width="0.2" textLength="164.5" lengthAdjust="spacingAndGlyphs">Corrosion Rate (short term)in/yr</text><circle cx="888" cy="367.8" r="2.1" fill="#d08060"/><text x="898.5" y="370.8" font-family="Liberation Sans, sans-serif" font-size="11.5px" fill="#3a3a3a" stroke="#3a3a3a" stroke-width="0.2" textLength="164.5" lengthAdjust="spacingAndGlyphs">Corrosion Rate (short term)in/yr</text><circle cx="888" cy="379.7" r="2.1" fill="#2a6a3a"/><text x="898.5" y="382.7" font-family="Liberation Sans, sans-serif" font-size="11.5px" fill="#3a3a3a" stroke="#3a3a3a" stroke-width="0.2" textLength="164.5" lengthAdjust="spacingAndGlyphs">Corrosion Rate (short term)in/yr</text><circle cx="888" cy="391.6" r="2.1" fill="#20a070"/><text x="898.5" y="394.6" font-family="Liberation Sans, sans-serif" font-size="11.5px" fill="#3a3a3a" stroke="#3a3a3a" stroke-width="0.2" textLength="164.5" lengthAdjust="spacingAndGlyphs">Corrosion Rate (short term)in/yr</text><circle cx="888" cy="403.5" r="2.1" fill="#9a9ac0"/><text x="898.5" y="406.5" font-family="Liberation Sans, sans-serif" font-size="11.5px" fill="#3a3a3a" stroke="#3a3a3a" stroke-width="0.2" textLength="164.5" lengthAdjust="spacingAndGlyphs">Corrosion Rate (short term)in/yr</text>
</svg>
<div class="cap"><span class="fg">FIGURE 4</span>Purposeful operational changes made to lower corrosion rates.</div>
<div class="ln l" style="left:74px;top:818.99px;letter-spacing:0.45px">decrease in temperature).</div>
<div class="ln i" style="left:74px;top:843.59px;letter-spacing:0.07px">This data was reviewed, and once some of</div>
<div class="ln j" style="left:74px;top:868.19px;letter-spacing:0.70px">the key variables impacting the corrosion</div>
<div class="ln j" style="left:74px;top:892.79px;letter-spacing:1.26px">rates were identified, the process was</div>
<div class="ln j" style="left:74px;top:917.39px;letter-spacing:0.51px">adjusted to lower the corrosion rate. While</div>
<div class="ln j" style="left:74px;top:941.99px;letter-spacing:0.30px">some process changes were effective at low-</div>
<div class="ln j" style="left:74px;top:966.59px;letter-spacing:1.59px">ering corrosion rates, some changes</div>
<div class="ln j" style="left:74px;top:991.19px;letter-spacing:0.42px">impacted other variables that were found to</div>
<div class="ln j" style="left:74px;top:1015.79px;letter-spacing:0.24px">subsequently increase rates. This led to iden-</div>
<div class="ln j" style="left:74px;top:1040.39px;letter-spacing:0.41px">tifying additional correlations between pro-</div>
<div class="ln j" style="left:74px;top:1064.99px;letter-spacing:0.17px">cess variables that were able to be adjusted in</div>
<div class="ln j" style="left:74px;top:1089.59px;letter-spacing:0.48px">order to lower the corrosion rates to within</div>
<div class="ln l" style="left:74px;top:1114.19px;letter-spacing:0.45px">historical values.</div>
<div class="ln i" style="left:74px;top:1138.79px;letter-spacing:0.40px">Figure 4 shows the calculated corrosion</div>
<div class="ln j" style="left:74px;top:1163.39px;letter-spacing:0.19px">rates from the wireless sensors located in dif-</div>
<div class="ln j" style="left:74px;top:1187.99px;letter-spacing:0.33px">ferent locations throughout the system over-</div>
<div class="ln j" style="left:74px;top:1212.59px;letter-spacing:0.46px">laid on the same graph vs. time. This graph</div>
<div class="ln j" style="left:74px;top:1237.19px;letter-spacing:0.59px">highlights the overall effects of the opera-</div>
<div class="ln j" style="left:74px;top:1261.79px;letter-spacing:1.40px">tional changes on the corrosion rates</div>
<div class="ln j" style="left:74px;top:1286.39px;letter-spacing:0.80px">throughout the system while the trouble-</div>
<div class="ln j" style="left:74px;top:1310.99px;letter-spacing:0.60px">shooting was performed and allowed for a</div>
<div class="ln j" style="left:74px;top:1335.59px;letter-spacing:0.32px">holistic view of corrosion rates to be seen in</div>
<div class="ln j" style="left:74px;top:1360.19px;letter-spacing:0.53px">different locations in the system. Based on</div>
<div class="ln j" style="left:74px;top:1384.79px;letter-spacing:0.61px">the troubleshooting and identified process</div>
<div class="ln j" style="left:74px;top:1409.39px;letter-spacing:0.28px">changes that were shown to ultimately lower</div>
<div class="ln j" style="left:74px;top:1433.99px;letter-spacing:0.40px">the corrosion rates back to historical levels,</div>
<div class="ln j" style="left:74px;top:1458.59px;letter-spacing:0.30px">additional safeguards and operational proce-</div>
<div class="ln j" style="left:434px;top:818.99px;letter-spacing:0.90px">dures were implemented to maintain the</div>
<div class="ln l" style="left:434px;top:843.59px;letter-spacing:0.45px">lower corrosion rates.</div>
<div class="concl">Conclusions</div>
<div class="ln i" style="left:434px;top:941.99px;letter-spacing:0.61px">Corrosion/erosion is a widespread and</div>
<div class="ln j" style="left:434px;top:966.59px;letter-spacing:0.39px">costly problem for many asset owners. Cur-</div>
<div class="ln j" style="left:434px;top:991.19px;letter-spacing:0.52px">rently, manual ultrasonics and radiography</div>
<div class="ln j" style="left:434px;top:1015.79px;letter-spacing:0.39px">are widely deployed to measure asset integ-</div>
<div class="ln j" style="left:434px;top:1040.39px;letter-spacing:0.62px">rity for wall-thickness degradation. While</div>
<div class="ln j" style="left:434px;top:1064.99px;letter-spacing:0.41px">these techniques are common and accepted,</div>
<div class="ln j" style="left:434px;top:1089.59px;letter-spacing:0.28px">there are drawbacks in the accuracy and pre-</div>
<div class="ln j" style="left:434px;top:1114.19px;letter-spacing:0.33px">cision of these measurements, and they only</div>
<div class="ln j" style="left:434px;top:1138.79px;letter-spacing:0.21px">take a periodic snapshot view of asset health.</div>
<div class="ln j" style="left:434px;top:1163.39px;letter-spacing:0.25px">Asset managers desire a more real-time view</div>
<div class="ln j" style="left:434px;top:1187.99px;letter-spacing:0.15px">of the health of their facilities and equipment.</div>
<div class="ln j" style="left:434px;top:1212.59px;letter-spacing:0.13px">Additionally, the difficulty and cost of access,</div>
<div class="ln j" style="left:434px;top:1237.19px;letter-spacing:0.30px">safety concerns, and regulatory environment</div>
<div class="ln j" style="left:434px;top:1261.79px;letter-spacing:1.20px">changes are further driving interest in</div>
<div class="ln l" style="left:434px;top:1286.39px;letter-spacing:0.45px">installed monitoring systems.</div>
<div class="ln i" style="left:434px;top:1310.99px;letter-spacing:0.90px">Installed ultrasonic sensors have the</div>
<div class="ln j" style="left:434px;top:1335.59px;letter-spacing:0.32px">potential for improved asset-health monitor-</div>
<div class="ln j" style="left:434px;top:1360.19px;letter-spacing:0.51px">ing compared to current manual inspection</div>
<div class="ln j" style="left:434px;top:1384.79px;letter-spacing:0.89px">techniques.  Ultrasonic sensors are non-</div>
<div class="ln j" style="left:434px;top:1409.39px;letter-spacing:0.23px">intrusive and are being permanently installed</div>
<div class="ln j" style="left:434px;top:1433.99px;letter-spacing:0.87px">with automated or semi-automated data-</div>
<div class="ln j" style="left:434px;top:1458.59px;letter-spacing:0.29px">collection schemes that reduce key variables</div>
<div class="ln j" style="left:794px;top:818.99px;letter-spacing:0.82px">such as operator interaction, resulting in</div>
<div class="ln j" style="left:794px;top:843.59px;letter-spacing:0.42px">improved measurement accuracy and preci-</div>
<div class="ln j" style="left:794px;top:868.19px;letter-spacing:0.27px">sion.  Other key noise variables such as tem-</div>
<div class="ln j" style="left:794px;top:892.79px;letter-spacing:0.56px">perature change can be removed automati-</div>
<div class="ln j" style="left:794px;top:917.39px;letter-spacing:0.29px">cally with temperature sensors and software.</div>
<div class="ln j" style="left:794px;top:941.99px;letter-spacing:0.65px">Thus, installed ultrasonic monitoring sys-</div>
<div class="ln j" style="left:794px;top:966.59px;letter-spacing:0.33px">tems can provide more accurate data, allow-</div>
<div class="ln j" style="left:794px;top:991.19px;letter-spacing:0.43px">ing enhanced trending and feedback to pro-</div>
<div class="ln l" style="left:794px;top:1015.79px;letter-spacing:0.45px">cess variables.</div>
<div class="ln i" style="left:794px;top:1040.39px;letter-spacing:1.05px">Opportunities for corrosion/erosion</div>
<div class="ln j" style="left:794px;top:1064.99px;letter-spacing:0.40px">monitoring systems are widespread, includ-</div>
<div class="ln j" style="left:794px;top:1089.59px;letter-spacing:0.33px">ing applications such as electrical resistance</div>
<div class="ln j" style="left:794px;top:1114.19px;letter-spacing:0.25px">probe or coupon replacement, mix-point cor-</div>
<div class="ln j" style="left:794px;top:1138.79px;letter-spacing:0.10px">rosion, crude overhead lines, effluent air cool-</div>
<div class="ln j" style="left:794px;top:1163.39px;letter-spacing:0.48px">ers, buried pipelines, and offshore risers as</div>
<div class="ln j" style="left:794px;top:1187.99px;letter-spacing:0.07px">well as an almost unlimited variety of applica-</div>
<div class="ln j" style="left:794px;top:1212.59px;letter-spacing:0.94px">tions where conventional UT and radio-</div>
<div class="ln j" style="left:794px;top:1237.19px;letter-spacing:0.13px">graphic testing inspections are deployed. Cor-</div>
<div class="ln j" style="left:794px;top:1261.79px;letter-spacing:0.32px">rosion in some systems such as sulfuric acid</div>
<div class="ln j" style="left:794px;top:1286.39px;letter-spacing:0.47px">containing process streams can be complex</div>
<div class="ln j" style="left:794px;top:1310.99px;letter-spacing:0.69px">and difficult to troubleshoot and monitor.</div>
<div class="ln j" style="left:794px;top:1335.59px;letter-spacing:0.64px">Current manual inspection techniques can</div>
<div class="ln j" style="left:794px;top:1360.19px;letter-spacing:0.41px">provide necessary data to determine overall</div>
<div class="ln j" style="left:794px;top:1384.79px;letter-spacing:0.14px">integrity of a system but cannot typically pro-</div>
<div class="ln j" style="left:794px;top:1409.39px;letter-spacing:0.26px">vide the extent and frequency of data needed</div>
<div class="ln j" style="left:794px;top:1433.99px;letter-spacing:0.15px">to provide real-time troubleshooting. This has</div>
<div class="ln j" style="left:794px;top:1458.59px;letter-spacing:0.39px">historically been accomplished with on-line</div>
<div class="foot1">MATERIALS PERFORMANCE: VOL. 62, NO. 4</div>
<div class="foot2">APRIL 2023</div>
<div class="foot3">39</div>
</body></html>
